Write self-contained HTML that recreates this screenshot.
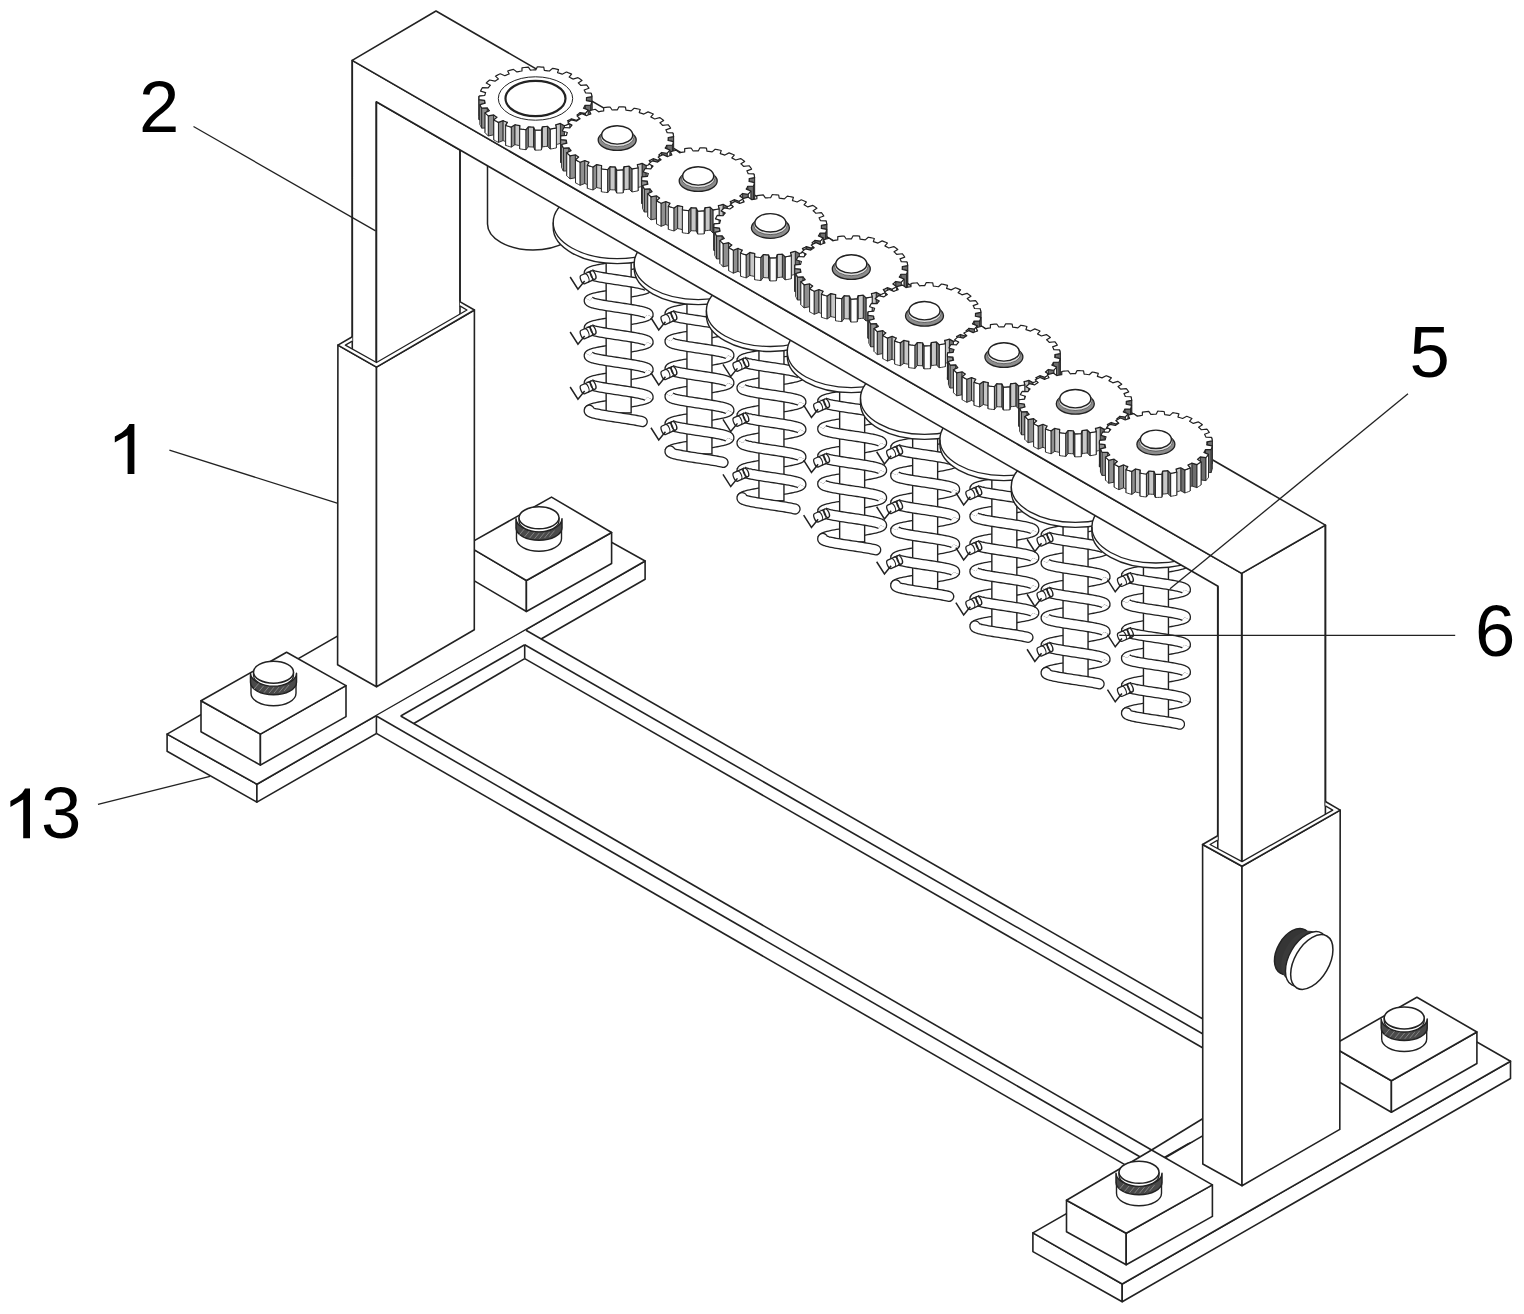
<!DOCTYPE html><html><head><meta charset="utf-8"><style>html,body{margin:0;padding:0;background:#fff;overflow:hidden}svg{display:block}</style></head><body><svg width="1524" height="1314" viewBox="0 0 1524 1314"><rect width="1524" height="1314" fill="#fff"/>
<polygon points="167.1,734.1 256.9,784.2 256.9,802.1 167.1,751.3" fill="#fff" stroke="#222" stroke-width="1.6" stroke-linejoin="round"/>
<polygon points="256.9,784.2 645.1,561 645.1,579.3 256.9,802.1" fill="#fff" stroke="#222" stroke-width="1.6" stroke-linejoin="round"/>
<polygon points="167.1,734.1 256.9,784.2 645.1,561 555.3,510.9" fill="#fff" stroke="#222" stroke-width="1.6" stroke-linejoin="round"/>
<polygon points="1032.9,1232.9 1122.2,1284 1122.2,1301.7 1032.9,1251.6" fill="#fff" stroke="#222" stroke-width="1.6" stroke-linejoin="round"/>
<polygon points="1122.2,1284 1510.5,1061.2 1510.5,1078.5 1122.2,1301.7" fill="#fff" stroke="#222" stroke-width="1.6" stroke-linejoin="round"/>
<polygon points="1032.9,1232.9 1122.2,1284 1510.5,1061.2 1421.2,1010.1" fill="#fff" stroke="#222" stroke-width="1.6" stroke-linejoin="round"/>
<polygon points="376.4,716 526,630.3 1203,1019 1203,1140 1150,1149 1124,1166 376.4,733.4" fill="#fff" stroke="none" stroke-linejoin="round"/>
<line x1="400.7" y1="716" x2="1151.6" y2="1150" stroke="#222" stroke-width="1.6"/>
<line x1="376.4" y1="716" x2="1140.3" y2="1157" stroke="#222" stroke-width="1.6"/>
<line x1="376.4" y1="733.4" x2="1130" y2="1167.6" stroke="#222" stroke-width="1.6"/>
<line x1="376.4" y1="716" x2="376.4" y2="733.4" stroke="#222" stroke-width="1.6"/>
<line x1="526" y1="630.3" x2="1203" y2="1019" stroke="#222" stroke-width="1.6"/>
<line x1="524.7" y1="644.8" x2="1203" y2="1034" stroke="#222" stroke-width="1.6"/>
<line x1="524.7" y1="658.6" x2="1203" y2="1048" stroke="#222" stroke-width="1.6"/>
<line x1="400.7" y1="716" x2="524.7" y2="644.8" stroke="#222" stroke-width="1.6"/>
<line x1="413.8" y1="723.5" x2="524.7" y2="658.6" stroke="#222" stroke-width="1.6"/>
<line x1="524.7" y1="644.8" x2="524.7" y2="658.6" stroke="#222" stroke-width="1.6"/>
<line x1="1151.6" y1="1150" x2="1203" y2="1118.5" stroke="#222" stroke-width="1.6"/>
<line x1="1165.2" y1="1157.7" x2="1203" y2="1135.6" stroke="#222" stroke-width="1.6"/>
<polygon points="201,700.8 260.4,734.1 260.4,765.1 201,731.8" fill="#fff" stroke="#222" stroke-width="1.6" stroke-linejoin="round"/>
<polygon points="260.4,734.1 346,685.6 346,716.6 260.4,765.1" fill="#fff" stroke="#222" stroke-width="1.6" stroke-linejoin="round"/>
<polygon points="201,700.8 260.4,734.1 346,685.6 286.6,652.3" fill="#fff" stroke="#222" stroke-width="1.6" stroke-linejoin="round"/>
<path d="M251,682.2 L251,693.2 A22.5,12.5 0 0 0 296,693.2 L296,682.2 Z" fill="#fff" stroke="#222" stroke-width="1.4" stroke-linejoin="round"/>
<path d="M250.5,673.2 L250.5,682.2 A23,12.5 0 0 0 296.5,682.2 L296.5,673.2 A23,12.5 0 0 1 250.5,673.2 Z" fill="#4a4a4a" stroke="#222" stroke-width="1.5" stroke-linejoin="round"/>
<line x1="254" y1="689.12" x2="259" y2="683.12" stroke="#8a8a8a" stroke-width="0.9"/>
<line x1="259" y1="691.36" x2="264" y2="685.36" stroke="#8a8a8a" stroke-width="0.9"/>
<line x1="264" y1="692.61" x2="269" y2="686.61" stroke="#8a8a8a" stroke-width="0.9"/>
<line x1="269" y1="693.15" x2="274" y2="687.15" stroke="#8a8a8a" stroke-width="0.9"/>
<line x1="274" y1="693.09" x2="279" y2="687.09" stroke="#8a8a8a" stroke-width="0.9"/>
<line x1="279" y1="692.42" x2="284" y2="686.42" stroke="#8a8a8a" stroke-width="0.9"/>
<line x1="284" y1="691.01" x2="289" y2="685.01" stroke="#8a8a8a" stroke-width="0.9"/>
<path d="M253.5,672.2 L253.5,675.2 A20,11 0 0 0 293.5,675.2 L293.5,672.2 Z" fill="#fff" stroke="#222" stroke-width="1.3" stroke-linejoin="round"/>
<ellipse cx="273.5" cy="672.2" rx="20" ry="11" fill="#fff" stroke="#222" stroke-width="1.5"/>
<polygon points="466.3,545.1 526.4,580.5 526.4,611.5 466.3,576.1" fill="#fff" stroke="#222" stroke-width="1.6" stroke-linejoin="round"/>
<polygon points="526.4,580.5 611.6,532.5 611.6,563.5 526.4,611.5" fill="#fff" stroke="#222" stroke-width="1.6" stroke-linejoin="round"/>
<polygon points="466.3,545.1 526.4,580.5 611.6,532.5 551.5,497.1" fill="#fff" stroke="#222" stroke-width="1.6" stroke-linejoin="round"/>
<path d="M516.5,527.8 L516.5,538.8 A22.5,12.5 0 0 0 561.5,538.8 L561.5,527.8 Z" fill="#fff" stroke="#222" stroke-width="1.4" stroke-linejoin="round"/>
<path d="M516,518.8 L516,527.8 A23,12.5 0 0 0 562,527.8 L562,518.8 A23,12.5 0 0 1 516,518.8 Z" fill="#4a4a4a" stroke="#222" stroke-width="1.5" stroke-linejoin="round"/>
<line x1="519.5" y1="534.72" x2="524.5" y2="528.72" stroke="#8a8a8a" stroke-width="0.9"/>
<line x1="524.5" y1="536.96" x2="529.5" y2="530.96" stroke="#8a8a8a" stroke-width="0.9"/>
<line x1="529.5" y1="538.21" x2="534.5" y2="532.21" stroke="#8a8a8a" stroke-width="0.9"/>
<line x1="534.5" y1="538.75" x2="539.5" y2="532.75" stroke="#8a8a8a" stroke-width="0.9"/>
<line x1="539.5" y1="538.69" x2="544.5" y2="532.69" stroke="#8a8a8a" stroke-width="0.9"/>
<line x1="544.5" y1="538.02" x2="549.5" y2="532.02" stroke="#8a8a8a" stroke-width="0.9"/>
<line x1="549.5" y1="536.61" x2="554.5" y2="530.61" stroke="#8a8a8a" stroke-width="0.9"/>
<path d="M519,517.8 L519,520.8 A20,11 0 0 0 559,520.8 L559,517.8 Z" fill="#fff" stroke="#222" stroke-width="1.3" stroke-linejoin="round"/>
<ellipse cx="539" cy="517.8" rx="20" ry="11" fill="#fff" stroke="#222" stroke-width="1.5"/>
<polygon points="1066.5,1200.2 1126.2,1233.3 1126.2,1264.8 1066.5,1231.7" fill="#fff" stroke="#222" stroke-width="1.6" stroke-linejoin="round"/>
<polygon points="1126.2,1233.3 1212.4,1184.9 1212.4,1216.4 1126.2,1264.8" fill="#fff" stroke="#222" stroke-width="1.6" stroke-linejoin="round"/>
<polygon points="1066.5,1200.2 1126.2,1233.3 1212.4,1184.9 1151.6,1150" fill="#fff" stroke="#222" stroke-width="1.6" stroke-linejoin="round"/>
<path d="M1116.5,1182.3 L1116.5,1193.3 A22.5,12.5 0 0 0 1161.5,1193.3 L1161.5,1182.3 Z" fill="#fff" stroke="#222" stroke-width="1.4" stroke-linejoin="round"/>
<path d="M1116,1173.3 L1116,1182.3 A23,12.5 0 0 0 1162,1182.3 L1162,1173.3 A23,12.5 0 0 1 1116,1173.3 Z" fill="#4a4a4a" stroke="#222" stroke-width="1.5" stroke-linejoin="round"/>
<line x1="1119.5" y1="1189.22" x2="1124.5" y2="1183.22" stroke="#8a8a8a" stroke-width="0.9"/>
<line x1="1124.5" y1="1191.46" x2="1129.5" y2="1185.46" stroke="#8a8a8a" stroke-width="0.9"/>
<line x1="1129.5" y1="1192.71" x2="1134.5" y2="1186.71" stroke="#8a8a8a" stroke-width="0.9"/>
<line x1="1134.5" y1="1193.25" x2="1139.5" y2="1187.25" stroke="#8a8a8a" stroke-width="0.9"/>
<line x1="1139.5" y1="1193.19" x2="1144.5" y2="1187.19" stroke="#8a8a8a" stroke-width="0.9"/>
<line x1="1144.5" y1="1192.52" x2="1149.5" y2="1186.52" stroke="#8a8a8a" stroke-width="0.9"/>
<line x1="1149.5" y1="1191.11" x2="1154.5" y2="1185.11" stroke="#8a8a8a" stroke-width="0.9"/>
<path d="M1119,1172.3 L1119,1175.3 A20,11 0 0 0 1159,1175.3 L1159,1172.3 Z" fill="#fff" stroke="#222" stroke-width="1.3" stroke-linejoin="round"/>
<ellipse cx="1139" cy="1172.3" rx="20" ry="11" fill="#fff" stroke="#222" stroke-width="1.5"/>
<polygon points="1331.4,1046 1391.4,1080.7 1391.4,1112.2 1331.4,1077.5" fill="#fff" stroke="#222" stroke-width="1.6" stroke-linejoin="round"/>
<polygon points="1391.4,1080.7 1476.9,1032 1476.9,1063.5 1391.4,1112.2" fill="#fff" stroke="#222" stroke-width="1.6" stroke-linejoin="round"/>
<polygon points="1331.4,1046 1391.4,1080.7 1476.9,1032 1416.9,997.3" fill="#fff" stroke="#222" stroke-width="1.6" stroke-linejoin="round"/>
<path d="M1381.7,1028 L1381.7,1039 A22.5,12.5 0 0 0 1426.7,1039 L1426.7,1028 Z" fill="#fff" stroke="#222" stroke-width="1.4" stroke-linejoin="round"/>
<path d="M1381.2,1019 L1381.2,1028 A23,12.5 0 0 0 1427.2,1028 L1427.2,1019 A23,12.5 0 0 1 1381.2,1019 Z" fill="#4a4a4a" stroke="#222" stroke-width="1.5" stroke-linejoin="round"/>
<line x1="1384.7" y1="1034.92" x2="1389.7" y2="1028.92" stroke="#8a8a8a" stroke-width="0.9"/>
<line x1="1389.7" y1="1037.16" x2="1394.7" y2="1031.16" stroke="#8a8a8a" stroke-width="0.9"/>
<line x1="1394.7" y1="1038.41" x2="1399.7" y2="1032.41" stroke="#8a8a8a" stroke-width="0.9"/>
<line x1="1399.7" y1="1038.95" x2="1404.7" y2="1032.95" stroke="#8a8a8a" stroke-width="0.9"/>
<line x1="1404.7" y1="1038.89" x2="1409.7" y2="1032.89" stroke="#8a8a8a" stroke-width="0.9"/>
<line x1="1409.7" y1="1038.22" x2="1414.7" y2="1032.22" stroke="#8a8a8a" stroke-width="0.9"/>
<line x1="1414.7" y1="1036.81" x2="1419.7" y2="1030.81" stroke="#8a8a8a" stroke-width="0.9"/>
<path d="M1384.2,1018 L1384.2,1021 A20,11 0 0 0 1424.2,1021 L1424.2,1018 Z" fill="#fff" stroke="#222" stroke-width="1.3" stroke-linejoin="round"/>
<ellipse cx="1404.2" cy="1018" rx="20" ry="11" fill="#fff" stroke="#222" stroke-width="1.5"/>
<path d="M487.5,150 L487.5,224 A45.5,26 0 0 0 578.5,224 L578.5,150 Z" fill="#fff" stroke="#222" stroke-width="1.5" stroke-linejoin="round"/>
<path d="M648.15,259.45 L648.04,259.83 L647.7,260.21 L647.14,260.6 L646.37,260.98 L645.39,261.36 L644.2,261.74 L642.81,262.12 L641.25,262.51 L639.51,262.89 L637.61,263.27 L635.57,263.65 L633.4,264.03 L631.12,264.42 L628.74,264.8 L626.29,265.18 L623.77,265.56 L621.22,265.94 L618.65,266.33 L616.08,266.71 L613.53,267.09 L611.01,267.47 L608.56,267.85 L606.18,268.23 L603.9,268.62 L601.73,269 L599.69,269.38 L597.79,269.76 L596.05,270.14 L594.49,270.53 L593.1,270.91 L591.91,271.29 L590.93,271.67 L590.16,272.05 L589.6,272.44 L589.26,272.82 L589.15,273.2" fill="none" stroke="#222" stroke-width="11.2" stroke-linecap="butt" stroke-linejoin="round"/>
<path d="M648.15,259.45 L648.04,259.83 L647.7,260.21 L647.14,260.6 L646.37,260.98 L645.39,261.36 L644.2,261.74 L642.81,262.12 L641.25,262.51 L639.51,262.89 L637.61,263.27 L635.57,263.65 L633.4,264.03 L631.12,264.42 L628.74,264.8 L626.29,265.18 L623.77,265.56 L621.22,265.94 L618.65,266.33 L616.08,266.71 L613.53,267.09 L611.01,267.47 L608.56,267.85 L606.18,268.23 L603.9,268.62 L601.73,269 L599.69,269.38 L597.79,269.76 L596.05,270.14 L594.49,270.53 L593.1,270.91 L591.91,271.29 L590.93,271.67 L590.16,272.05 L589.6,272.44 L589.26,272.82 L589.15,273.2" fill="none" stroke="#fff" stroke-width="8.6" stroke-linecap="butt" stroke-linejoin="round"/>
<path d="M648.15,286.95 L648.04,287.33 L647.7,287.71 L647.14,288.1 L646.37,288.48 L645.39,288.86 L644.2,289.24 L642.81,289.62 L641.25,290.01 L639.51,290.39 L637.61,290.77 L635.57,291.15 L633.4,291.53 L631.12,291.92 L628.74,292.3 L626.29,292.68 L623.77,293.06 L621.22,293.44 L618.65,293.83 L616.08,294.21 L613.53,294.59 L611.01,294.97 L608.56,295.35 L606.18,295.73 L603.9,296.12 L601.73,296.5 L599.69,296.88 L597.79,297.26 L596.05,297.64 L594.49,298.03 L593.1,298.41 L591.91,298.79 L590.93,299.17 L590.16,299.55 L589.6,299.94 L589.26,300.32 L589.15,300.7" fill="none" stroke="#222" stroke-width="11.2" stroke-linecap="butt" stroke-linejoin="round"/>
<path d="M648.15,286.95 L648.04,287.33 L647.7,287.71 L647.14,288.1 L646.37,288.48 L645.39,288.86 L644.2,289.24 L642.81,289.62 L641.25,290.01 L639.51,290.39 L637.61,290.77 L635.57,291.15 L633.4,291.53 L631.12,291.92 L628.74,292.3 L626.29,292.68 L623.77,293.06 L621.22,293.44 L618.65,293.83 L616.08,294.21 L613.53,294.59 L611.01,294.97 L608.56,295.35 L606.18,295.73 L603.9,296.12 L601.73,296.5 L599.69,296.88 L597.79,297.26 L596.05,297.64 L594.49,298.03 L593.1,298.41 L591.91,298.79 L590.93,299.17 L590.16,299.55 L589.6,299.94 L589.26,300.32 L589.15,300.7" fill="none" stroke="#fff" stroke-width="8.6" stroke-linecap="butt" stroke-linejoin="round"/>
<path d="M648.15,314.45 L648.04,314.83 L647.7,315.21 L647.14,315.6 L646.37,315.98 L645.39,316.36 L644.2,316.74 L642.81,317.12 L641.25,317.51 L639.51,317.89 L637.61,318.27 L635.57,318.65 L633.4,319.03 L631.12,319.42 L628.74,319.8 L626.29,320.18 L623.77,320.56 L621.22,320.94 L618.65,321.33 L616.08,321.71 L613.53,322.09 L611.01,322.47 L608.56,322.85 L606.18,323.23 L603.9,323.62 L601.73,324 L599.69,324.38 L597.79,324.76 L596.05,325.14 L594.49,325.53 L593.1,325.91 L591.91,326.29 L590.93,326.67 L590.16,327.05 L589.6,327.44 L589.26,327.82 L589.15,328.2" fill="none" stroke="#222" stroke-width="11.2" stroke-linecap="butt" stroke-linejoin="round"/>
<path d="M648.15,314.45 L648.04,314.83 L647.7,315.21 L647.14,315.6 L646.37,315.98 L645.39,316.36 L644.2,316.74 L642.81,317.12 L641.25,317.51 L639.51,317.89 L637.61,318.27 L635.57,318.65 L633.4,319.03 L631.12,319.42 L628.74,319.8 L626.29,320.18 L623.77,320.56 L621.22,320.94 L618.65,321.33 L616.08,321.71 L613.53,322.09 L611.01,322.47 L608.56,322.85 L606.18,323.23 L603.9,323.62 L601.73,324 L599.69,324.38 L597.79,324.76 L596.05,325.14 L594.49,325.53 L593.1,325.91 L591.91,326.29 L590.93,326.67 L590.16,327.05 L589.6,327.44 L589.26,327.82 L589.15,328.2" fill="none" stroke="#fff" stroke-width="8.6" stroke-linecap="butt" stroke-linejoin="round"/>
<path d="M648.15,341.95 L648.04,342.33 L647.7,342.71 L647.14,343.1 L646.37,343.48 L645.39,343.86 L644.2,344.24 L642.81,344.62 L641.25,345.01 L639.51,345.39 L637.61,345.77 L635.57,346.15 L633.4,346.53 L631.12,346.92 L628.74,347.3 L626.29,347.68 L623.77,348.06 L621.22,348.44 L618.65,348.83 L616.08,349.21 L613.53,349.59 L611.01,349.97 L608.56,350.35 L606.18,350.73 L603.9,351.12 L601.73,351.5 L599.69,351.88 L597.79,352.26 L596.05,352.64 L594.49,353.03 L593.1,353.41 L591.91,353.79 L590.93,354.17 L590.16,354.55 L589.6,354.94 L589.26,355.32 L589.15,355.7" fill="none" stroke="#222" stroke-width="11.2" stroke-linecap="butt" stroke-linejoin="round"/>
<path d="M648.15,341.95 L648.04,342.33 L647.7,342.71 L647.14,343.1 L646.37,343.48 L645.39,343.86 L644.2,344.24 L642.81,344.62 L641.25,345.01 L639.51,345.39 L637.61,345.77 L635.57,346.15 L633.4,346.53 L631.12,346.92 L628.74,347.3 L626.29,347.68 L623.77,348.06 L621.22,348.44 L618.65,348.83 L616.08,349.21 L613.53,349.59 L611.01,349.97 L608.56,350.35 L606.18,350.73 L603.9,351.12 L601.73,351.5 L599.69,351.88 L597.79,352.26 L596.05,352.64 L594.49,353.03 L593.1,353.41 L591.91,353.79 L590.93,354.17 L590.16,354.55 L589.6,354.94 L589.26,355.32 L589.15,355.7" fill="none" stroke="#fff" stroke-width="8.6" stroke-linecap="butt" stroke-linejoin="round"/>
<path d="M648.15,369.45 L648.04,369.83 L647.7,370.21 L647.14,370.6 L646.37,370.98 L645.39,371.36 L644.2,371.74 L642.81,372.12 L641.25,372.51 L639.51,372.89 L637.61,373.27 L635.57,373.65 L633.4,374.03 L631.12,374.42 L628.74,374.8 L626.29,375.18 L623.77,375.56 L621.22,375.94 L618.65,376.33 L616.08,376.71 L613.53,377.09 L611.01,377.47 L608.56,377.85 L606.18,378.23 L603.9,378.62 L601.73,379 L599.69,379.38 L597.79,379.76 L596.05,380.14 L594.49,380.53 L593.1,380.91 L591.91,381.29 L590.93,381.67 L590.16,382.05 L589.6,382.44 L589.26,382.82 L589.15,383.2" fill="none" stroke="#222" stroke-width="11.2" stroke-linecap="butt" stroke-linejoin="round"/>
<path d="M648.15,369.45 L648.04,369.83 L647.7,370.21 L647.14,370.6 L646.37,370.98 L645.39,371.36 L644.2,371.74 L642.81,372.12 L641.25,372.51 L639.51,372.89 L637.61,373.27 L635.57,373.65 L633.4,374.03 L631.12,374.42 L628.74,374.8 L626.29,375.18 L623.77,375.56 L621.22,375.94 L618.65,376.33 L616.08,376.71 L613.53,377.09 L611.01,377.47 L608.56,377.85 L606.18,378.23 L603.9,378.62 L601.73,379 L599.69,379.38 L597.79,379.76 L596.05,380.14 L594.49,380.53 L593.1,380.91 L591.91,381.29 L590.93,381.67 L590.16,382.05 L589.6,382.44 L589.26,382.82 L589.15,383.2" fill="none" stroke="#fff" stroke-width="8.6" stroke-linecap="butt" stroke-linejoin="round"/>
<path d="M648.15,396.95 L648.04,397.33 L647.7,397.71 L647.14,398.1 L646.37,398.48 L645.39,398.86 L644.2,399.24 L642.81,399.62 L641.25,400.01 L639.51,400.39 L637.61,400.77 L635.57,401.15 L633.4,401.53 L631.12,401.92 L628.74,402.3 L626.29,402.68 L623.77,403.06 L621.22,403.44 L618.65,403.83 L616.08,404.21 L613.53,404.59 L611.01,404.97 L608.56,405.35 L606.18,405.73 L603.9,406.12 L601.73,406.5 L599.69,406.88 L597.79,407.26 L596.05,407.64 L594.49,408.03 L593.1,408.41 L591.91,408.79 L590.93,409.17 L590.16,409.55 L589.6,409.94 L589.26,410.32 L589.15,410.7" fill="none" stroke="#222" stroke-width="11.2" stroke-linecap="butt" stroke-linejoin="round"/>
<path d="M648.15,396.95 L648.04,397.33 L647.7,397.71 L647.14,398.1 L646.37,398.48 L645.39,398.86 L644.2,399.24 L642.81,399.62 L641.25,400.01 L639.51,400.39 L637.61,400.77 L635.57,401.15 L633.4,401.53 L631.12,401.92 L628.74,402.3 L626.29,402.68 L623.77,403.06 L621.22,403.44 L618.65,403.83 L616.08,404.21 L613.53,404.59 L611.01,404.97 L608.56,405.35 L606.18,405.73 L603.9,406.12 L601.73,406.5 L599.69,406.88 L597.79,407.26 L596.05,407.64 L594.49,408.03 L593.1,408.41 L591.91,408.79 L590.93,409.17 L590.16,409.55 L589.6,409.94 L589.26,410.32 L589.15,410.7" fill="none" stroke="#fff" stroke-width="8.6" stroke-linecap="butt" stroke-linejoin="round"/>
<rect x="606.15" y="257.6" width="25" height="155.3" fill="#fff" stroke="#222" stroke-width="1.4"/>
<path d="M589.36,272.67 L589.16,273.09 L589.22,273.5 L589.54,273.91 L590.11,274.32 L590.94,274.73 L592.01,275.14 L593.31,275.55 L594.84,275.96 L596.58,276.37 L598.51,276.79 L600.62,277.2 L602.89,277.61 L605.3,278.02 L607.82,278.43 L610.45,278.84 L613.14,279.25 L615.88,279.66 L618.65,280.08 L621.42,280.49 L624.16,280.9 L626.85,281.31 L629.48,281.72 L632,282.13 L634.41,282.54 L636.68,282.95 L638.79,283.36 L640.72,283.78 L642.46,284.19 L643.99,284.6 L645.29,285.01 L646.36,285.42 L647.19,285.83 L647.76,286.24 L648.08,286.65 L648.14,287.06 L647.94,287.48" fill="none" stroke="#222" stroke-width="11.2" stroke-linecap="butt" stroke-linejoin="round"/>
<path d="M589.36,272.67 L589.16,273.09 L589.22,273.5 L589.54,273.91 L590.11,274.32 L590.94,274.73 L592.01,275.14 L593.31,275.55 L594.84,275.96 L596.58,276.37 L598.51,276.79 L600.62,277.2 L602.89,277.61 L605.3,278.02 L607.82,278.43 L610.45,278.84 L613.14,279.25 L615.88,279.66 L618.65,280.08 L621.42,280.49 L624.16,280.9 L626.85,281.31 L629.48,281.72 L632,282.13 L634.41,282.54 L636.68,282.95 L638.79,283.36 L640.72,283.78 L642.46,284.19 L643.99,284.6 L645.29,285.01 L646.36,285.42 L647.19,285.83 L647.76,286.24 L648.08,286.65 L648.14,287.06 L647.94,287.48" fill="none" stroke="#fff" stroke-width="8.6" stroke-linecap="butt" stroke-linejoin="round"/>
<path d="M589.36,300.17 L589.16,300.59 L589.22,301 L589.54,301.41 L590.11,301.82 L590.94,302.23 L592.01,302.64 L593.31,303.05 L594.84,303.46 L596.58,303.87 L598.51,304.29 L600.62,304.7 L602.89,305.11 L605.3,305.52 L607.82,305.93 L610.45,306.34 L613.14,306.75 L615.88,307.16 L618.65,307.58 L621.42,307.99 L624.16,308.4 L626.85,308.81 L629.48,309.22 L632,309.63 L634.41,310.04 L636.68,310.45 L638.79,310.86 L640.72,311.28 L642.46,311.69 L643.99,312.1 L645.29,312.51 L646.36,312.92 L647.19,313.33 L647.76,313.74 L648.08,314.15 L648.14,314.56 L647.94,314.98" fill="none" stroke="#222" stroke-width="11.2" stroke-linecap="butt" stroke-linejoin="round"/>
<path d="M589.36,300.17 L589.16,300.59 L589.22,301 L589.54,301.41 L590.11,301.82 L590.94,302.23 L592.01,302.64 L593.31,303.05 L594.84,303.46 L596.58,303.87 L598.51,304.29 L600.62,304.7 L602.89,305.11 L605.3,305.52 L607.82,305.93 L610.45,306.34 L613.14,306.75 L615.88,307.16 L618.65,307.58 L621.42,307.99 L624.16,308.4 L626.85,308.81 L629.48,309.22 L632,309.63 L634.41,310.04 L636.68,310.45 L638.79,310.86 L640.72,311.28 L642.46,311.69 L643.99,312.1 L645.29,312.51 L646.36,312.92 L647.19,313.33 L647.76,313.74 L648.08,314.15 L648.14,314.56 L647.94,314.98" fill="none" stroke="#fff" stroke-width="8.6" stroke-linecap="butt" stroke-linejoin="round"/>
<path d="M589.36,327.67 L589.16,328.09 L589.22,328.5 L589.54,328.91 L590.11,329.32 L590.94,329.73 L592.01,330.14 L593.31,330.55 L594.84,330.96 L596.58,331.37 L598.51,331.79 L600.62,332.2 L602.89,332.61 L605.3,333.02 L607.82,333.43 L610.45,333.84 L613.14,334.25 L615.88,334.66 L618.65,335.08 L621.42,335.49 L624.16,335.9 L626.85,336.31 L629.48,336.72 L632,337.13 L634.41,337.54 L636.68,337.95 L638.79,338.36 L640.72,338.78 L642.46,339.19 L643.99,339.6 L645.29,340.01 L646.36,340.42 L647.19,340.83 L647.76,341.24 L648.08,341.65 L648.14,342.06 L647.94,342.48" fill="none" stroke="#222" stroke-width="11.2" stroke-linecap="butt" stroke-linejoin="round"/>
<path d="M589.36,327.67 L589.16,328.09 L589.22,328.5 L589.54,328.91 L590.11,329.32 L590.94,329.73 L592.01,330.14 L593.31,330.55 L594.84,330.96 L596.58,331.37 L598.51,331.79 L600.62,332.2 L602.89,332.61 L605.3,333.02 L607.82,333.43 L610.45,333.84 L613.14,334.25 L615.88,334.66 L618.65,335.08 L621.42,335.49 L624.16,335.9 L626.85,336.31 L629.48,336.72 L632,337.13 L634.41,337.54 L636.68,337.95 L638.79,338.36 L640.72,338.78 L642.46,339.19 L643.99,339.6 L645.29,340.01 L646.36,340.42 L647.19,340.83 L647.76,341.24 L648.08,341.65 L648.14,342.06 L647.94,342.48" fill="none" stroke="#fff" stroke-width="8.6" stroke-linecap="butt" stroke-linejoin="round"/>
<path d="M589.36,355.17 L589.16,355.59 L589.22,356 L589.54,356.41 L590.11,356.82 L590.94,357.23 L592.01,357.64 L593.31,358.05 L594.84,358.46 L596.58,358.87 L598.51,359.29 L600.62,359.7 L602.89,360.11 L605.3,360.52 L607.82,360.93 L610.45,361.34 L613.14,361.75 L615.88,362.16 L618.65,362.58 L621.42,362.99 L624.16,363.4 L626.85,363.81 L629.48,364.22 L632,364.63 L634.41,365.04 L636.68,365.45 L638.79,365.86 L640.72,366.28 L642.46,366.69 L643.99,367.1 L645.29,367.51 L646.36,367.92 L647.19,368.33 L647.76,368.74 L648.08,369.15 L648.14,369.56 L647.94,369.98" fill="none" stroke="#222" stroke-width="11.2" stroke-linecap="butt" stroke-linejoin="round"/>
<path d="M589.36,355.17 L589.16,355.59 L589.22,356 L589.54,356.41 L590.11,356.82 L590.94,357.23 L592.01,357.64 L593.31,358.05 L594.84,358.46 L596.58,358.87 L598.51,359.29 L600.62,359.7 L602.89,360.11 L605.3,360.52 L607.82,360.93 L610.45,361.34 L613.14,361.75 L615.88,362.16 L618.65,362.58 L621.42,362.99 L624.16,363.4 L626.85,363.81 L629.48,364.22 L632,364.63 L634.41,365.04 L636.68,365.45 L638.79,365.86 L640.72,366.28 L642.46,366.69 L643.99,367.1 L645.29,367.51 L646.36,367.92 L647.19,368.33 L647.76,368.74 L648.08,369.15 L648.14,369.56 L647.94,369.98" fill="none" stroke="#fff" stroke-width="8.6" stroke-linecap="butt" stroke-linejoin="round"/>
<path d="M589.36,382.67 L589.16,383.09 L589.22,383.5 L589.54,383.91 L590.11,384.32 L590.94,384.73 L592.01,385.14 L593.31,385.55 L594.84,385.96 L596.58,386.37 L598.51,386.79 L600.62,387.2 L602.89,387.61 L605.3,388.02 L607.82,388.43 L610.45,388.84 L613.14,389.25 L615.88,389.66 L618.65,390.08 L621.42,390.49 L624.16,390.9 L626.85,391.31 L629.48,391.72 L632,392.13 L634.41,392.54 L636.68,392.95 L638.79,393.36 L640.72,393.78 L642.46,394.19 L643.99,394.6 L645.29,395.01 L646.36,395.42 L647.19,395.83 L647.76,396.24 L648.08,396.65 L648.14,397.06 L647.94,397.48" fill="none" stroke="#222" stroke-width="11.2" stroke-linecap="butt" stroke-linejoin="round"/>
<path d="M589.36,382.67 L589.16,383.09 L589.22,383.5 L589.54,383.91 L590.11,384.32 L590.94,384.73 L592.01,385.14 L593.31,385.55 L594.84,385.96 L596.58,386.37 L598.51,386.79 L600.62,387.2 L602.89,387.61 L605.3,388.02 L607.82,388.43 L610.45,388.84 L613.14,389.25 L615.88,389.66 L618.65,390.08 L621.42,390.49 L624.16,390.9 L626.85,391.31 L629.48,391.72 L632,392.13 L634.41,392.54 L636.68,392.95 L638.79,393.36 L640.72,393.78 L642.46,394.19 L643.99,394.6 L645.29,395.01 L646.36,395.42 L647.19,395.83 L647.76,396.24 L648.08,396.65 L648.14,397.06 L647.94,397.48" fill="none" stroke="#fff" stroke-width="8.6" stroke-linecap="butt" stroke-linejoin="round"/>
<path d="M589.36,410.17 L589.18,410.49 L589.16,410.81 L589.29,411.13 L589.58,411.45 L590.02,411.77 L590.62,412.09 L591.36,412.4 L592.25,412.72 L593.27,413.04 L594.43,413.36 L595.72,413.68 L597.13,414 L598.66,414.32 L600.29,414.63 L602.01,414.95 L603.83,415.27 L605.72,415.59 L607.69,415.91 L609.71,416.23 L611.77,416.55 L613.88,416.86 L616.01,417.18 L618.15,417.5 L620.3,417.82 L622.43,418.14 L624.55,418.46 L626.64,418.78 L628.68,419.09 L630.67,419.41 L632.6,419.73 L634.45,420.05 L636.22,420.37 L637.9,420.69 L639.47,421 L640.94,421.32 L642.28,421.64" fill="none" stroke="#222" stroke-width="11.2" stroke-linecap="round" stroke-linejoin="round"/>
<path d="M589.36,410.17 L589.18,410.49 L589.16,410.81 L589.29,411.13 L589.58,411.45 L590.02,411.77 L590.62,412.09 L591.36,412.4 L592.25,412.72 L593.27,413.04 L594.43,413.36 L595.72,413.68 L597.13,414 L598.66,414.32 L600.29,414.63 L602.01,414.95 L603.83,415.27 L605.72,415.59 L607.69,415.91 L609.71,416.23 L611.77,416.55 L613.88,416.86 L616.01,417.18 L618.15,417.5 L620.3,417.82 L622.43,418.14 L624.55,418.46 L626.64,418.78 L628.68,419.09 L630.67,419.41 L632.6,419.73 L634.45,420.05 L636.22,420.37 L637.9,420.69 L639.47,421 L640.94,421.32 L642.28,421.64" fill="none" stroke="#fff" stroke-width="8.6" stroke-linecap="round" stroke-linejoin="round"/>
<g transform="translate(589.15,273.2)"><g transform="translate(4,1.8) rotate(-24)"><path d="M0,-4.6 L-11,-4.6 A2.3,4.6 0 0 0 -11,4.6 L0,4.6" fill="#fff" stroke="#222" stroke-width="1.3"/><ellipse cx="0" cy="0" rx="2.3" ry="4.6" fill="#fff" stroke="#222" stroke-width="1.3"/><path d="M-3.8,-4.6 A2.3,4.6 0 0 1 -3.8,4.6 M-7.5,-4.6 A2.3,4.6 0 0 1 -7.5,4.6" fill="none" stroke="#222" stroke-width="1.1"/></g><path d="M-19,3.8 L-11.2,16 L-4.5,7.8" fill="none" stroke="#222" stroke-width="1.5" stroke-linejoin="miter"/></g>
<g transform="translate(589.15,328.2)"><g transform="translate(4,1.8) rotate(-24)"><path d="M0,-4.6 L-11,-4.6 A2.3,4.6 0 0 0 -11,4.6 L0,4.6" fill="#fff" stroke="#222" stroke-width="1.3"/><ellipse cx="0" cy="0" rx="2.3" ry="4.6" fill="#fff" stroke="#222" stroke-width="1.3"/><path d="M-3.8,-4.6 A2.3,4.6 0 0 1 -3.8,4.6 M-7.5,-4.6 A2.3,4.6 0 0 1 -7.5,4.6" fill="none" stroke="#222" stroke-width="1.1"/></g><path d="M-19,3.8 L-11.2,16 L-4.5,7.8" fill="none" stroke="#222" stroke-width="1.5" stroke-linejoin="miter"/></g>
<g transform="translate(589.15,383.2)"><g transform="translate(4,1.8) rotate(-24)"><path d="M0,-4.6 L-11,-4.6 A2.3,4.6 0 0 0 -11,4.6 L0,4.6" fill="#fff" stroke="#222" stroke-width="1.3"/><ellipse cx="0" cy="0" rx="2.3" ry="4.6" fill="#fff" stroke="#222" stroke-width="1.3"/><path d="M-3.8,-4.6 A2.3,4.6 0 0 1 -3.8,4.6 M-7.5,-4.6 A2.3,4.6 0 0 1 -7.5,4.6" fill="none" stroke="#222" stroke-width="1.1"/></g><path d="M-19,3.8 L-11.2,16 L-4.5,7.8" fill="none" stroke="#222" stroke-width="1.5" stroke-linejoin="miter"/></g>
<path d="M553.2,222.6 L553.2,227.6 A64,36 0 0 0 681.2,227.6 L681.2,222.6 A64,36 0 0 0 553.2,222.6 Z" fill="#fff" stroke="#222" stroke-width="1.4" stroke-linejoin="round"/>
<path d="M553.2,222.6 A64,36 0 0 0 681.2,222.6" fill="none" stroke="#222" stroke-width="1.3" stroke-linejoin="round"/>
<path d="M728.95,300.19 L728.84,300.57 L728.5,300.95 L727.94,301.34 L727.17,301.72 L726.19,302.1 L725,302.48 L723.61,302.86 L722.05,303.25 L720.31,303.63 L718.41,304.01 L716.37,304.39 L714.2,304.77 L711.92,305.16 L709.54,305.54 L707.09,305.92 L704.57,306.3 L702.02,306.68 L699.45,307.07 L696.88,307.45 L694.33,307.83 L691.81,308.21 L689.36,308.59 L686.98,308.97 L684.7,309.36 L682.53,309.74 L680.49,310.12 L678.59,310.5 L676.85,310.88 L675.29,311.27 L673.9,311.65 L672.71,312.03 L671.73,312.41 L670.96,312.79 L670.4,313.18 L670.06,313.56 L669.95,313.94" fill="none" stroke="#222" stroke-width="11.2" stroke-linecap="butt" stroke-linejoin="round"/>
<path d="M728.95,300.19 L728.84,300.57 L728.5,300.95 L727.94,301.34 L727.17,301.72 L726.19,302.1 L725,302.48 L723.61,302.86 L722.05,303.25 L720.31,303.63 L718.41,304.01 L716.37,304.39 L714.2,304.77 L711.92,305.16 L709.54,305.54 L707.09,305.92 L704.57,306.3 L702.02,306.68 L699.45,307.07 L696.88,307.45 L694.33,307.83 L691.81,308.21 L689.36,308.59 L686.98,308.97 L684.7,309.36 L682.53,309.74 L680.49,310.12 L678.59,310.5 L676.85,310.88 L675.29,311.27 L673.9,311.65 L672.71,312.03 L671.73,312.41 L670.96,312.79 L670.4,313.18 L670.06,313.56 L669.95,313.94" fill="none" stroke="#fff" stroke-width="8.6" stroke-linecap="butt" stroke-linejoin="round"/>
<path d="M728.95,327.69 L728.84,328.07 L728.5,328.45 L727.94,328.84 L727.17,329.22 L726.19,329.6 L725,329.98 L723.61,330.36 L722.05,330.75 L720.31,331.13 L718.41,331.51 L716.37,331.89 L714.2,332.27 L711.92,332.66 L709.54,333.04 L707.09,333.42 L704.57,333.8 L702.02,334.18 L699.45,334.57 L696.88,334.95 L694.33,335.33 L691.81,335.71 L689.36,336.09 L686.98,336.47 L684.7,336.86 L682.53,337.24 L680.49,337.62 L678.59,338 L676.85,338.38 L675.29,338.77 L673.9,339.15 L672.71,339.53 L671.73,339.91 L670.96,340.29 L670.4,340.68 L670.06,341.06 L669.95,341.44" fill="none" stroke="#222" stroke-width="11.2" stroke-linecap="butt" stroke-linejoin="round"/>
<path d="M728.95,327.69 L728.84,328.07 L728.5,328.45 L727.94,328.84 L727.17,329.22 L726.19,329.6 L725,329.98 L723.61,330.36 L722.05,330.75 L720.31,331.13 L718.41,331.51 L716.37,331.89 L714.2,332.27 L711.92,332.66 L709.54,333.04 L707.09,333.42 L704.57,333.8 L702.02,334.18 L699.45,334.57 L696.88,334.95 L694.33,335.33 L691.81,335.71 L689.36,336.09 L686.98,336.47 L684.7,336.86 L682.53,337.24 L680.49,337.62 L678.59,338 L676.85,338.38 L675.29,338.77 L673.9,339.15 L672.71,339.53 L671.73,339.91 L670.96,340.29 L670.4,340.68 L670.06,341.06 L669.95,341.44" fill="none" stroke="#fff" stroke-width="8.6" stroke-linecap="butt" stroke-linejoin="round"/>
<path d="M728.95,355.19 L728.84,355.57 L728.5,355.95 L727.94,356.34 L727.17,356.72 L726.19,357.1 L725,357.48 L723.61,357.86 L722.05,358.25 L720.31,358.63 L718.41,359.01 L716.37,359.39 L714.2,359.77 L711.92,360.16 L709.54,360.54 L707.09,360.92 L704.57,361.3 L702.02,361.68 L699.45,362.07 L696.88,362.45 L694.33,362.83 L691.81,363.21 L689.36,363.59 L686.98,363.97 L684.7,364.36 L682.53,364.74 L680.49,365.12 L678.59,365.5 L676.85,365.88 L675.29,366.27 L673.9,366.65 L672.71,367.03 L671.73,367.41 L670.96,367.79 L670.4,368.18 L670.06,368.56 L669.95,368.94" fill="none" stroke="#222" stroke-width="11.2" stroke-linecap="butt" stroke-linejoin="round"/>
<path d="M728.95,355.19 L728.84,355.57 L728.5,355.95 L727.94,356.34 L727.17,356.72 L726.19,357.1 L725,357.48 L723.61,357.86 L722.05,358.25 L720.31,358.63 L718.41,359.01 L716.37,359.39 L714.2,359.77 L711.92,360.16 L709.54,360.54 L707.09,360.92 L704.57,361.3 L702.02,361.68 L699.45,362.07 L696.88,362.45 L694.33,362.83 L691.81,363.21 L689.36,363.59 L686.98,363.97 L684.7,364.36 L682.53,364.74 L680.49,365.12 L678.59,365.5 L676.85,365.88 L675.29,366.27 L673.9,366.65 L672.71,367.03 L671.73,367.41 L670.96,367.79 L670.4,368.18 L670.06,368.56 L669.95,368.94" fill="none" stroke="#fff" stroke-width="8.6" stroke-linecap="butt" stroke-linejoin="round"/>
<path d="M728.95,382.69 L728.84,383.07 L728.5,383.45 L727.94,383.84 L727.17,384.22 L726.19,384.6 L725,384.98 L723.61,385.36 L722.05,385.75 L720.31,386.13 L718.41,386.51 L716.37,386.89 L714.2,387.27 L711.92,387.66 L709.54,388.04 L707.09,388.42 L704.57,388.8 L702.02,389.18 L699.45,389.57 L696.88,389.95 L694.33,390.33 L691.81,390.71 L689.36,391.09 L686.98,391.47 L684.7,391.86 L682.53,392.24 L680.49,392.62 L678.59,393 L676.85,393.38 L675.29,393.77 L673.9,394.15 L672.71,394.53 L671.73,394.91 L670.96,395.29 L670.4,395.68 L670.06,396.06 L669.95,396.44" fill="none" stroke="#222" stroke-width="11.2" stroke-linecap="butt" stroke-linejoin="round"/>
<path d="M728.95,382.69 L728.84,383.07 L728.5,383.45 L727.94,383.84 L727.17,384.22 L726.19,384.6 L725,384.98 L723.61,385.36 L722.05,385.75 L720.31,386.13 L718.41,386.51 L716.37,386.89 L714.2,387.27 L711.92,387.66 L709.54,388.04 L707.09,388.42 L704.57,388.8 L702.02,389.18 L699.45,389.57 L696.88,389.95 L694.33,390.33 L691.81,390.71 L689.36,391.09 L686.98,391.47 L684.7,391.86 L682.53,392.24 L680.49,392.62 L678.59,393 L676.85,393.38 L675.29,393.77 L673.9,394.15 L672.71,394.53 L671.73,394.91 L670.96,395.29 L670.4,395.68 L670.06,396.06 L669.95,396.44" fill="none" stroke="#fff" stroke-width="8.6" stroke-linecap="butt" stroke-linejoin="round"/>
<path d="M728.95,410.19 L728.84,410.57 L728.5,410.95 L727.94,411.34 L727.17,411.72 L726.19,412.1 L725,412.48 L723.61,412.86 L722.05,413.25 L720.31,413.63 L718.41,414.01 L716.37,414.39 L714.2,414.77 L711.92,415.16 L709.54,415.54 L707.09,415.92 L704.57,416.3 L702.02,416.68 L699.45,417.07 L696.88,417.45 L694.33,417.83 L691.81,418.21 L689.36,418.59 L686.98,418.97 L684.7,419.36 L682.53,419.74 L680.49,420.12 L678.59,420.5 L676.85,420.88 L675.29,421.27 L673.9,421.65 L672.71,422.03 L671.73,422.41 L670.96,422.79 L670.4,423.18 L670.06,423.56 L669.95,423.94" fill="none" stroke="#222" stroke-width="11.2" stroke-linecap="butt" stroke-linejoin="round"/>
<path d="M728.95,410.19 L728.84,410.57 L728.5,410.95 L727.94,411.34 L727.17,411.72 L726.19,412.1 L725,412.48 L723.61,412.86 L722.05,413.25 L720.31,413.63 L718.41,414.01 L716.37,414.39 L714.2,414.77 L711.92,415.16 L709.54,415.54 L707.09,415.92 L704.57,416.3 L702.02,416.68 L699.45,417.07 L696.88,417.45 L694.33,417.83 L691.81,418.21 L689.36,418.59 L686.98,418.97 L684.7,419.36 L682.53,419.74 L680.49,420.12 L678.59,420.5 L676.85,420.88 L675.29,421.27 L673.9,421.65 L672.71,422.03 L671.73,422.41 L670.96,422.79 L670.4,423.18 L670.06,423.56 L669.95,423.94" fill="none" stroke="#fff" stroke-width="8.6" stroke-linecap="butt" stroke-linejoin="round"/>
<path d="M728.95,437.69 L728.84,438.07 L728.5,438.45 L727.94,438.84 L727.17,439.22 L726.19,439.6 L725,439.98 L723.61,440.36 L722.05,440.75 L720.31,441.13 L718.41,441.51 L716.37,441.89 L714.2,442.27 L711.92,442.66 L709.54,443.04 L707.09,443.42 L704.57,443.8 L702.02,444.18 L699.45,444.57 L696.88,444.95 L694.33,445.33 L691.81,445.71 L689.36,446.09 L686.98,446.47 L684.7,446.86 L682.53,447.24 L680.49,447.62 L678.59,448 L676.85,448.38 L675.29,448.77 L673.9,449.15 L672.71,449.53 L671.73,449.91 L670.96,450.29 L670.4,450.68 L670.06,451.06 L669.95,451.44" fill="none" stroke="#222" stroke-width="11.2" stroke-linecap="butt" stroke-linejoin="round"/>
<path d="M728.95,437.69 L728.84,438.07 L728.5,438.45 L727.94,438.84 L727.17,439.22 L726.19,439.6 L725,439.98 L723.61,440.36 L722.05,440.75 L720.31,441.13 L718.41,441.51 L716.37,441.89 L714.2,442.27 L711.92,442.66 L709.54,443.04 L707.09,443.42 L704.57,443.8 L702.02,444.18 L699.45,444.57 L696.88,444.95 L694.33,445.33 L691.81,445.71 L689.36,446.09 L686.98,446.47 L684.7,446.86 L682.53,447.24 L680.49,447.62 L678.59,448 L676.85,448.38 L675.29,448.77 L673.9,449.15 L672.71,449.53 L671.73,449.91 L670.96,450.29 L670.4,450.68 L670.06,451.06 L669.95,451.44" fill="none" stroke="#fff" stroke-width="8.6" stroke-linecap="butt" stroke-linejoin="round"/>
<rect x="686.95" y="298.6" width="25" height="155.3" fill="#fff" stroke="#222" stroke-width="1.4"/>
<path d="M670.16,313.41 L669.96,313.83 L670.02,314.24 L670.34,314.65 L670.91,315.06 L671.74,315.47 L672.81,315.88 L674.11,316.29 L675.64,316.7 L677.38,317.11 L679.31,317.53 L681.42,317.94 L683.69,318.35 L686.1,318.76 L688.62,319.17 L691.25,319.58 L693.94,319.99 L696.68,320.4 L699.45,320.82 L702.22,321.23 L704.96,321.64 L707.65,322.05 L710.28,322.46 L712.8,322.87 L715.21,323.28 L717.48,323.69 L719.59,324.1 L721.52,324.52 L723.26,324.93 L724.79,325.34 L726.09,325.75 L727.16,326.16 L727.99,326.57 L728.56,326.98 L728.88,327.39 L728.94,327.8 L728.74,328.22" fill="none" stroke="#222" stroke-width="11.2" stroke-linecap="butt" stroke-linejoin="round"/>
<path d="M670.16,313.41 L669.96,313.83 L670.02,314.24 L670.34,314.65 L670.91,315.06 L671.74,315.47 L672.81,315.88 L674.11,316.29 L675.64,316.7 L677.38,317.11 L679.31,317.53 L681.42,317.94 L683.69,318.35 L686.1,318.76 L688.62,319.17 L691.25,319.58 L693.94,319.99 L696.68,320.4 L699.45,320.82 L702.22,321.23 L704.96,321.64 L707.65,322.05 L710.28,322.46 L712.8,322.87 L715.21,323.28 L717.48,323.69 L719.59,324.1 L721.52,324.52 L723.26,324.93 L724.79,325.34 L726.09,325.75 L727.16,326.16 L727.99,326.57 L728.56,326.98 L728.88,327.39 L728.94,327.8 L728.74,328.22" fill="none" stroke="#fff" stroke-width="8.6" stroke-linecap="butt" stroke-linejoin="round"/>
<path d="M670.16,340.91 L669.96,341.33 L670.02,341.74 L670.34,342.15 L670.91,342.56 L671.74,342.97 L672.81,343.38 L674.11,343.79 L675.64,344.2 L677.38,344.61 L679.31,345.03 L681.42,345.44 L683.69,345.85 L686.1,346.26 L688.62,346.67 L691.25,347.08 L693.94,347.49 L696.68,347.9 L699.45,348.32 L702.22,348.73 L704.96,349.14 L707.65,349.55 L710.28,349.96 L712.8,350.37 L715.21,350.78 L717.48,351.19 L719.59,351.6 L721.52,352.02 L723.26,352.43 L724.79,352.84 L726.09,353.25 L727.16,353.66 L727.99,354.07 L728.56,354.48 L728.88,354.89 L728.94,355.3 L728.74,355.72" fill="none" stroke="#222" stroke-width="11.2" stroke-linecap="butt" stroke-linejoin="round"/>
<path d="M670.16,340.91 L669.96,341.33 L670.02,341.74 L670.34,342.15 L670.91,342.56 L671.74,342.97 L672.81,343.38 L674.11,343.79 L675.64,344.2 L677.38,344.61 L679.31,345.03 L681.42,345.44 L683.69,345.85 L686.1,346.26 L688.62,346.67 L691.25,347.08 L693.94,347.49 L696.68,347.9 L699.45,348.32 L702.22,348.73 L704.96,349.14 L707.65,349.55 L710.28,349.96 L712.8,350.37 L715.21,350.78 L717.48,351.19 L719.59,351.6 L721.52,352.02 L723.26,352.43 L724.79,352.84 L726.09,353.25 L727.16,353.66 L727.99,354.07 L728.56,354.48 L728.88,354.89 L728.94,355.3 L728.74,355.72" fill="none" stroke="#fff" stroke-width="8.6" stroke-linecap="butt" stroke-linejoin="round"/>
<path d="M670.16,368.41 L669.96,368.83 L670.02,369.24 L670.34,369.65 L670.91,370.06 L671.74,370.47 L672.81,370.88 L674.11,371.29 L675.64,371.7 L677.38,372.11 L679.31,372.53 L681.42,372.94 L683.69,373.35 L686.1,373.76 L688.62,374.17 L691.25,374.58 L693.94,374.99 L696.68,375.4 L699.45,375.82 L702.22,376.23 L704.96,376.64 L707.65,377.05 L710.28,377.46 L712.8,377.87 L715.21,378.28 L717.48,378.69 L719.59,379.1 L721.52,379.52 L723.26,379.93 L724.79,380.34 L726.09,380.75 L727.16,381.16 L727.99,381.57 L728.56,381.98 L728.88,382.39 L728.94,382.8 L728.74,383.22" fill="none" stroke="#222" stroke-width="11.2" stroke-linecap="butt" stroke-linejoin="round"/>
<path d="M670.16,368.41 L669.96,368.83 L670.02,369.24 L670.34,369.65 L670.91,370.06 L671.74,370.47 L672.81,370.88 L674.11,371.29 L675.64,371.7 L677.38,372.11 L679.31,372.53 L681.42,372.94 L683.69,373.35 L686.1,373.76 L688.62,374.17 L691.25,374.58 L693.94,374.99 L696.68,375.4 L699.45,375.82 L702.22,376.23 L704.96,376.64 L707.65,377.05 L710.28,377.46 L712.8,377.87 L715.21,378.28 L717.48,378.69 L719.59,379.1 L721.52,379.52 L723.26,379.93 L724.79,380.34 L726.09,380.75 L727.16,381.16 L727.99,381.57 L728.56,381.98 L728.88,382.39 L728.94,382.8 L728.74,383.22" fill="none" stroke="#fff" stroke-width="8.6" stroke-linecap="butt" stroke-linejoin="round"/>
<path d="M670.16,395.91 L669.96,396.33 L670.02,396.74 L670.34,397.15 L670.91,397.56 L671.74,397.97 L672.81,398.38 L674.11,398.79 L675.64,399.2 L677.38,399.61 L679.31,400.03 L681.42,400.44 L683.69,400.85 L686.1,401.26 L688.62,401.67 L691.25,402.08 L693.94,402.49 L696.68,402.9 L699.45,403.32 L702.22,403.73 L704.96,404.14 L707.65,404.55 L710.28,404.96 L712.8,405.37 L715.21,405.78 L717.48,406.19 L719.59,406.6 L721.52,407.02 L723.26,407.43 L724.79,407.84 L726.09,408.25 L727.16,408.66 L727.99,409.07 L728.56,409.48 L728.88,409.89 L728.94,410.3 L728.74,410.72" fill="none" stroke="#222" stroke-width="11.2" stroke-linecap="butt" stroke-linejoin="round"/>
<path d="M670.16,395.91 L669.96,396.33 L670.02,396.74 L670.34,397.15 L670.91,397.56 L671.74,397.97 L672.81,398.38 L674.11,398.79 L675.64,399.2 L677.38,399.61 L679.31,400.03 L681.42,400.44 L683.69,400.85 L686.1,401.26 L688.62,401.67 L691.25,402.08 L693.94,402.49 L696.68,402.9 L699.45,403.32 L702.22,403.73 L704.96,404.14 L707.65,404.55 L710.28,404.96 L712.8,405.37 L715.21,405.78 L717.48,406.19 L719.59,406.6 L721.52,407.02 L723.26,407.43 L724.79,407.84 L726.09,408.25 L727.16,408.66 L727.99,409.07 L728.56,409.48 L728.88,409.89 L728.94,410.3 L728.74,410.72" fill="none" stroke="#fff" stroke-width="8.6" stroke-linecap="butt" stroke-linejoin="round"/>
<path d="M670.16,423.41 L669.96,423.83 L670.02,424.24 L670.34,424.65 L670.91,425.06 L671.74,425.47 L672.81,425.88 L674.11,426.29 L675.64,426.7 L677.38,427.11 L679.31,427.53 L681.42,427.94 L683.69,428.35 L686.1,428.76 L688.62,429.17 L691.25,429.58 L693.94,429.99 L696.68,430.4 L699.45,430.82 L702.22,431.23 L704.96,431.64 L707.65,432.05 L710.28,432.46 L712.8,432.87 L715.21,433.28 L717.48,433.69 L719.59,434.1 L721.52,434.52 L723.26,434.93 L724.79,435.34 L726.09,435.75 L727.16,436.16 L727.99,436.57 L728.56,436.98 L728.88,437.39 L728.94,437.8 L728.74,438.22" fill="none" stroke="#222" stroke-width="11.2" stroke-linecap="butt" stroke-linejoin="round"/>
<path d="M670.16,423.41 L669.96,423.83 L670.02,424.24 L670.34,424.65 L670.91,425.06 L671.74,425.47 L672.81,425.88 L674.11,426.29 L675.64,426.7 L677.38,427.11 L679.31,427.53 L681.42,427.94 L683.69,428.35 L686.1,428.76 L688.62,429.17 L691.25,429.58 L693.94,429.99 L696.68,430.4 L699.45,430.82 L702.22,431.23 L704.96,431.64 L707.65,432.05 L710.28,432.46 L712.8,432.87 L715.21,433.28 L717.48,433.69 L719.59,434.1 L721.52,434.52 L723.26,434.93 L724.79,435.34 L726.09,435.75 L727.16,436.16 L727.99,436.57 L728.56,436.98 L728.88,437.39 L728.94,437.8 L728.74,438.22" fill="none" stroke="#fff" stroke-width="8.6" stroke-linecap="butt" stroke-linejoin="round"/>
<path d="M670.16,450.91 L669.98,451.23 L669.96,451.55 L670.09,451.87 L670.38,452.19 L670.82,452.51 L671.42,452.83 L672.16,453.14 L673.05,453.46 L674.07,453.78 L675.23,454.1 L676.52,454.42 L677.93,454.74 L679.46,455.06 L681.09,455.37 L682.81,455.69 L684.63,456.01 L686.52,456.33 L688.49,456.65 L690.51,456.97 L692.57,457.29 L694.68,457.6 L696.81,457.92 L698.95,458.24 L701.1,458.56 L703.23,458.88 L705.35,459.2 L707.44,459.52 L709.48,459.83 L711.47,460.15 L713.4,460.47 L715.25,460.79 L717.02,461.11 L718.7,461.43 L720.27,461.74 L721.74,462.06 L723.08,462.38" fill="none" stroke="#222" stroke-width="11.2" stroke-linecap="round" stroke-linejoin="round"/>
<path d="M670.16,450.91 L669.98,451.23 L669.96,451.55 L670.09,451.87 L670.38,452.19 L670.82,452.51 L671.42,452.83 L672.16,453.14 L673.05,453.46 L674.07,453.78 L675.23,454.1 L676.52,454.42 L677.93,454.74 L679.46,455.06 L681.09,455.37 L682.81,455.69 L684.63,456.01 L686.52,456.33 L688.49,456.65 L690.51,456.97 L692.57,457.29 L694.68,457.6 L696.81,457.92 L698.95,458.24 L701.1,458.56 L703.23,458.88 L705.35,459.2 L707.44,459.52 L709.48,459.83 L711.47,460.15 L713.4,460.47 L715.25,460.79 L717.02,461.11 L718.7,461.43 L720.27,461.74 L721.74,462.06 L723.08,462.38" fill="none" stroke="#fff" stroke-width="8.6" stroke-linecap="round" stroke-linejoin="round"/>
<g transform="translate(669.95,313.94)"><g transform="translate(4,1.8) rotate(-24)"><path d="M0,-4.6 L-11,-4.6 A2.3,4.6 0 0 0 -11,4.6 L0,4.6" fill="#fff" stroke="#222" stroke-width="1.3"/><ellipse cx="0" cy="0" rx="2.3" ry="4.6" fill="#fff" stroke="#222" stroke-width="1.3"/><path d="M-3.8,-4.6 A2.3,4.6 0 0 1 -3.8,4.6 M-7.5,-4.6 A2.3,4.6 0 0 1 -7.5,4.6" fill="none" stroke="#222" stroke-width="1.1"/></g><path d="M-19,3.8 L-11.2,16 L-4.5,7.8" fill="none" stroke="#222" stroke-width="1.5" stroke-linejoin="miter"/></g>
<g transform="translate(669.95,368.94)"><g transform="translate(4,1.8) rotate(-24)"><path d="M0,-4.6 L-11,-4.6 A2.3,4.6 0 0 0 -11,4.6 L0,4.6" fill="#fff" stroke="#222" stroke-width="1.3"/><ellipse cx="0" cy="0" rx="2.3" ry="4.6" fill="#fff" stroke="#222" stroke-width="1.3"/><path d="M-3.8,-4.6 A2.3,4.6 0 0 1 -3.8,4.6 M-7.5,-4.6 A2.3,4.6 0 0 1 -7.5,4.6" fill="none" stroke="#222" stroke-width="1.1"/></g><path d="M-19,3.8 L-11.2,16 L-4.5,7.8" fill="none" stroke="#222" stroke-width="1.5" stroke-linejoin="miter"/></g>
<g transform="translate(669.95,423.94)"><g transform="translate(4,1.8) rotate(-24)"><path d="M0,-4.6 L-11,-4.6 A2.3,4.6 0 0 0 -11,4.6 L0,4.6" fill="#fff" stroke="#222" stroke-width="1.3"/><ellipse cx="0" cy="0" rx="2.3" ry="4.6" fill="#fff" stroke="#222" stroke-width="1.3"/><path d="M-3.8,-4.6 A2.3,4.6 0 0 1 -3.8,4.6 M-7.5,-4.6 A2.3,4.6 0 0 1 -7.5,4.6" fill="none" stroke="#222" stroke-width="1.1"/></g><path d="M-19,3.8 L-11.2,16 L-4.5,7.8" fill="none" stroke="#222" stroke-width="1.5" stroke-linejoin="miter"/></g>
<path d="M634.2,263.6 L634.2,268.6 A64,36 0 0 0 762.2,268.6 L762.2,263.6 A64,36 0 0 0 634.2,263.6 Z" fill="#fff" stroke="#222" stroke-width="1.4" stroke-linejoin="round"/>
<path d="M634.2,263.6 A64,36 0 0 0 762.2,263.6" fill="none" stroke="#222" stroke-width="1.3" stroke-linejoin="round"/>
<path d="M800.95,346.83 L800.84,347.21 L800.5,347.59 L799.94,347.98 L799.17,348.36 L798.19,348.74 L797,349.12 L795.61,349.5 L794.05,349.89 L792.31,350.27 L790.41,350.65 L788.37,351.03 L786.2,351.41 L783.92,351.8 L781.54,352.18 L779.09,352.56 L776.57,352.94 L774.02,353.32 L771.45,353.71 L768.88,354.09 L766.33,354.47 L763.81,354.85 L761.36,355.23 L758.98,355.61 L756.7,356 L754.53,356.38 L752.49,356.76 L750.59,357.14 L748.85,357.52 L747.29,357.91 L745.9,358.29 L744.71,358.67 L743.73,359.05 L742.96,359.43 L742.4,359.82 L742.06,360.2 L741.95,360.58" fill="none" stroke="#222" stroke-width="11.2" stroke-linecap="butt" stroke-linejoin="round"/>
<path d="M800.95,346.83 L800.84,347.21 L800.5,347.59 L799.94,347.98 L799.17,348.36 L798.19,348.74 L797,349.12 L795.61,349.5 L794.05,349.89 L792.31,350.27 L790.41,350.65 L788.37,351.03 L786.2,351.41 L783.92,351.8 L781.54,352.18 L779.09,352.56 L776.57,352.94 L774.02,353.32 L771.45,353.71 L768.88,354.09 L766.33,354.47 L763.81,354.85 L761.36,355.23 L758.98,355.61 L756.7,356 L754.53,356.38 L752.49,356.76 L750.59,357.14 L748.85,357.52 L747.29,357.91 L745.9,358.29 L744.71,358.67 L743.73,359.05 L742.96,359.43 L742.4,359.82 L742.06,360.2 L741.95,360.58" fill="none" stroke="#fff" stroke-width="8.6" stroke-linecap="butt" stroke-linejoin="round"/>
<path d="M800.95,374.33 L800.84,374.71 L800.5,375.09 L799.94,375.48 L799.17,375.86 L798.19,376.24 L797,376.62 L795.61,377 L794.05,377.39 L792.31,377.77 L790.41,378.15 L788.37,378.53 L786.2,378.91 L783.92,379.3 L781.54,379.68 L779.09,380.06 L776.57,380.44 L774.02,380.82 L771.45,381.21 L768.88,381.59 L766.33,381.97 L763.81,382.35 L761.36,382.73 L758.98,383.11 L756.7,383.5 L754.53,383.88 L752.49,384.26 L750.59,384.64 L748.85,385.02 L747.29,385.41 L745.9,385.79 L744.71,386.17 L743.73,386.55 L742.96,386.93 L742.4,387.32 L742.06,387.7 L741.95,388.08" fill="none" stroke="#222" stroke-width="11.2" stroke-linecap="butt" stroke-linejoin="round"/>
<path d="M800.95,374.33 L800.84,374.71 L800.5,375.09 L799.94,375.48 L799.17,375.86 L798.19,376.24 L797,376.62 L795.61,377 L794.05,377.39 L792.31,377.77 L790.41,378.15 L788.37,378.53 L786.2,378.91 L783.92,379.3 L781.54,379.68 L779.09,380.06 L776.57,380.44 L774.02,380.82 L771.45,381.21 L768.88,381.59 L766.33,381.97 L763.81,382.35 L761.36,382.73 L758.98,383.11 L756.7,383.5 L754.53,383.88 L752.49,384.26 L750.59,384.64 L748.85,385.02 L747.29,385.41 L745.9,385.79 L744.71,386.17 L743.73,386.55 L742.96,386.93 L742.4,387.32 L742.06,387.7 L741.95,388.08" fill="none" stroke="#fff" stroke-width="8.6" stroke-linecap="butt" stroke-linejoin="round"/>
<path d="M800.95,401.83 L800.84,402.21 L800.5,402.59 L799.94,402.98 L799.17,403.36 L798.19,403.74 L797,404.12 L795.61,404.5 L794.05,404.89 L792.31,405.27 L790.41,405.65 L788.37,406.03 L786.2,406.41 L783.92,406.8 L781.54,407.18 L779.09,407.56 L776.57,407.94 L774.02,408.32 L771.45,408.71 L768.88,409.09 L766.33,409.47 L763.81,409.85 L761.36,410.23 L758.98,410.61 L756.7,411 L754.53,411.38 L752.49,411.76 L750.59,412.14 L748.85,412.52 L747.29,412.91 L745.9,413.29 L744.71,413.67 L743.73,414.05 L742.96,414.43 L742.4,414.82 L742.06,415.2 L741.95,415.58" fill="none" stroke="#222" stroke-width="11.2" stroke-linecap="butt" stroke-linejoin="round"/>
<path d="M800.95,401.83 L800.84,402.21 L800.5,402.59 L799.94,402.98 L799.17,403.36 L798.19,403.74 L797,404.12 L795.61,404.5 L794.05,404.89 L792.31,405.27 L790.41,405.65 L788.37,406.03 L786.2,406.41 L783.92,406.8 L781.54,407.18 L779.09,407.56 L776.57,407.94 L774.02,408.32 L771.45,408.71 L768.88,409.09 L766.33,409.47 L763.81,409.85 L761.36,410.23 L758.98,410.61 L756.7,411 L754.53,411.38 L752.49,411.76 L750.59,412.14 L748.85,412.52 L747.29,412.91 L745.9,413.29 L744.71,413.67 L743.73,414.05 L742.96,414.43 L742.4,414.82 L742.06,415.2 L741.95,415.58" fill="none" stroke="#fff" stroke-width="8.6" stroke-linecap="butt" stroke-linejoin="round"/>
<path d="M800.95,429.33 L800.84,429.71 L800.5,430.09 L799.94,430.48 L799.17,430.86 L798.19,431.24 L797,431.62 L795.61,432 L794.05,432.39 L792.31,432.77 L790.41,433.15 L788.37,433.53 L786.2,433.91 L783.92,434.3 L781.54,434.68 L779.09,435.06 L776.57,435.44 L774.02,435.82 L771.45,436.21 L768.88,436.59 L766.33,436.97 L763.81,437.35 L761.36,437.73 L758.98,438.11 L756.7,438.5 L754.53,438.88 L752.49,439.26 L750.59,439.64 L748.85,440.02 L747.29,440.41 L745.9,440.79 L744.71,441.17 L743.73,441.55 L742.96,441.93 L742.4,442.32 L742.06,442.7 L741.95,443.08" fill="none" stroke="#222" stroke-width="11.2" stroke-linecap="butt" stroke-linejoin="round"/>
<path d="M800.95,429.33 L800.84,429.71 L800.5,430.09 L799.94,430.48 L799.17,430.86 L798.19,431.24 L797,431.62 L795.61,432 L794.05,432.39 L792.31,432.77 L790.41,433.15 L788.37,433.53 L786.2,433.91 L783.92,434.3 L781.54,434.68 L779.09,435.06 L776.57,435.44 L774.02,435.82 L771.45,436.21 L768.88,436.59 L766.33,436.97 L763.81,437.35 L761.36,437.73 L758.98,438.11 L756.7,438.5 L754.53,438.88 L752.49,439.26 L750.59,439.64 L748.85,440.02 L747.29,440.41 L745.9,440.79 L744.71,441.17 L743.73,441.55 L742.96,441.93 L742.4,442.32 L742.06,442.7 L741.95,443.08" fill="none" stroke="#fff" stroke-width="8.6" stroke-linecap="butt" stroke-linejoin="round"/>
<path d="M800.95,456.83 L800.84,457.21 L800.5,457.59 L799.94,457.98 L799.17,458.36 L798.19,458.74 L797,459.12 L795.61,459.5 L794.05,459.89 L792.31,460.27 L790.41,460.65 L788.37,461.03 L786.2,461.41 L783.92,461.8 L781.54,462.18 L779.09,462.56 L776.57,462.94 L774.02,463.32 L771.45,463.71 L768.88,464.09 L766.33,464.47 L763.81,464.85 L761.36,465.23 L758.98,465.61 L756.7,466 L754.53,466.38 L752.49,466.76 L750.59,467.14 L748.85,467.52 L747.29,467.91 L745.9,468.29 L744.71,468.67 L743.73,469.05 L742.96,469.43 L742.4,469.82 L742.06,470.2 L741.95,470.58" fill="none" stroke="#222" stroke-width="11.2" stroke-linecap="butt" stroke-linejoin="round"/>
<path d="M800.95,456.83 L800.84,457.21 L800.5,457.59 L799.94,457.98 L799.17,458.36 L798.19,458.74 L797,459.12 L795.61,459.5 L794.05,459.89 L792.31,460.27 L790.41,460.65 L788.37,461.03 L786.2,461.41 L783.92,461.8 L781.54,462.18 L779.09,462.56 L776.57,462.94 L774.02,463.32 L771.45,463.71 L768.88,464.09 L766.33,464.47 L763.81,464.85 L761.36,465.23 L758.98,465.61 L756.7,466 L754.53,466.38 L752.49,466.76 L750.59,467.14 L748.85,467.52 L747.29,467.91 L745.9,468.29 L744.71,468.67 L743.73,469.05 L742.96,469.43 L742.4,469.82 L742.06,470.2 L741.95,470.58" fill="none" stroke="#fff" stroke-width="8.6" stroke-linecap="butt" stroke-linejoin="round"/>
<path d="M800.95,484.33 L800.84,484.71 L800.5,485.09 L799.94,485.48 L799.17,485.86 L798.19,486.24 L797,486.62 L795.61,487 L794.05,487.39 L792.31,487.77 L790.41,488.15 L788.37,488.53 L786.2,488.91 L783.92,489.3 L781.54,489.68 L779.09,490.06 L776.57,490.44 L774.02,490.82 L771.45,491.21 L768.88,491.59 L766.33,491.97 L763.81,492.35 L761.36,492.73 L758.98,493.11 L756.7,493.5 L754.53,493.88 L752.49,494.26 L750.59,494.64 L748.85,495.02 L747.29,495.41 L745.9,495.79 L744.71,496.17 L743.73,496.55 L742.96,496.93 L742.4,497.32 L742.06,497.7 L741.95,498.08" fill="none" stroke="#222" stroke-width="11.2" stroke-linecap="butt" stroke-linejoin="round"/>
<path d="M800.95,484.33 L800.84,484.71 L800.5,485.09 L799.94,485.48 L799.17,485.86 L798.19,486.24 L797,486.62 L795.61,487 L794.05,487.39 L792.31,487.77 L790.41,488.15 L788.37,488.53 L786.2,488.91 L783.92,489.3 L781.54,489.68 L779.09,490.06 L776.57,490.44 L774.02,490.82 L771.45,491.21 L768.88,491.59 L766.33,491.97 L763.81,492.35 L761.36,492.73 L758.98,493.11 L756.7,493.5 L754.53,493.88 L752.49,494.26 L750.59,494.64 L748.85,495.02 L747.29,495.41 L745.9,495.79 L744.71,496.17 L743.73,496.55 L742.96,496.93 L742.4,497.32 L742.06,497.7 L741.95,498.08" fill="none" stroke="#fff" stroke-width="8.6" stroke-linecap="butt" stroke-linejoin="round"/>
<rect x="758.95" y="345.5" width="25" height="155.3" fill="#fff" stroke="#222" stroke-width="1.4"/>
<path d="M742.16,360.05 L741.96,360.47 L742.02,360.88 L742.34,361.29 L742.91,361.7 L743.74,362.11 L744.81,362.52 L746.11,362.93 L747.64,363.34 L749.38,363.75 L751.31,364.17 L753.42,364.58 L755.69,364.99 L758.1,365.4 L760.62,365.81 L763.25,366.22 L765.94,366.63 L768.68,367.04 L771.45,367.46 L774.22,367.87 L776.96,368.28 L779.65,368.69 L782.28,369.1 L784.8,369.51 L787.21,369.92 L789.48,370.33 L791.59,370.74 L793.52,371.16 L795.26,371.57 L796.79,371.98 L798.09,372.39 L799.16,372.8 L799.99,373.21 L800.56,373.62 L800.88,374.03 L800.94,374.44 L800.74,374.86" fill="none" stroke="#222" stroke-width="11.2" stroke-linecap="butt" stroke-linejoin="round"/>
<path d="M742.16,360.05 L741.96,360.47 L742.02,360.88 L742.34,361.29 L742.91,361.7 L743.74,362.11 L744.81,362.52 L746.11,362.93 L747.64,363.34 L749.38,363.75 L751.31,364.17 L753.42,364.58 L755.69,364.99 L758.1,365.4 L760.62,365.81 L763.25,366.22 L765.94,366.63 L768.68,367.04 L771.45,367.46 L774.22,367.87 L776.96,368.28 L779.65,368.69 L782.28,369.1 L784.8,369.51 L787.21,369.92 L789.48,370.33 L791.59,370.74 L793.52,371.16 L795.26,371.57 L796.79,371.98 L798.09,372.39 L799.16,372.8 L799.99,373.21 L800.56,373.62 L800.88,374.03 L800.94,374.44 L800.74,374.86" fill="none" stroke="#fff" stroke-width="8.6" stroke-linecap="butt" stroke-linejoin="round"/>
<path d="M742.16,387.55 L741.96,387.97 L742.02,388.38 L742.34,388.79 L742.91,389.2 L743.74,389.61 L744.81,390.02 L746.11,390.43 L747.64,390.84 L749.38,391.25 L751.31,391.67 L753.42,392.08 L755.69,392.49 L758.1,392.9 L760.62,393.31 L763.25,393.72 L765.94,394.13 L768.68,394.54 L771.45,394.96 L774.22,395.37 L776.96,395.78 L779.65,396.19 L782.28,396.6 L784.8,397.01 L787.21,397.42 L789.48,397.83 L791.59,398.24 L793.52,398.66 L795.26,399.07 L796.79,399.48 L798.09,399.89 L799.16,400.3 L799.99,400.71 L800.56,401.12 L800.88,401.53 L800.94,401.94 L800.74,402.36" fill="none" stroke="#222" stroke-width="11.2" stroke-linecap="butt" stroke-linejoin="round"/>
<path d="M742.16,387.55 L741.96,387.97 L742.02,388.38 L742.34,388.79 L742.91,389.2 L743.74,389.61 L744.81,390.02 L746.11,390.43 L747.64,390.84 L749.38,391.25 L751.31,391.67 L753.42,392.08 L755.69,392.49 L758.1,392.9 L760.62,393.31 L763.25,393.72 L765.94,394.13 L768.68,394.54 L771.45,394.96 L774.22,395.37 L776.96,395.78 L779.65,396.19 L782.28,396.6 L784.8,397.01 L787.21,397.42 L789.48,397.83 L791.59,398.24 L793.52,398.66 L795.26,399.07 L796.79,399.48 L798.09,399.89 L799.16,400.3 L799.99,400.71 L800.56,401.12 L800.88,401.53 L800.94,401.94 L800.74,402.36" fill="none" stroke="#fff" stroke-width="8.6" stroke-linecap="butt" stroke-linejoin="round"/>
<path d="M742.16,415.05 L741.96,415.47 L742.02,415.88 L742.34,416.29 L742.91,416.7 L743.74,417.11 L744.81,417.52 L746.11,417.93 L747.64,418.34 L749.38,418.75 L751.31,419.17 L753.42,419.58 L755.69,419.99 L758.1,420.4 L760.62,420.81 L763.25,421.22 L765.94,421.63 L768.68,422.04 L771.45,422.46 L774.22,422.87 L776.96,423.28 L779.65,423.69 L782.28,424.1 L784.8,424.51 L787.21,424.92 L789.48,425.33 L791.59,425.74 L793.52,426.16 L795.26,426.57 L796.79,426.98 L798.09,427.39 L799.16,427.8 L799.99,428.21 L800.56,428.62 L800.88,429.03 L800.94,429.44 L800.74,429.86" fill="none" stroke="#222" stroke-width="11.2" stroke-linecap="butt" stroke-linejoin="round"/>
<path d="M742.16,415.05 L741.96,415.47 L742.02,415.88 L742.34,416.29 L742.91,416.7 L743.74,417.11 L744.81,417.52 L746.11,417.93 L747.64,418.34 L749.38,418.75 L751.31,419.17 L753.42,419.58 L755.69,419.99 L758.1,420.4 L760.62,420.81 L763.25,421.22 L765.94,421.63 L768.68,422.04 L771.45,422.46 L774.22,422.87 L776.96,423.28 L779.65,423.69 L782.28,424.1 L784.8,424.51 L787.21,424.92 L789.48,425.33 L791.59,425.74 L793.52,426.16 L795.26,426.57 L796.79,426.98 L798.09,427.39 L799.16,427.8 L799.99,428.21 L800.56,428.62 L800.88,429.03 L800.94,429.44 L800.74,429.86" fill="none" stroke="#fff" stroke-width="8.6" stroke-linecap="butt" stroke-linejoin="round"/>
<path d="M742.16,442.55 L741.96,442.97 L742.02,443.38 L742.34,443.79 L742.91,444.2 L743.74,444.61 L744.81,445.02 L746.11,445.43 L747.64,445.84 L749.38,446.25 L751.31,446.67 L753.42,447.08 L755.69,447.49 L758.1,447.9 L760.62,448.31 L763.25,448.72 L765.94,449.13 L768.68,449.54 L771.45,449.96 L774.22,450.37 L776.96,450.78 L779.65,451.19 L782.28,451.6 L784.8,452.01 L787.21,452.42 L789.48,452.83 L791.59,453.24 L793.52,453.66 L795.26,454.07 L796.79,454.48 L798.09,454.89 L799.16,455.3 L799.99,455.71 L800.56,456.12 L800.88,456.53 L800.94,456.94 L800.74,457.36" fill="none" stroke="#222" stroke-width="11.2" stroke-linecap="butt" stroke-linejoin="round"/>
<path d="M742.16,442.55 L741.96,442.97 L742.02,443.38 L742.34,443.79 L742.91,444.2 L743.74,444.61 L744.81,445.02 L746.11,445.43 L747.64,445.84 L749.38,446.25 L751.31,446.67 L753.42,447.08 L755.69,447.49 L758.1,447.9 L760.62,448.31 L763.25,448.72 L765.94,449.13 L768.68,449.54 L771.45,449.96 L774.22,450.37 L776.96,450.78 L779.65,451.19 L782.28,451.6 L784.8,452.01 L787.21,452.42 L789.48,452.83 L791.59,453.24 L793.52,453.66 L795.26,454.07 L796.79,454.48 L798.09,454.89 L799.16,455.3 L799.99,455.71 L800.56,456.12 L800.88,456.53 L800.94,456.94 L800.74,457.36" fill="none" stroke="#fff" stroke-width="8.6" stroke-linecap="butt" stroke-linejoin="round"/>
<path d="M742.16,470.05 L741.96,470.47 L742.02,470.88 L742.34,471.29 L742.91,471.7 L743.74,472.11 L744.81,472.52 L746.11,472.93 L747.64,473.34 L749.38,473.75 L751.31,474.17 L753.42,474.58 L755.69,474.99 L758.1,475.4 L760.62,475.81 L763.25,476.22 L765.94,476.63 L768.68,477.04 L771.45,477.46 L774.22,477.87 L776.96,478.28 L779.65,478.69 L782.28,479.1 L784.8,479.51 L787.21,479.92 L789.48,480.33 L791.59,480.74 L793.52,481.16 L795.26,481.57 L796.79,481.98 L798.09,482.39 L799.16,482.8 L799.99,483.21 L800.56,483.62 L800.88,484.03 L800.94,484.44 L800.74,484.86" fill="none" stroke="#222" stroke-width="11.2" stroke-linecap="butt" stroke-linejoin="round"/>
<path d="M742.16,470.05 L741.96,470.47 L742.02,470.88 L742.34,471.29 L742.91,471.7 L743.74,472.11 L744.81,472.52 L746.11,472.93 L747.64,473.34 L749.38,473.75 L751.31,474.17 L753.42,474.58 L755.69,474.99 L758.1,475.4 L760.62,475.81 L763.25,476.22 L765.94,476.63 L768.68,477.04 L771.45,477.46 L774.22,477.87 L776.96,478.28 L779.65,478.69 L782.28,479.1 L784.8,479.51 L787.21,479.92 L789.48,480.33 L791.59,480.74 L793.52,481.16 L795.26,481.57 L796.79,481.98 L798.09,482.39 L799.16,482.8 L799.99,483.21 L800.56,483.62 L800.88,484.03 L800.94,484.44 L800.74,484.86" fill="none" stroke="#fff" stroke-width="8.6" stroke-linecap="butt" stroke-linejoin="round"/>
<path d="M742.16,497.55 L741.98,497.87 L741.96,498.19 L742.09,498.51 L742.38,498.83 L742.82,499.15 L743.42,499.47 L744.16,499.78 L745.05,500.1 L746.07,500.42 L747.23,500.74 L748.52,501.06 L749.93,501.38 L751.46,501.7 L753.09,502.01 L754.81,502.33 L756.63,502.65 L758.52,502.97 L760.49,503.29 L762.51,503.61 L764.57,503.93 L766.68,504.24 L768.81,504.56 L770.95,504.88 L773.1,505.2 L775.23,505.52 L777.35,505.84 L779.44,506.16 L781.48,506.47 L783.47,506.79 L785.4,507.11 L787.25,507.43 L789.02,507.75 L790.7,508.07 L792.27,508.38 L793.74,508.7 L795.08,509.02" fill="none" stroke="#222" stroke-width="11.2" stroke-linecap="round" stroke-linejoin="round"/>
<path d="M742.16,497.55 L741.98,497.87 L741.96,498.19 L742.09,498.51 L742.38,498.83 L742.82,499.15 L743.42,499.47 L744.16,499.78 L745.05,500.1 L746.07,500.42 L747.23,500.74 L748.52,501.06 L749.93,501.38 L751.46,501.7 L753.09,502.01 L754.81,502.33 L756.63,502.65 L758.52,502.97 L760.49,503.29 L762.51,503.61 L764.57,503.93 L766.68,504.24 L768.81,504.56 L770.95,504.88 L773.1,505.2 L775.23,505.52 L777.35,505.84 L779.44,506.16 L781.48,506.47 L783.47,506.79 L785.4,507.11 L787.25,507.43 L789.02,507.75 L790.7,508.07 L792.27,508.38 L793.74,508.7 L795.08,509.02" fill="none" stroke="#fff" stroke-width="8.6" stroke-linecap="round" stroke-linejoin="round"/>
<g transform="translate(741.95,360.58)"><g transform="translate(4,1.8) rotate(-24)"><path d="M0,-4.6 L-11,-4.6 A2.3,4.6 0 0 0 -11,4.6 L0,4.6" fill="#fff" stroke="#222" stroke-width="1.3"/><ellipse cx="0" cy="0" rx="2.3" ry="4.6" fill="#fff" stroke="#222" stroke-width="1.3"/><path d="M-3.8,-4.6 A2.3,4.6 0 0 1 -3.8,4.6 M-7.5,-4.6 A2.3,4.6 0 0 1 -7.5,4.6" fill="none" stroke="#222" stroke-width="1.1"/></g><path d="M-19,3.8 L-11.2,16 L-4.5,7.8" fill="none" stroke="#222" stroke-width="1.5" stroke-linejoin="miter"/></g>
<g transform="translate(741.95,415.58)"><g transform="translate(4,1.8) rotate(-24)"><path d="M0,-4.6 L-11,-4.6 A2.3,4.6 0 0 0 -11,4.6 L0,4.6" fill="#fff" stroke="#222" stroke-width="1.3"/><ellipse cx="0" cy="0" rx="2.3" ry="4.6" fill="#fff" stroke="#222" stroke-width="1.3"/><path d="M-3.8,-4.6 A2.3,4.6 0 0 1 -3.8,4.6 M-7.5,-4.6 A2.3,4.6 0 0 1 -7.5,4.6" fill="none" stroke="#222" stroke-width="1.1"/></g><path d="M-19,3.8 L-11.2,16 L-4.5,7.8" fill="none" stroke="#222" stroke-width="1.5" stroke-linejoin="miter"/></g>
<g transform="translate(741.95,470.58)"><g transform="translate(4,1.8) rotate(-24)"><path d="M0,-4.6 L-11,-4.6 A2.3,4.6 0 0 0 -11,4.6 L0,4.6" fill="#fff" stroke="#222" stroke-width="1.3"/><ellipse cx="0" cy="0" rx="2.3" ry="4.6" fill="#fff" stroke="#222" stroke-width="1.3"/><path d="M-3.8,-4.6 A2.3,4.6 0 0 1 -3.8,4.6 M-7.5,-4.6 A2.3,4.6 0 0 1 -7.5,4.6" fill="none" stroke="#222" stroke-width="1.1"/></g><path d="M-19,3.8 L-11.2,16 L-4.5,7.8" fill="none" stroke="#222" stroke-width="1.5" stroke-linejoin="miter"/></g>
<path d="M706.4,310.5 L706.4,315.5 A64,36 0 0 0 834.4,315.5 L834.4,310.5 A64,36 0 0 0 706.4,310.5 Z" fill="#fff" stroke="#222" stroke-width="1.4" stroke-linejoin="round"/>
<path d="M706.4,310.5 A64,36 0 0 0 834.4,310.5" fill="none" stroke="#222" stroke-width="1.3" stroke-linejoin="round"/>
<path d="M881.65,387.67 L881.54,388.05 L881.2,388.43 L880.64,388.82 L879.87,389.2 L878.89,389.58 L877.7,389.96 L876.31,390.34 L874.75,390.73 L873.01,391.11 L871.11,391.49 L869.07,391.87 L866.9,392.25 L864.62,392.64 L862.24,393.02 L859.79,393.4 L857.27,393.78 L854.72,394.16 L852.15,394.55 L849.58,394.93 L847.03,395.31 L844.51,395.69 L842.06,396.07 L839.68,396.45 L837.4,396.84 L835.23,397.22 L833.19,397.6 L831.29,397.98 L829.55,398.36 L827.99,398.75 L826.6,399.13 L825.41,399.51 L824.43,399.89 L823.66,400.27 L823.1,400.66 L822.76,401.04 L822.65,401.42" fill="none" stroke="#222" stroke-width="11.2" stroke-linecap="butt" stroke-linejoin="round"/>
<path d="M881.65,387.67 L881.54,388.05 L881.2,388.43 L880.64,388.82 L879.87,389.2 L878.89,389.58 L877.7,389.96 L876.31,390.34 L874.75,390.73 L873.01,391.11 L871.11,391.49 L869.07,391.87 L866.9,392.25 L864.62,392.64 L862.24,393.02 L859.79,393.4 L857.27,393.78 L854.72,394.16 L852.15,394.55 L849.58,394.93 L847.03,395.31 L844.51,395.69 L842.06,396.07 L839.68,396.45 L837.4,396.84 L835.23,397.22 L833.19,397.6 L831.29,397.98 L829.55,398.36 L827.99,398.75 L826.6,399.13 L825.41,399.51 L824.43,399.89 L823.66,400.27 L823.1,400.66 L822.76,401.04 L822.65,401.42" fill="none" stroke="#fff" stroke-width="8.6" stroke-linecap="butt" stroke-linejoin="round"/>
<path d="M881.65,415.17 L881.54,415.55 L881.2,415.93 L880.64,416.32 L879.87,416.7 L878.89,417.08 L877.7,417.46 L876.31,417.84 L874.75,418.23 L873.01,418.61 L871.11,418.99 L869.07,419.37 L866.9,419.75 L864.62,420.14 L862.24,420.52 L859.79,420.9 L857.27,421.28 L854.72,421.66 L852.15,422.05 L849.58,422.43 L847.03,422.81 L844.51,423.19 L842.06,423.57 L839.68,423.95 L837.4,424.34 L835.23,424.72 L833.19,425.1 L831.29,425.48 L829.55,425.86 L827.99,426.25 L826.6,426.63 L825.41,427.01 L824.43,427.39 L823.66,427.77 L823.1,428.16 L822.76,428.54 L822.65,428.92" fill="none" stroke="#222" stroke-width="11.2" stroke-linecap="butt" stroke-linejoin="round"/>
<path d="M881.65,415.17 L881.54,415.55 L881.2,415.93 L880.64,416.32 L879.87,416.7 L878.89,417.08 L877.7,417.46 L876.31,417.84 L874.75,418.23 L873.01,418.61 L871.11,418.99 L869.07,419.37 L866.9,419.75 L864.62,420.14 L862.24,420.52 L859.79,420.9 L857.27,421.28 L854.72,421.66 L852.15,422.05 L849.58,422.43 L847.03,422.81 L844.51,423.19 L842.06,423.57 L839.68,423.95 L837.4,424.34 L835.23,424.72 L833.19,425.1 L831.29,425.48 L829.55,425.86 L827.99,426.25 L826.6,426.63 L825.41,427.01 L824.43,427.39 L823.66,427.77 L823.1,428.16 L822.76,428.54 L822.65,428.92" fill="none" stroke="#fff" stroke-width="8.6" stroke-linecap="butt" stroke-linejoin="round"/>
<path d="M881.65,442.67 L881.54,443.05 L881.2,443.43 L880.64,443.82 L879.87,444.2 L878.89,444.58 L877.7,444.96 L876.31,445.34 L874.75,445.73 L873.01,446.11 L871.11,446.49 L869.07,446.87 L866.9,447.25 L864.62,447.64 L862.24,448.02 L859.79,448.4 L857.27,448.78 L854.72,449.16 L852.15,449.55 L849.58,449.93 L847.03,450.31 L844.51,450.69 L842.06,451.07 L839.68,451.45 L837.4,451.84 L835.23,452.22 L833.19,452.6 L831.29,452.98 L829.55,453.36 L827.99,453.75 L826.6,454.13 L825.41,454.51 L824.43,454.89 L823.66,455.27 L823.1,455.66 L822.76,456.04 L822.65,456.42" fill="none" stroke="#222" stroke-width="11.2" stroke-linecap="butt" stroke-linejoin="round"/>
<path d="M881.65,442.67 L881.54,443.05 L881.2,443.43 L880.64,443.82 L879.87,444.2 L878.89,444.58 L877.7,444.96 L876.31,445.34 L874.75,445.73 L873.01,446.11 L871.11,446.49 L869.07,446.87 L866.9,447.25 L864.62,447.64 L862.24,448.02 L859.79,448.4 L857.27,448.78 L854.72,449.16 L852.15,449.55 L849.58,449.93 L847.03,450.31 L844.51,450.69 L842.06,451.07 L839.68,451.45 L837.4,451.84 L835.23,452.22 L833.19,452.6 L831.29,452.98 L829.55,453.36 L827.99,453.75 L826.6,454.13 L825.41,454.51 L824.43,454.89 L823.66,455.27 L823.1,455.66 L822.76,456.04 L822.65,456.42" fill="none" stroke="#fff" stroke-width="8.6" stroke-linecap="butt" stroke-linejoin="round"/>
<path d="M881.65,470.17 L881.54,470.55 L881.2,470.93 L880.64,471.32 L879.87,471.7 L878.89,472.08 L877.7,472.46 L876.31,472.84 L874.75,473.23 L873.01,473.61 L871.11,473.99 L869.07,474.37 L866.9,474.75 L864.62,475.14 L862.24,475.52 L859.79,475.9 L857.27,476.28 L854.72,476.66 L852.15,477.05 L849.58,477.43 L847.03,477.81 L844.51,478.19 L842.06,478.57 L839.68,478.95 L837.4,479.34 L835.23,479.72 L833.19,480.1 L831.29,480.48 L829.55,480.86 L827.99,481.25 L826.6,481.63 L825.41,482.01 L824.43,482.39 L823.66,482.77 L823.1,483.16 L822.76,483.54 L822.65,483.92" fill="none" stroke="#222" stroke-width="11.2" stroke-linecap="butt" stroke-linejoin="round"/>
<path d="M881.65,470.17 L881.54,470.55 L881.2,470.93 L880.64,471.32 L879.87,471.7 L878.89,472.08 L877.7,472.46 L876.31,472.84 L874.75,473.23 L873.01,473.61 L871.11,473.99 L869.07,474.37 L866.9,474.75 L864.62,475.14 L862.24,475.52 L859.79,475.9 L857.27,476.28 L854.72,476.66 L852.15,477.05 L849.58,477.43 L847.03,477.81 L844.51,478.19 L842.06,478.57 L839.68,478.95 L837.4,479.34 L835.23,479.72 L833.19,480.1 L831.29,480.48 L829.55,480.86 L827.99,481.25 L826.6,481.63 L825.41,482.01 L824.43,482.39 L823.66,482.77 L823.1,483.16 L822.76,483.54 L822.65,483.92" fill="none" stroke="#fff" stroke-width="8.6" stroke-linecap="butt" stroke-linejoin="round"/>
<path d="M881.65,497.67 L881.54,498.05 L881.2,498.43 L880.64,498.82 L879.87,499.2 L878.89,499.58 L877.7,499.96 L876.31,500.34 L874.75,500.73 L873.01,501.11 L871.11,501.49 L869.07,501.87 L866.9,502.25 L864.62,502.64 L862.24,503.02 L859.79,503.4 L857.27,503.78 L854.72,504.16 L852.15,504.55 L849.58,504.93 L847.03,505.31 L844.51,505.69 L842.06,506.07 L839.68,506.45 L837.4,506.84 L835.23,507.22 L833.19,507.6 L831.29,507.98 L829.55,508.36 L827.99,508.75 L826.6,509.13 L825.41,509.51 L824.43,509.89 L823.66,510.27 L823.1,510.66 L822.76,511.04 L822.65,511.42" fill="none" stroke="#222" stroke-width="11.2" stroke-linecap="butt" stroke-linejoin="round"/>
<path d="M881.65,497.67 L881.54,498.05 L881.2,498.43 L880.64,498.82 L879.87,499.2 L878.89,499.58 L877.7,499.96 L876.31,500.34 L874.75,500.73 L873.01,501.11 L871.11,501.49 L869.07,501.87 L866.9,502.25 L864.62,502.64 L862.24,503.02 L859.79,503.4 L857.27,503.78 L854.72,504.16 L852.15,504.55 L849.58,504.93 L847.03,505.31 L844.51,505.69 L842.06,506.07 L839.68,506.45 L837.4,506.84 L835.23,507.22 L833.19,507.6 L831.29,507.98 L829.55,508.36 L827.99,508.75 L826.6,509.13 L825.41,509.51 L824.43,509.89 L823.66,510.27 L823.1,510.66 L822.76,511.04 L822.65,511.42" fill="none" stroke="#fff" stroke-width="8.6" stroke-linecap="butt" stroke-linejoin="round"/>
<path d="M881.65,525.17 L881.54,525.55 L881.2,525.93 L880.64,526.32 L879.87,526.7 L878.89,527.08 L877.7,527.46 L876.31,527.84 L874.75,528.23 L873.01,528.61 L871.11,528.99 L869.07,529.37 L866.9,529.75 L864.62,530.14 L862.24,530.52 L859.79,530.9 L857.27,531.28 L854.72,531.66 L852.15,532.05 L849.58,532.43 L847.03,532.81 L844.51,533.19 L842.06,533.57 L839.68,533.95 L837.4,534.34 L835.23,534.72 L833.19,535.1 L831.29,535.48 L829.55,535.86 L827.99,536.25 L826.6,536.63 L825.41,537.01 L824.43,537.39 L823.66,537.77 L823.1,538.16 L822.76,538.54 L822.65,538.92" fill="none" stroke="#222" stroke-width="11.2" stroke-linecap="butt" stroke-linejoin="round"/>
<path d="M881.65,525.17 L881.54,525.55 L881.2,525.93 L880.64,526.32 L879.87,526.7 L878.89,527.08 L877.7,527.46 L876.31,527.84 L874.75,528.23 L873.01,528.61 L871.11,528.99 L869.07,529.37 L866.9,529.75 L864.62,530.14 L862.24,530.52 L859.79,530.9 L857.27,531.28 L854.72,531.66 L852.15,532.05 L849.58,532.43 L847.03,532.81 L844.51,533.19 L842.06,533.57 L839.68,533.95 L837.4,534.34 L835.23,534.72 L833.19,535.1 L831.29,535.48 L829.55,535.86 L827.99,536.25 L826.6,536.63 L825.41,537.01 L824.43,537.39 L823.66,537.77 L823.1,538.16 L822.76,538.54 L822.65,538.92" fill="none" stroke="#fff" stroke-width="8.6" stroke-linecap="butt" stroke-linejoin="round"/>
<rect x="839.65" y="386.6" width="25" height="155.3" fill="#fff" stroke="#222" stroke-width="1.4"/>
<path d="M822.86,400.89 L822.66,401.31 L822.72,401.72 L823.04,402.13 L823.61,402.54 L824.44,402.95 L825.51,403.36 L826.81,403.77 L828.34,404.18 L830.08,404.59 L832.01,405.01 L834.12,405.42 L836.39,405.83 L838.8,406.24 L841.32,406.65 L843.95,407.06 L846.64,407.47 L849.38,407.88 L852.15,408.3 L854.92,408.71 L857.66,409.12 L860.35,409.53 L862.98,409.94 L865.5,410.35 L867.91,410.76 L870.18,411.17 L872.29,411.58 L874.22,412 L875.96,412.41 L877.49,412.82 L878.79,413.23 L879.86,413.64 L880.69,414.05 L881.26,414.46 L881.58,414.87 L881.64,415.28 L881.44,415.7" fill="none" stroke="#222" stroke-width="11.2" stroke-linecap="butt" stroke-linejoin="round"/>
<path d="M822.86,400.89 L822.66,401.31 L822.72,401.72 L823.04,402.13 L823.61,402.54 L824.44,402.95 L825.51,403.36 L826.81,403.77 L828.34,404.18 L830.08,404.59 L832.01,405.01 L834.12,405.42 L836.39,405.83 L838.8,406.24 L841.32,406.65 L843.95,407.06 L846.64,407.47 L849.38,407.88 L852.15,408.3 L854.92,408.71 L857.66,409.12 L860.35,409.53 L862.98,409.94 L865.5,410.35 L867.91,410.76 L870.18,411.17 L872.29,411.58 L874.22,412 L875.96,412.41 L877.49,412.82 L878.79,413.23 L879.86,413.64 L880.69,414.05 L881.26,414.46 L881.58,414.87 L881.64,415.28 L881.44,415.7" fill="none" stroke="#fff" stroke-width="8.6" stroke-linecap="butt" stroke-linejoin="round"/>
<path d="M822.86,428.39 L822.66,428.81 L822.72,429.22 L823.04,429.63 L823.61,430.04 L824.44,430.45 L825.51,430.86 L826.81,431.27 L828.34,431.68 L830.08,432.09 L832.01,432.51 L834.12,432.92 L836.39,433.33 L838.8,433.74 L841.32,434.15 L843.95,434.56 L846.64,434.97 L849.38,435.38 L852.15,435.8 L854.92,436.21 L857.66,436.62 L860.35,437.03 L862.98,437.44 L865.5,437.85 L867.91,438.26 L870.18,438.67 L872.29,439.08 L874.22,439.5 L875.96,439.91 L877.49,440.32 L878.79,440.73 L879.86,441.14 L880.69,441.55 L881.26,441.96 L881.58,442.37 L881.64,442.78 L881.44,443.2" fill="none" stroke="#222" stroke-width="11.2" stroke-linecap="butt" stroke-linejoin="round"/>
<path d="M822.86,428.39 L822.66,428.81 L822.72,429.22 L823.04,429.63 L823.61,430.04 L824.44,430.45 L825.51,430.86 L826.81,431.27 L828.34,431.68 L830.08,432.09 L832.01,432.51 L834.12,432.92 L836.39,433.33 L838.8,433.74 L841.32,434.15 L843.95,434.56 L846.64,434.97 L849.38,435.38 L852.15,435.8 L854.92,436.21 L857.66,436.62 L860.35,437.03 L862.98,437.44 L865.5,437.85 L867.91,438.26 L870.18,438.67 L872.29,439.08 L874.22,439.5 L875.96,439.91 L877.49,440.32 L878.79,440.73 L879.86,441.14 L880.69,441.55 L881.26,441.96 L881.58,442.37 L881.64,442.78 L881.44,443.2" fill="none" stroke="#fff" stroke-width="8.6" stroke-linecap="butt" stroke-linejoin="round"/>
<path d="M822.86,455.89 L822.66,456.31 L822.72,456.72 L823.04,457.13 L823.61,457.54 L824.44,457.95 L825.51,458.36 L826.81,458.77 L828.34,459.18 L830.08,459.59 L832.01,460.01 L834.12,460.42 L836.39,460.83 L838.8,461.24 L841.32,461.65 L843.95,462.06 L846.64,462.47 L849.38,462.88 L852.15,463.3 L854.92,463.71 L857.66,464.12 L860.35,464.53 L862.98,464.94 L865.5,465.35 L867.91,465.76 L870.18,466.17 L872.29,466.58 L874.22,467 L875.96,467.41 L877.49,467.82 L878.79,468.23 L879.86,468.64 L880.69,469.05 L881.26,469.46 L881.58,469.87 L881.64,470.28 L881.44,470.7" fill="none" stroke="#222" stroke-width="11.2" stroke-linecap="butt" stroke-linejoin="round"/>
<path d="M822.86,455.89 L822.66,456.31 L822.72,456.72 L823.04,457.13 L823.61,457.54 L824.44,457.95 L825.51,458.36 L826.81,458.77 L828.34,459.18 L830.08,459.59 L832.01,460.01 L834.12,460.42 L836.39,460.83 L838.8,461.24 L841.32,461.65 L843.95,462.06 L846.64,462.47 L849.38,462.88 L852.15,463.3 L854.92,463.71 L857.66,464.12 L860.35,464.53 L862.98,464.94 L865.5,465.35 L867.91,465.76 L870.18,466.17 L872.29,466.58 L874.22,467 L875.96,467.41 L877.49,467.82 L878.79,468.23 L879.86,468.64 L880.69,469.05 L881.26,469.46 L881.58,469.87 L881.64,470.28 L881.44,470.7" fill="none" stroke="#fff" stroke-width="8.6" stroke-linecap="butt" stroke-linejoin="round"/>
<path d="M822.86,483.39 L822.66,483.81 L822.72,484.22 L823.04,484.63 L823.61,485.04 L824.44,485.45 L825.51,485.86 L826.81,486.27 L828.34,486.68 L830.08,487.09 L832.01,487.51 L834.12,487.92 L836.39,488.33 L838.8,488.74 L841.32,489.15 L843.95,489.56 L846.64,489.97 L849.38,490.38 L852.15,490.8 L854.92,491.21 L857.66,491.62 L860.35,492.03 L862.98,492.44 L865.5,492.85 L867.91,493.26 L870.18,493.67 L872.29,494.08 L874.22,494.5 L875.96,494.91 L877.49,495.32 L878.79,495.73 L879.86,496.14 L880.69,496.55 L881.26,496.96 L881.58,497.37 L881.64,497.78 L881.44,498.2" fill="none" stroke="#222" stroke-width="11.2" stroke-linecap="butt" stroke-linejoin="round"/>
<path d="M822.86,483.39 L822.66,483.81 L822.72,484.22 L823.04,484.63 L823.61,485.04 L824.44,485.45 L825.51,485.86 L826.81,486.27 L828.34,486.68 L830.08,487.09 L832.01,487.51 L834.12,487.92 L836.39,488.33 L838.8,488.74 L841.32,489.15 L843.95,489.56 L846.64,489.97 L849.38,490.38 L852.15,490.8 L854.92,491.21 L857.66,491.62 L860.35,492.03 L862.98,492.44 L865.5,492.85 L867.91,493.26 L870.18,493.67 L872.29,494.08 L874.22,494.5 L875.96,494.91 L877.49,495.32 L878.79,495.73 L879.86,496.14 L880.69,496.55 L881.26,496.96 L881.58,497.37 L881.64,497.78 L881.44,498.2" fill="none" stroke="#fff" stroke-width="8.6" stroke-linecap="butt" stroke-linejoin="round"/>
<path d="M822.86,510.89 L822.66,511.31 L822.72,511.72 L823.04,512.13 L823.61,512.54 L824.44,512.95 L825.51,513.36 L826.81,513.77 L828.34,514.18 L830.08,514.59 L832.01,515.01 L834.12,515.42 L836.39,515.83 L838.8,516.24 L841.32,516.65 L843.95,517.06 L846.64,517.47 L849.38,517.88 L852.15,518.3 L854.92,518.71 L857.66,519.12 L860.35,519.53 L862.98,519.94 L865.5,520.35 L867.91,520.76 L870.18,521.17 L872.29,521.58 L874.22,522 L875.96,522.41 L877.49,522.82 L878.79,523.23 L879.86,523.64 L880.69,524.05 L881.26,524.46 L881.58,524.87 L881.64,525.28 L881.44,525.7" fill="none" stroke="#222" stroke-width="11.2" stroke-linecap="butt" stroke-linejoin="round"/>
<path d="M822.86,510.89 L822.66,511.31 L822.72,511.72 L823.04,512.13 L823.61,512.54 L824.44,512.95 L825.51,513.36 L826.81,513.77 L828.34,514.18 L830.08,514.59 L832.01,515.01 L834.12,515.42 L836.39,515.83 L838.8,516.24 L841.32,516.65 L843.95,517.06 L846.64,517.47 L849.38,517.88 L852.15,518.3 L854.92,518.71 L857.66,519.12 L860.35,519.53 L862.98,519.94 L865.5,520.35 L867.91,520.76 L870.18,521.17 L872.29,521.58 L874.22,522 L875.96,522.41 L877.49,522.82 L878.79,523.23 L879.86,523.64 L880.69,524.05 L881.26,524.46 L881.58,524.87 L881.64,525.28 L881.44,525.7" fill="none" stroke="#fff" stroke-width="8.6" stroke-linecap="butt" stroke-linejoin="round"/>
<path d="M822.86,538.39 L822.68,538.71 L822.66,539.03 L822.79,539.35 L823.08,539.67 L823.52,539.99 L824.12,540.31 L824.86,540.62 L825.75,540.94 L826.77,541.26 L827.93,541.58 L829.22,541.9 L830.63,542.22 L832.16,542.54 L833.79,542.85 L835.51,543.17 L837.33,543.49 L839.22,543.81 L841.19,544.13 L843.21,544.45 L845.27,544.77 L847.38,545.08 L849.51,545.4 L851.65,545.72 L853.8,546.04 L855.93,546.36 L858.05,546.68 L860.14,547 L862.18,547.31 L864.17,547.63 L866.1,547.95 L867.95,548.27 L869.72,548.59 L871.4,548.91 L872.97,549.22 L874.44,549.54 L875.78,549.86" fill="none" stroke="#222" stroke-width="11.2" stroke-linecap="round" stroke-linejoin="round"/>
<path d="M822.86,538.39 L822.68,538.71 L822.66,539.03 L822.79,539.35 L823.08,539.67 L823.52,539.99 L824.12,540.31 L824.86,540.62 L825.75,540.94 L826.77,541.26 L827.93,541.58 L829.22,541.9 L830.63,542.22 L832.16,542.54 L833.79,542.85 L835.51,543.17 L837.33,543.49 L839.22,543.81 L841.19,544.13 L843.21,544.45 L845.27,544.77 L847.38,545.08 L849.51,545.4 L851.65,545.72 L853.8,546.04 L855.93,546.36 L858.05,546.68 L860.14,547 L862.18,547.31 L864.17,547.63 L866.1,547.95 L867.95,548.27 L869.72,548.59 L871.4,548.91 L872.97,549.22 L874.44,549.54 L875.78,549.86" fill="none" stroke="#fff" stroke-width="8.6" stroke-linecap="round" stroke-linejoin="round"/>
<g transform="translate(822.65,401.42)"><g transform="translate(4,1.8) rotate(-24)"><path d="M0,-4.6 L-11,-4.6 A2.3,4.6 0 0 0 -11,4.6 L0,4.6" fill="#fff" stroke="#222" stroke-width="1.3"/><ellipse cx="0" cy="0" rx="2.3" ry="4.6" fill="#fff" stroke="#222" stroke-width="1.3"/><path d="M-3.8,-4.6 A2.3,4.6 0 0 1 -3.8,4.6 M-7.5,-4.6 A2.3,4.6 0 0 1 -7.5,4.6" fill="none" stroke="#222" stroke-width="1.1"/></g><path d="M-19,3.8 L-11.2,16 L-4.5,7.8" fill="none" stroke="#222" stroke-width="1.5" stroke-linejoin="miter"/></g>
<g transform="translate(822.65,456.42)"><g transform="translate(4,1.8) rotate(-24)"><path d="M0,-4.6 L-11,-4.6 A2.3,4.6 0 0 0 -11,4.6 L0,4.6" fill="#fff" stroke="#222" stroke-width="1.3"/><ellipse cx="0" cy="0" rx="2.3" ry="4.6" fill="#fff" stroke="#222" stroke-width="1.3"/><path d="M-3.8,-4.6 A2.3,4.6 0 0 1 -3.8,4.6 M-7.5,-4.6 A2.3,4.6 0 0 1 -7.5,4.6" fill="none" stroke="#222" stroke-width="1.1"/></g><path d="M-19,3.8 L-11.2,16 L-4.5,7.8" fill="none" stroke="#222" stroke-width="1.5" stroke-linejoin="miter"/></g>
<g transform="translate(822.65,511.42)"><g transform="translate(4,1.8) rotate(-24)"><path d="M0,-4.6 L-11,-4.6 A2.3,4.6 0 0 0 -11,4.6 L0,4.6" fill="#fff" stroke="#222" stroke-width="1.3"/><ellipse cx="0" cy="0" rx="2.3" ry="4.6" fill="#fff" stroke="#222" stroke-width="1.3"/><path d="M-3.8,-4.6 A2.3,4.6 0 0 1 -3.8,4.6 M-7.5,-4.6 A2.3,4.6 0 0 1 -7.5,4.6" fill="none" stroke="#222" stroke-width="1.1"/></g><path d="M-19,3.8 L-11.2,16 L-4.5,7.8" fill="none" stroke="#222" stroke-width="1.5" stroke-linejoin="miter"/></g>
<path d="M787.3,351.6 L787.3,356.6 A64,36 0 0 0 915.3,356.6 L915.3,351.6 A64,36 0 0 0 787.3,351.6 Z" fill="#fff" stroke="#222" stroke-width="1.4" stroke-linejoin="round"/>
<path d="M787.3,351.6 A64,36 0 0 0 915.3,351.6" fill="none" stroke="#222" stroke-width="1.3" stroke-linejoin="round"/>
<path d="M954.65,434.21 L954.54,434.59 L954.2,434.97 L953.64,435.36 L952.87,435.74 L951.89,436.12 L950.7,436.5 L949.31,436.88 L947.75,437.27 L946.01,437.65 L944.11,438.03 L942.07,438.41 L939.9,438.79 L937.62,439.18 L935.24,439.56 L932.79,439.94 L930.27,440.32 L927.72,440.7 L925.15,441.08 L922.58,441.47 L920.03,441.85 L917.51,442.23 L915.06,442.61 L912.68,442.99 L910.4,443.38 L908.23,443.76 L906.19,444.14 L904.29,444.52 L902.55,444.9 L900.99,445.29 L899.6,445.67 L898.41,446.05 L897.43,446.43 L896.66,446.81 L896.1,447.2 L895.76,447.58 L895.65,447.96" fill="none" stroke="#222" stroke-width="11.2" stroke-linecap="butt" stroke-linejoin="round"/>
<path d="M954.65,434.21 L954.54,434.59 L954.2,434.97 L953.64,435.36 L952.87,435.74 L951.89,436.12 L950.7,436.5 L949.31,436.88 L947.75,437.27 L946.01,437.65 L944.11,438.03 L942.07,438.41 L939.9,438.79 L937.62,439.18 L935.24,439.56 L932.79,439.94 L930.27,440.32 L927.72,440.7 L925.15,441.08 L922.58,441.47 L920.03,441.85 L917.51,442.23 L915.06,442.61 L912.68,442.99 L910.4,443.38 L908.23,443.76 L906.19,444.14 L904.29,444.52 L902.55,444.9 L900.99,445.29 L899.6,445.67 L898.41,446.05 L897.43,446.43 L896.66,446.81 L896.1,447.2 L895.76,447.58 L895.65,447.96" fill="none" stroke="#fff" stroke-width="8.6" stroke-linecap="butt" stroke-linejoin="round"/>
<path d="M954.65,461.71 L954.54,462.09 L954.2,462.47 L953.64,462.86 L952.87,463.24 L951.89,463.62 L950.7,464 L949.31,464.38 L947.75,464.77 L946.01,465.15 L944.11,465.53 L942.07,465.91 L939.9,466.29 L937.62,466.68 L935.24,467.06 L932.79,467.44 L930.27,467.82 L927.72,468.2 L925.15,468.58 L922.58,468.97 L920.03,469.35 L917.51,469.73 L915.06,470.11 L912.68,470.49 L910.4,470.88 L908.23,471.26 L906.19,471.64 L904.29,472.02 L902.55,472.4 L900.99,472.79 L899.6,473.17 L898.41,473.55 L897.43,473.93 L896.66,474.31 L896.1,474.7 L895.76,475.08 L895.65,475.46" fill="none" stroke="#222" stroke-width="11.2" stroke-linecap="butt" stroke-linejoin="round"/>
<path d="M954.65,461.71 L954.54,462.09 L954.2,462.47 L953.64,462.86 L952.87,463.24 L951.89,463.62 L950.7,464 L949.31,464.38 L947.75,464.77 L946.01,465.15 L944.11,465.53 L942.07,465.91 L939.9,466.29 L937.62,466.68 L935.24,467.06 L932.79,467.44 L930.27,467.82 L927.72,468.2 L925.15,468.58 L922.58,468.97 L920.03,469.35 L917.51,469.73 L915.06,470.11 L912.68,470.49 L910.4,470.88 L908.23,471.26 L906.19,471.64 L904.29,472.02 L902.55,472.4 L900.99,472.79 L899.6,473.17 L898.41,473.55 L897.43,473.93 L896.66,474.31 L896.1,474.7 L895.76,475.08 L895.65,475.46" fill="none" stroke="#fff" stroke-width="8.6" stroke-linecap="butt" stroke-linejoin="round"/>
<path d="M954.65,489.21 L954.54,489.59 L954.2,489.97 L953.64,490.36 L952.87,490.74 L951.89,491.12 L950.7,491.5 L949.31,491.88 L947.75,492.27 L946.01,492.65 L944.11,493.03 L942.07,493.41 L939.9,493.79 L937.62,494.18 L935.24,494.56 L932.79,494.94 L930.27,495.32 L927.72,495.7 L925.15,496.08 L922.58,496.47 L920.03,496.85 L917.51,497.23 L915.06,497.61 L912.68,497.99 L910.4,498.38 L908.23,498.76 L906.19,499.14 L904.29,499.52 L902.55,499.9 L900.99,500.29 L899.6,500.67 L898.41,501.05 L897.43,501.43 L896.66,501.81 L896.1,502.2 L895.76,502.58 L895.65,502.96" fill="none" stroke="#222" stroke-width="11.2" stroke-linecap="butt" stroke-linejoin="round"/>
<path d="M954.65,489.21 L954.54,489.59 L954.2,489.97 L953.64,490.36 L952.87,490.74 L951.89,491.12 L950.7,491.5 L949.31,491.88 L947.75,492.27 L946.01,492.65 L944.11,493.03 L942.07,493.41 L939.9,493.79 L937.62,494.18 L935.24,494.56 L932.79,494.94 L930.27,495.32 L927.72,495.7 L925.15,496.08 L922.58,496.47 L920.03,496.85 L917.51,497.23 L915.06,497.61 L912.68,497.99 L910.4,498.38 L908.23,498.76 L906.19,499.14 L904.29,499.52 L902.55,499.9 L900.99,500.29 L899.6,500.67 L898.41,501.05 L897.43,501.43 L896.66,501.81 L896.1,502.2 L895.76,502.58 L895.65,502.96" fill="none" stroke="#fff" stroke-width="8.6" stroke-linecap="butt" stroke-linejoin="round"/>
<path d="M954.65,516.71 L954.54,517.09 L954.2,517.47 L953.64,517.86 L952.87,518.24 L951.89,518.62 L950.7,519 L949.31,519.38 L947.75,519.77 L946.01,520.15 L944.11,520.53 L942.07,520.91 L939.9,521.29 L937.62,521.68 L935.24,522.06 L932.79,522.44 L930.27,522.82 L927.72,523.2 L925.15,523.58 L922.58,523.97 L920.03,524.35 L917.51,524.73 L915.06,525.11 L912.68,525.49 L910.4,525.88 L908.23,526.26 L906.19,526.64 L904.29,527.02 L902.55,527.4 L900.99,527.79 L899.6,528.17 L898.41,528.55 L897.43,528.93 L896.66,529.31 L896.1,529.7 L895.76,530.08 L895.65,530.46" fill="none" stroke="#222" stroke-width="11.2" stroke-linecap="butt" stroke-linejoin="round"/>
<path d="M954.65,516.71 L954.54,517.09 L954.2,517.47 L953.64,517.86 L952.87,518.24 L951.89,518.62 L950.7,519 L949.31,519.38 L947.75,519.77 L946.01,520.15 L944.11,520.53 L942.07,520.91 L939.9,521.29 L937.62,521.68 L935.24,522.06 L932.79,522.44 L930.27,522.82 L927.72,523.2 L925.15,523.58 L922.58,523.97 L920.03,524.35 L917.51,524.73 L915.06,525.11 L912.68,525.49 L910.4,525.88 L908.23,526.26 L906.19,526.64 L904.29,527.02 L902.55,527.4 L900.99,527.79 L899.6,528.17 L898.41,528.55 L897.43,528.93 L896.66,529.31 L896.1,529.7 L895.76,530.08 L895.65,530.46" fill="none" stroke="#fff" stroke-width="8.6" stroke-linecap="butt" stroke-linejoin="round"/>
<path d="M954.65,544.21 L954.54,544.59 L954.2,544.97 L953.64,545.36 L952.87,545.74 L951.89,546.12 L950.7,546.5 L949.31,546.88 L947.75,547.27 L946.01,547.65 L944.11,548.03 L942.07,548.41 L939.9,548.79 L937.62,549.18 L935.24,549.56 L932.79,549.94 L930.27,550.32 L927.72,550.7 L925.15,551.08 L922.58,551.47 L920.03,551.85 L917.51,552.23 L915.06,552.61 L912.68,552.99 L910.4,553.38 L908.23,553.76 L906.19,554.14 L904.29,554.52 L902.55,554.9 L900.99,555.29 L899.6,555.67 L898.41,556.05 L897.43,556.43 L896.66,556.81 L896.1,557.2 L895.76,557.58 L895.65,557.96" fill="none" stroke="#222" stroke-width="11.2" stroke-linecap="butt" stroke-linejoin="round"/>
<path d="M954.65,544.21 L954.54,544.59 L954.2,544.97 L953.64,545.36 L952.87,545.74 L951.89,546.12 L950.7,546.5 L949.31,546.88 L947.75,547.27 L946.01,547.65 L944.11,548.03 L942.07,548.41 L939.9,548.79 L937.62,549.18 L935.24,549.56 L932.79,549.94 L930.27,550.32 L927.72,550.7 L925.15,551.08 L922.58,551.47 L920.03,551.85 L917.51,552.23 L915.06,552.61 L912.68,552.99 L910.4,553.38 L908.23,553.76 L906.19,554.14 L904.29,554.52 L902.55,554.9 L900.99,555.29 L899.6,555.67 L898.41,556.05 L897.43,556.43 L896.66,556.81 L896.1,557.2 L895.76,557.58 L895.65,557.96" fill="none" stroke="#fff" stroke-width="8.6" stroke-linecap="butt" stroke-linejoin="round"/>
<path d="M954.65,571.71 L954.54,572.09 L954.2,572.47 L953.64,572.86 L952.87,573.24 L951.89,573.62 L950.7,574 L949.31,574.38 L947.75,574.77 L946.01,575.15 L944.11,575.53 L942.07,575.91 L939.9,576.29 L937.62,576.68 L935.24,577.06 L932.79,577.44 L930.27,577.82 L927.72,578.2 L925.15,578.59 L922.58,578.97 L920.03,579.35 L917.51,579.73 L915.06,580.11 L912.68,580.49 L910.4,580.88 L908.23,581.26 L906.19,581.64 L904.29,582.02 L902.55,582.4 L900.99,582.79 L899.6,583.17 L898.41,583.55 L897.43,583.93 L896.66,584.31 L896.1,584.7 L895.76,585.08 L895.65,585.46" fill="none" stroke="#222" stroke-width="11.2" stroke-linecap="butt" stroke-linejoin="round"/>
<path d="M954.65,571.71 L954.54,572.09 L954.2,572.47 L953.64,572.86 L952.87,573.24 L951.89,573.62 L950.7,574 L949.31,574.38 L947.75,574.77 L946.01,575.15 L944.11,575.53 L942.07,575.91 L939.9,576.29 L937.62,576.68 L935.24,577.06 L932.79,577.44 L930.27,577.82 L927.72,578.2 L925.15,578.59 L922.58,578.97 L920.03,579.35 L917.51,579.73 L915.06,580.11 L912.68,580.49 L910.4,580.88 L908.23,581.26 L906.19,581.64 L904.29,582.02 L902.55,582.4 L900.99,582.79 L899.6,583.17 L898.41,583.55 L897.43,583.93 L896.66,584.31 L896.1,584.7 L895.76,585.08 L895.65,585.46" fill="none" stroke="#fff" stroke-width="8.6" stroke-linecap="butt" stroke-linejoin="round"/>
<rect x="912.65" y="433.4" width="25" height="155.3" fill="#fff" stroke="#222" stroke-width="1.4"/>
<path d="M895.86,447.43 L895.66,447.85 L895.72,448.26 L896.04,448.67 L896.61,449.08 L897.44,449.49 L898.51,449.9 L899.81,450.31 L901.34,450.72 L903.08,451.13 L905.01,451.55 L907.12,451.96 L909.39,452.37 L911.8,452.78 L914.32,453.19 L916.95,453.6 L919.64,454.01 L922.38,454.42 L925.15,454.83 L927.92,455.25 L930.66,455.66 L933.35,456.07 L935.98,456.48 L938.5,456.89 L940.91,457.3 L943.18,457.71 L945.29,458.12 L947.22,458.54 L948.96,458.95 L950.49,459.36 L951.79,459.77 L952.86,460.18 L953.69,460.59 L954.26,461 L954.58,461.41 L954.64,461.82 L954.44,462.24" fill="none" stroke="#222" stroke-width="11.2" stroke-linecap="butt" stroke-linejoin="round"/>
<path d="M895.86,447.43 L895.66,447.85 L895.72,448.26 L896.04,448.67 L896.61,449.08 L897.44,449.49 L898.51,449.9 L899.81,450.31 L901.34,450.72 L903.08,451.13 L905.01,451.55 L907.12,451.96 L909.39,452.37 L911.8,452.78 L914.32,453.19 L916.95,453.6 L919.64,454.01 L922.38,454.42 L925.15,454.83 L927.92,455.25 L930.66,455.66 L933.35,456.07 L935.98,456.48 L938.5,456.89 L940.91,457.3 L943.18,457.71 L945.29,458.12 L947.22,458.54 L948.96,458.95 L950.49,459.36 L951.79,459.77 L952.86,460.18 L953.69,460.59 L954.26,461 L954.58,461.41 L954.64,461.82 L954.44,462.24" fill="none" stroke="#fff" stroke-width="8.6" stroke-linecap="butt" stroke-linejoin="round"/>
<path d="M895.86,474.93 L895.66,475.35 L895.72,475.76 L896.04,476.17 L896.61,476.58 L897.44,476.99 L898.51,477.4 L899.81,477.81 L901.34,478.22 L903.08,478.63 L905.01,479.05 L907.12,479.46 L909.39,479.87 L911.8,480.28 L914.32,480.69 L916.95,481.1 L919.64,481.51 L922.38,481.92 L925.15,482.33 L927.92,482.75 L930.66,483.16 L933.35,483.57 L935.98,483.98 L938.5,484.39 L940.91,484.8 L943.18,485.21 L945.29,485.62 L947.22,486.04 L948.96,486.45 L950.49,486.86 L951.79,487.27 L952.86,487.68 L953.69,488.09 L954.26,488.5 L954.58,488.91 L954.64,489.32 L954.44,489.74" fill="none" stroke="#222" stroke-width="11.2" stroke-linecap="butt" stroke-linejoin="round"/>
<path d="M895.86,474.93 L895.66,475.35 L895.72,475.76 L896.04,476.17 L896.61,476.58 L897.44,476.99 L898.51,477.4 L899.81,477.81 L901.34,478.22 L903.08,478.63 L905.01,479.05 L907.12,479.46 L909.39,479.87 L911.8,480.28 L914.32,480.69 L916.95,481.1 L919.64,481.51 L922.38,481.92 L925.15,482.33 L927.92,482.75 L930.66,483.16 L933.35,483.57 L935.98,483.98 L938.5,484.39 L940.91,484.8 L943.18,485.21 L945.29,485.62 L947.22,486.04 L948.96,486.45 L950.49,486.86 L951.79,487.27 L952.86,487.68 L953.69,488.09 L954.26,488.5 L954.58,488.91 L954.64,489.32 L954.44,489.74" fill="none" stroke="#fff" stroke-width="8.6" stroke-linecap="butt" stroke-linejoin="round"/>
<path d="M895.86,502.43 L895.66,502.85 L895.72,503.26 L896.04,503.67 L896.61,504.08 L897.44,504.49 L898.51,504.9 L899.81,505.31 L901.34,505.72 L903.08,506.13 L905.01,506.55 L907.12,506.96 L909.39,507.37 L911.8,507.78 L914.32,508.19 L916.95,508.6 L919.64,509.01 L922.38,509.42 L925.15,509.83 L927.92,510.25 L930.66,510.66 L933.35,511.07 L935.98,511.48 L938.5,511.89 L940.91,512.3 L943.18,512.71 L945.29,513.12 L947.22,513.54 L948.96,513.95 L950.49,514.36 L951.79,514.77 L952.86,515.18 L953.69,515.59 L954.26,516 L954.58,516.41 L954.64,516.82 L954.44,517.24" fill="none" stroke="#222" stroke-width="11.2" stroke-linecap="butt" stroke-linejoin="round"/>
<path d="M895.86,502.43 L895.66,502.85 L895.72,503.26 L896.04,503.67 L896.61,504.08 L897.44,504.49 L898.51,504.9 L899.81,505.31 L901.34,505.72 L903.08,506.13 L905.01,506.55 L907.12,506.96 L909.39,507.37 L911.8,507.78 L914.32,508.19 L916.95,508.6 L919.64,509.01 L922.38,509.42 L925.15,509.83 L927.92,510.25 L930.66,510.66 L933.35,511.07 L935.98,511.48 L938.5,511.89 L940.91,512.3 L943.18,512.71 L945.29,513.12 L947.22,513.54 L948.96,513.95 L950.49,514.36 L951.79,514.77 L952.86,515.18 L953.69,515.59 L954.26,516 L954.58,516.41 L954.64,516.82 L954.44,517.24" fill="none" stroke="#fff" stroke-width="8.6" stroke-linecap="butt" stroke-linejoin="round"/>
<path d="M895.86,529.93 L895.66,530.35 L895.72,530.76 L896.04,531.17 L896.61,531.58 L897.44,531.99 L898.51,532.4 L899.81,532.81 L901.34,533.22 L903.08,533.63 L905.01,534.05 L907.12,534.46 L909.39,534.87 L911.8,535.28 L914.32,535.69 L916.95,536.1 L919.64,536.51 L922.38,536.92 L925.15,537.34 L927.92,537.75 L930.66,538.16 L933.35,538.57 L935.98,538.98 L938.5,539.39 L940.91,539.8 L943.18,540.21 L945.29,540.62 L947.22,541.04 L948.96,541.45 L950.49,541.86 L951.79,542.27 L952.86,542.68 L953.69,543.09 L954.26,543.5 L954.58,543.91 L954.64,544.32 L954.44,544.74" fill="none" stroke="#222" stroke-width="11.2" stroke-linecap="butt" stroke-linejoin="round"/>
<path d="M895.86,529.93 L895.66,530.35 L895.72,530.76 L896.04,531.17 L896.61,531.58 L897.44,531.99 L898.51,532.4 L899.81,532.81 L901.34,533.22 L903.08,533.63 L905.01,534.05 L907.12,534.46 L909.39,534.87 L911.8,535.28 L914.32,535.69 L916.95,536.1 L919.64,536.51 L922.38,536.92 L925.15,537.34 L927.92,537.75 L930.66,538.16 L933.35,538.57 L935.98,538.98 L938.5,539.39 L940.91,539.8 L943.18,540.21 L945.29,540.62 L947.22,541.04 L948.96,541.45 L950.49,541.86 L951.79,542.27 L952.86,542.68 L953.69,543.09 L954.26,543.5 L954.58,543.91 L954.64,544.32 L954.44,544.74" fill="none" stroke="#fff" stroke-width="8.6" stroke-linecap="butt" stroke-linejoin="round"/>
<path d="M895.86,557.43 L895.66,557.85 L895.72,558.26 L896.04,558.67 L896.61,559.08 L897.44,559.49 L898.51,559.9 L899.81,560.31 L901.34,560.72 L903.08,561.13 L905.01,561.55 L907.12,561.96 L909.39,562.37 L911.8,562.78 L914.32,563.19 L916.95,563.6 L919.64,564.01 L922.38,564.42 L925.15,564.84 L927.92,565.25 L930.66,565.66 L933.35,566.07 L935.98,566.48 L938.5,566.89 L940.91,567.3 L943.18,567.71 L945.29,568.12 L947.22,568.54 L948.96,568.95 L950.49,569.36 L951.79,569.77 L952.86,570.18 L953.69,570.59 L954.26,571 L954.58,571.41 L954.64,571.82 L954.44,572.24" fill="none" stroke="#222" stroke-width="11.2" stroke-linecap="butt" stroke-linejoin="round"/>
<path d="M895.86,557.43 L895.66,557.85 L895.72,558.26 L896.04,558.67 L896.61,559.08 L897.44,559.49 L898.51,559.9 L899.81,560.31 L901.34,560.72 L903.08,561.13 L905.01,561.55 L907.12,561.96 L909.39,562.37 L911.8,562.78 L914.32,563.19 L916.95,563.6 L919.64,564.01 L922.38,564.42 L925.15,564.84 L927.92,565.25 L930.66,565.66 L933.35,566.07 L935.98,566.48 L938.5,566.89 L940.91,567.3 L943.18,567.71 L945.29,568.12 L947.22,568.54 L948.96,568.95 L950.49,569.36 L951.79,569.77 L952.86,570.18 L953.69,570.59 L954.26,571 L954.58,571.41 L954.64,571.82 L954.44,572.24" fill="none" stroke="#fff" stroke-width="8.6" stroke-linecap="butt" stroke-linejoin="round"/>
<path d="M895.86,584.93 L895.68,585.25 L895.66,585.57 L895.79,585.89 L896.08,586.21 L896.52,586.53 L897.12,586.85 L897.86,587.16 L898.75,587.48 L899.77,587.8 L900.93,588.12 L902.22,588.44 L903.63,588.76 L905.16,589.08 L906.79,589.39 L908.51,589.71 L910.33,590.03 L912.22,590.35 L914.19,590.67 L916.21,590.99 L918.27,591.31 L920.38,591.62 L922.51,591.94 L924.65,592.26 L926.8,592.58 L928.93,592.9 L931.05,593.22 L933.14,593.54 L935.18,593.85 L937.17,594.17 L939.1,594.49 L940.95,594.81 L942.72,595.13 L944.4,595.45 L945.97,595.76 L947.44,596.08 L948.78,596.4" fill="none" stroke="#222" stroke-width="11.2" stroke-linecap="round" stroke-linejoin="round"/>
<path d="M895.86,584.93 L895.68,585.25 L895.66,585.57 L895.79,585.89 L896.08,586.21 L896.52,586.53 L897.12,586.85 L897.86,587.16 L898.75,587.48 L899.77,587.8 L900.93,588.12 L902.22,588.44 L903.63,588.76 L905.16,589.08 L906.79,589.39 L908.51,589.71 L910.33,590.03 L912.22,590.35 L914.19,590.67 L916.21,590.99 L918.27,591.31 L920.38,591.62 L922.51,591.94 L924.65,592.26 L926.8,592.58 L928.93,592.9 L931.05,593.22 L933.14,593.54 L935.18,593.85 L937.17,594.17 L939.1,594.49 L940.95,594.81 L942.72,595.13 L944.4,595.45 L945.97,595.76 L947.44,596.08 L948.78,596.4" fill="none" stroke="#fff" stroke-width="8.6" stroke-linecap="round" stroke-linejoin="round"/>
<g transform="translate(895.65,447.96)"><g transform="translate(4,1.8) rotate(-24)"><path d="M0,-4.6 L-11,-4.6 A2.3,4.6 0 0 0 -11,4.6 L0,4.6" fill="#fff" stroke="#222" stroke-width="1.3"/><ellipse cx="0" cy="0" rx="2.3" ry="4.6" fill="#fff" stroke="#222" stroke-width="1.3"/><path d="M-3.8,-4.6 A2.3,4.6 0 0 1 -3.8,4.6 M-7.5,-4.6 A2.3,4.6 0 0 1 -7.5,4.6" fill="none" stroke="#222" stroke-width="1.1"/></g><path d="M-19,3.8 L-11.2,16 L-4.5,7.8" fill="none" stroke="#222" stroke-width="1.5" stroke-linejoin="miter"/></g>
<g transform="translate(895.65,502.96)"><g transform="translate(4,1.8) rotate(-24)"><path d="M0,-4.6 L-11,-4.6 A2.3,4.6 0 0 0 -11,4.6 L0,4.6" fill="#fff" stroke="#222" stroke-width="1.3"/><ellipse cx="0" cy="0" rx="2.3" ry="4.6" fill="#fff" stroke="#222" stroke-width="1.3"/><path d="M-3.8,-4.6 A2.3,4.6 0 0 1 -3.8,4.6 M-7.5,-4.6 A2.3,4.6 0 0 1 -7.5,4.6" fill="none" stroke="#222" stroke-width="1.1"/></g><path d="M-19,3.8 L-11.2,16 L-4.5,7.8" fill="none" stroke="#222" stroke-width="1.5" stroke-linejoin="miter"/></g>
<g transform="translate(895.65,557.96)"><g transform="translate(4,1.8) rotate(-24)"><path d="M0,-4.6 L-11,-4.6 A2.3,4.6 0 0 0 -11,4.6 L0,4.6" fill="#fff" stroke="#222" stroke-width="1.3"/><ellipse cx="0" cy="0" rx="2.3" ry="4.6" fill="#fff" stroke="#222" stroke-width="1.3"/><path d="M-3.8,-4.6 A2.3,4.6 0 0 1 -3.8,4.6 M-7.5,-4.6 A2.3,4.6 0 0 1 -7.5,4.6" fill="none" stroke="#222" stroke-width="1.1"/></g><path d="M-19,3.8 L-11.2,16 L-4.5,7.8" fill="none" stroke="#222" stroke-width="1.5" stroke-linejoin="miter"/></g>
<path d="M860.5,398.4 L860.5,403.4 A64,36 0 0 0 988.5,403.4 L988.5,398.4 A64,36 0 0 0 860.5,398.4 Z" fill="#fff" stroke="#222" stroke-width="1.4" stroke-linejoin="round"/>
<path d="M860.5,398.4 A64,36 0 0 0 988.5,398.4" fill="none" stroke="#222" stroke-width="1.3" stroke-linejoin="round"/>
<path d="M1033.85,475.15 L1033.74,475.53 L1033.4,475.91 L1032.84,476.3 L1032.07,476.68 L1031.09,477.06 L1029.9,477.44 L1028.51,477.82 L1026.95,478.21 L1025.21,478.59 L1023.31,478.97 L1021.27,479.35 L1019.1,479.73 L1016.82,480.12 L1014.44,480.5 L1011.99,480.88 L1009.47,481.26 L1006.92,481.64 L1004.35,482.02 L1001.78,482.41 L999.23,482.79 L996.71,483.17 L994.26,483.55 L991.88,483.93 L989.6,484.32 L987.43,484.7 L985.39,485.08 L983.49,485.46 L981.75,485.84 L980.19,486.23 L978.8,486.61 L977.61,486.99 L976.63,487.37 L975.86,487.75 L975.3,488.14 L974.96,488.52 L974.85,488.9" fill="none" stroke="#222" stroke-width="11.2" stroke-linecap="butt" stroke-linejoin="round"/>
<path d="M1033.85,475.15 L1033.74,475.53 L1033.4,475.91 L1032.84,476.3 L1032.07,476.68 L1031.09,477.06 L1029.9,477.44 L1028.51,477.82 L1026.95,478.21 L1025.21,478.59 L1023.31,478.97 L1021.27,479.35 L1019.1,479.73 L1016.82,480.12 L1014.44,480.5 L1011.99,480.88 L1009.47,481.26 L1006.92,481.64 L1004.35,482.02 L1001.78,482.41 L999.23,482.79 L996.71,483.17 L994.26,483.55 L991.88,483.93 L989.6,484.32 L987.43,484.7 L985.39,485.08 L983.49,485.46 L981.75,485.84 L980.19,486.23 L978.8,486.61 L977.61,486.99 L976.63,487.37 L975.86,487.75 L975.3,488.14 L974.96,488.52 L974.85,488.9" fill="none" stroke="#fff" stroke-width="8.6" stroke-linecap="butt" stroke-linejoin="round"/>
<path d="M1033.85,502.65 L1033.74,503.03 L1033.4,503.41 L1032.84,503.8 L1032.07,504.18 L1031.09,504.56 L1029.9,504.94 L1028.51,505.32 L1026.95,505.71 L1025.21,506.09 L1023.31,506.47 L1021.27,506.85 L1019.1,507.23 L1016.82,507.62 L1014.44,508 L1011.99,508.38 L1009.47,508.76 L1006.92,509.14 L1004.35,509.52 L1001.78,509.91 L999.23,510.29 L996.71,510.67 L994.26,511.05 L991.88,511.43 L989.6,511.82 L987.43,512.2 L985.39,512.58 L983.49,512.96 L981.75,513.34 L980.19,513.73 L978.8,514.11 L977.61,514.49 L976.63,514.87 L975.86,515.25 L975.3,515.64 L974.96,516.02 L974.85,516.4" fill="none" stroke="#222" stroke-width="11.2" stroke-linecap="butt" stroke-linejoin="round"/>
<path d="M1033.85,502.65 L1033.74,503.03 L1033.4,503.41 L1032.84,503.8 L1032.07,504.18 L1031.09,504.56 L1029.9,504.94 L1028.51,505.32 L1026.95,505.71 L1025.21,506.09 L1023.31,506.47 L1021.27,506.85 L1019.1,507.23 L1016.82,507.62 L1014.44,508 L1011.99,508.38 L1009.47,508.76 L1006.92,509.14 L1004.35,509.52 L1001.78,509.91 L999.23,510.29 L996.71,510.67 L994.26,511.05 L991.88,511.43 L989.6,511.82 L987.43,512.2 L985.39,512.58 L983.49,512.96 L981.75,513.34 L980.19,513.73 L978.8,514.11 L977.61,514.49 L976.63,514.87 L975.86,515.25 L975.3,515.64 L974.96,516.02 L974.85,516.4" fill="none" stroke="#fff" stroke-width="8.6" stroke-linecap="butt" stroke-linejoin="round"/>
<path d="M1033.85,530.15 L1033.74,530.53 L1033.4,530.91 L1032.84,531.3 L1032.07,531.68 L1031.09,532.06 L1029.9,532.44 L1028.51,532.82 L1026.95,533.21 L1025.21,533.59 L1023.31,533.97 L1021.27,534.35 L1019.1,534.73 L1016.82,535.12 L1014.44,535.5 L1011.99,535.88 L1009.47,536.26 L1006.92,536.64 L1004.35,537.02 L1001.78,537.41 L999.23,537.79 L996.71,538.17 L994.26,538.55 L991.88,538.93 L989.6,539.32 L987.43,539.7 L985.39,540.08 L983.49,540.46 L981.75,540.84 L980.19,541.23 L978.8,541.61 L977.61,541.99 L976.63,542.37 L975.86,542.75 L975.3,543.14 L974.96,543.52 L974.85,543.9" fill="none" stroke="#222" stroke-width="11.2" stroke-linecap="butt" stroke-linejoin="round"/>
<path d="M1033.85,530.15 L1033.74,530.53 L1033.4,530.91 L1032.84,531.3 L1032.07,531.68 L1031.09,532.06 L1029.9,532.44 L1028.51,532.82 L1026.95,533.21 L1025.21,533.59 L1023.31,533.97 L1021.27,534.35 L1019.1,534.73 L1016.82,535.12 L1014.44,535.5 L1011.99,535.88 L1009.47,536.26 L1006.92,536.64 L1004.35,537.02 L1001.78,537.41 L999.23,537.79 L996.71,538.17 L994.26,538.55 L991.88,538.93 L989.6,539.32 L987.43,539.7 L985.39,540.08 L983.49,540.46 L981.75,540.84 L980.19,541.23 L978.8,541.61 L977.61,541.99 L976.63,542.37 L975.86,542.75 L975.3,543.14 L974.96,543.52 L974.85,543.9" fill="none" stroke="#fff" stroke-width="8.6" stroke-linecap="butt" stroke-linejoin="round"/>
<path d="M1033.85,557.65 L1033.74,558.03 L1033.4,558.41 L1032.84,558.8 L1032.07,559.18 L1031.09,559.56 L1029.9,559.94 L1028.51,560.32 L1026.95,560.71 L1025.21,561.09 L1023.31,561.47 L1021.27,561.85 L1019.1,562.23 L1016.82,562.62 L1014.44,563 L1011.99,563.38 L1009.47,563.76 L1006.92,564.14 L1004.35,564.52 L1001.78,564.91 L999.23,565.29 L996.71,565.67 L994.26,566.05 L991.88,566.43 L989.6,566.82 L987.43,567.2 L985.39,567.58 L983.49,567.96 L981.75,568.34 L980.19,568.73 L978.8,569.11 L977.61,569.49 L976.63,569.87 L975.86,570.25 L975.3,570.64 L974.96,571.02 L974.85,571.4" fill="none" stroke="#222" stroke-width="11.2" stroke-linecap="butt" stroke-linejoin="round"/>
<path d="M1033.85,557.65 L1033.74,558.03 L1033.4,558.41 L1032.84,558.8 L1032.07,559.18 L1031.09,559.56 L1029.9,559.94 L1028.51,560.32 L1026.95,560.71 L1025.21,561.09 L1023.31,561.47 L1021.27,561.85 L1019.1,562.23 L1016.82,562.62 L1014.44,563 L1011.99,563.38 L1009.47,563.76 L1006.92,564.14 L1004.35,564.52 L1001.78,564.91 L999.23,565.29 L996.71,565.67 L994.26,566.05 L991.88,566.43 L989.6,566.82 L987.43,567.2 L985.39,567.58 L983.49,567.96 L981.75,568.34 L980.19,568.73 L978.8,569.11 L977.61,569.49 L976.63,569.87 L975.86,570.25 L975.3,570.64 L974.96,571.02 L974.85,571.4" fill="none" stroke="#fff" stroke-width="8.6" stroke-linecap="butt" stroke-linejoin="round"/>
<path d="M1033.85,585.15 L1033.74,585.53 L1033.4,585.91 L1032.84,586.3 L1032.07,586.68 L1031.09,587.06 L1029.9,587.44 L1028.51,587.82 L1026.95,588.21 L1025.21,588.59 L1023.31,588.97 L1021.27,589.35 L1019.1,589.73 L1016.82,590.12 L1014.44,590.5 L1011.99,590.88 L1009.47,591.26 L1006.92,591.64 L1004.35,592.02 L1001.78,592.41 L999.23,592.79 L996.71,593.17 L994.26,593.55 L991.88,593.93 L989.6,594.32 L987.43,594.7 L985.39,595.08 L983.49,595.46 L981.75,595.84 L980.19,596.23 L978.8,596.61 L977.61,596.99 L976.63,597.37 L975.86,597.75 L975.3,598.14 L974.96,598.52 L974.85,598.9" fill="none" stroke="#222" stroke-width="11.2" stroke-linecap="butt" stroke-linejoin="round"/>
<path d="M1033.85,585.15 L1033.74,585.53 L1033.4,585.91 L1032.84,586.3 L1032.07,586.68 L1031.09,587.06 L1029.9,587.44 L1028.51,587.82 L1026.95,588.21 L1025.21,588.59 L1023.31,588.97 L1021.27,589.35 L1019.1,589.73 L1016.82,590.12 L1014.44,590.5 L1011.99,590.88 L1009.47,591.26 L1006.92,591.64 L1004.35,592.02 L1001.78,592.41 L999.23,592.79 L996.71,593.17 L994.26,593.55 L991.88,593.93 L989.6,594.32 L987.43,594.7 L985.39,595.08 L983.49,595.46 L981.75,595.84 L980.19,596.23 L978.8,596.61 L977.61,596.99 L976.63,597.37 L975.86,597.75 L975.3,598.14 L974.96,598.52 L974.85,598.9" fill="none" stroke="#fff" stroke-width="8.6" stroke-linecap="butt" stroke-linejoin="round"/>
<path d="M1033.85,612.65 L1033.74,613.03 L1033.4,613.41 L1032.84,613.8 L1032.07,614.18 L1031.09,614.56 L1029.9,614.94 L1028.51,615.32 L1026.95,615.71 L1025.21,616.09 L1023.31,616.47 L1021.27,616.85 L1019.1,617.23 L1016.82,617.62 L1014.44,618 L1011.99,618.38 L1009.47,618.76 L1006.92,619.14 L1004.35,619.52 L1001.78,619.91 L999.23,620.29 L996.71,620.67 L994.26,621.05 L991.88,621.43 L989.6,621.82 L987.43,622.2 L985.39,622.58 L983.49,622.96 L981.75,623.34 L980.19,623.73 L978.8,624.11 L977.61,624.49 L976.63,624.87 L975.86,625.25 L975.3,625.64 L974.96,626.02 L974.85,626.4" fill="none" stroke="#222" stroke-width="11.2" stroke-linecap="butt" stroke-linejoin="round"/>
<path d="M1033.85,612.65 L1033.74,613.03 L1033.4,613.41 L1032.84,613.8 L1032.07,614.18 L1031.09,614.56 L1029.9,614.94 L1028.51,615.32 L1026.95,615.71 L1025.21,616.09 L1023.31,616.47 L1021.27,616.85 L1019.1,617.23 L1016.82,617.62 L1014.44,618 L1011.99,618.38 L1009.47,618.76 L1006.92,619.14 L1004.35,619.52 L1001.78,619.91 L999.23,620.29 L996.71,620.67 L994.26,621.05 L991.88,621.43 L989.6,621.82 L987.43,622.2 L985.39,622.58 L983.49,622.96 L981.75,623.34 L980.19,623.73 L978.8,624.11 L977.61,624.49 L976.63,624.87 L975.86,625.25 L975.3,625.64 L974.96,626.02 L974.85,626.4" fill="none" stroke="#fff" stroke-width="8.6" stroke-linecap="butt" stroke-linejoin="round"/>
<rect x="991.85" y="474.6" width="25" height="155.3" fill="#fff" stroke="#222" stroke-width="1.4"/>
<path d="M975.06,488.37 L974.86,488.79 L974.92,489.2 L975.24,489.61 L975.81,490.02 L976.64,490.43 L977.71,490.84 L979.01,491.25 L980.54,491.66 L982.28,492.07 L984.21,492.49 L986.32,492.9 L988.59,493.31 L991,493.72 L993.52,494.13 L996.15,494.54 L998.84,494.95 L1001.58,495.36 L1004.35,495.77 L1007.12,496.19 L1009.86,496.6 L1012.55,497.01 L1015.18,497.42 L1017.7,497.83 L1020.11,498.24 L1022.38,498.65 L1024.49,499.06 L1026.42,499.48 L1028.16,499.89 L1029.69,500.3 L1030.99,500.71 L1032.06,501.12 L1032.89,501.53 L1033.46,501.94 L1033.78,502.35 L1033.84,502.76 L1033.64,503.18" fill="none" stroke="#222" stroke-width="11.2" stroke-linecap="butt" stroke-linejoin="round"/>
<path d="M975.06,488.37 L974.86,488.79 L974.92,489.2 L975.24,489.61 L975.81,490.02 L976.64,490.43 L977.71,490.84 L979.01,491.25 L980.54,491.66 L982.28,492.07 L984.21,492.49 L986.32,492.9 L988.59,493.31 L991,493.72 L993.52,494.13 L996.15,494.54 L998.84,494.95 L1001.58,495.36 L1004.35,495.77 L1007.12,496.19 L1009.86,496.6 L1012.55,497.01 L1015.18,497.42 L1017.7,497.83 L1020.11,498.24 L1022.38,498.65 L1024.49,499.06 L1026.42,499.48 L1028.16,499.89 L1029.69,500.3 L1030.99,500.71 L1032.06,501.12 L1032.89,501.53 L1033.46,501.94 L1033.78,502.35 L1033.84,502.76 L1033.64,503.18" fill="none" stroke="#fff" stroke-width="8.6" stroke-linecap="butt" stroke-linejoin="round"/>
<path d="M975.06,515.87 L974.86,516.29 L974.92,516.7 L975.24,517.11 L975.81,517.52 L976.64,517.93 L977.71,518.34 L979.01,518.75 L980.54,519.16 L982.28,519.57 L984.21,519.99 L986.32,520.4 L988.59,520.81 L991,521.22 L993.52,521.63 L996.15,522.04 L998.84,522.45 L1001.58,522.86 L1004.35,523.27 L1007.12,523.69 L1009.86,524.1 L1012.55,524.51 L1015.18,524.92 L1017.7,525.33 L1020.11,525.74 L1022.38,526.15 L1024.49,526.56 L1026.42,526.98 L1028.16,527.39 L1029.69,527.8 L1030.99,528.21 L1032.06,528.62 L1032.89,529.03 L1033.46,529.44 L1033.78,529.85 L1033.84,530.26 L1033.64,530.68" fill="none" stroke="#222" stroke-width="11.2" stroke-linecap="butt" stroke-linejoin="round"/>
<path d="M975.06,515.87 L974.86,516.29 L974.92,516.7 L975.24,517.11 L975.81,517.52 L976.64,517.93 L977.71,518.34 L979.01,518.75 L980.54,519.16 L982.28,519.57 L984.21,519.99 L986.32,520.4 L988.59,520.81 L991,521.22 L993.52,521.63 L996.15,522.04 L998.84,522.45 L1001.58,522.86 L1004.35,523.27 L1007.12,523.69 L1009.86,524.1 L1012.55,524.51 L1015.18,524.92 L1017.7,525.33 L1020.11,525.74 L1022.38,526.15 L1024.49,526.56 L1026.42,526.98 L1028.16,527.39 L1029.69,527.8 L1030.99,528.21 L1032.06,528.62 L1032.89,529.03 L1033.46,529.44 L1033.78,529.85 L1033.84,530.26 L1033.64,530.68" fill="none" stroke="#fff" stroke-width="8.6" stroke-linecap="butt" stroke-linejoin="round"/>
<path d="M975.06,543.37 L974.86,543.79 L974.92,544.2 L975.24,544.61 L975.81,545.02 L976.64,545.43 L977.71,545.84 L979.01,546.25 L980.54,546.66 L982.28,547.07 L984.21,547.49 L986.32,547.9 L988.59,548.31 L991,548.72 L993.52,549.13 L996.15,549.54 L998.84,549.95 L1001.58,550.36 L1004.35,550.77 L1007.12,551.19 L1009.86,551.6 L1012.55,552.01 L1015.18,552.42 L1017.7,552.83 L1020.11,553.24 L1022.38,553.65 L1024.49,554.06 L1026.42,554.48 L1028.16,554.89 L1029.69,555.3 L1030.99,555.71 L1032.06,556.12 L1032.89,556.53 L1033.46,556.94 L1033.78,557.35 L1033.84,557.76 L1033.64,558.18" fill="none" stroke="#222" stroke-width="11.2" stroke-linecap="butt" stroke-linejoin="round"/>
<path d="M975.06,543.37 L974.86,543.79 L974.92,544.2 L975.24,544.61 L975.81,545.02 L976.64,545.43 L977.71,545.84 L979.01,546.25 L980.54,546.66 L982.28,547.07 L984.21,547.49 L986.32,547.9 L988.59,548.31 L991,548.72 L993.52,549.13 L996.15,549.54 L998.84,549.95 L1001.58,550.36 L1004.35,550.77 L1007.12,551.19 L1009.86,551.6 L1012.55,552.01 L1015.18,552.42 L1017.7,552.83 L1020.11,553.24 L1022.38,553.65 L1024.49,554.06 L1026.42,554.48 L1028.16,554.89 L1029.69,555.3 L1030.99,555.71 L1032.06,556.12 L1032.89,556.53 L1033.46,556.94 L1033.78,557.35 L1033.84,557.76 L1033.64,558.18" fill="none" stroke="#fff" stroke-width="8.6" stroke-linecap="butt" stroke-linejoin="round"/>
<path d="M975.06,570.87 L974.86,571.29 L974.92,571.7 L975.24,572.11 L975.81,572.52 L976.64,572.93 L977.71,573.34 L979.01,573.75 L980.54,574.16 L982.28,574.57 L984.21,574.99 L986.32,575.4 L988.59,575.81 L991,576.22 L993.52,576.63 L996.15,577.04 L998.84,577.45 L1001.58,577.86 L1004.35,578.27 L1007.12,578.69 L1009.86,579.1 L1012.55,579.51 L1015.18,579.92 L1017.7,580.33 L1020.11,580.74 L1022.38,581.15 L1024.49,581.56 L1026.42,581.98 L1028.16,582.39 L1029.69,582.8 L1030.99,583.21 L1032.06,583.62 L1032.89,584.03 L1033.46,584.44 L1033.78,584.85 L1033.84,585.26 L1033.64,585.68" fill="none" stroke="#222" stroke-width="11.2" stroke-linecap="butt" stroke-linejoin="round"/>
<path d="M975.06,570.87 L974.86,571.29 L974.92,571.7 L975.24,572.11 L975.81,572.52 L976.64,572.93 L977.71,573.34 L979.01,573.75 L980.54,574.16 L982.28,574.57 L984.21,574.99 L986.32,575.4 L988.59,575.81 L991,576.22 L993.52,576.63 L996.15,577.04 L998.84,577.45 L1001.58,577.86 L1004.35,578.27 L1007.12,578.69 L1009.86,579.1 L1012.55,579.51 L1015.18,579.92 L1017.7,580.33 L1020.11,580.74 L1022.38,581.15 L1024.49,581.56 L1026.42,581.98 L1028.16,582.39 L1029.69,582.8 L1030.99,583.21 L1032.06,583.62 L1032.89,584.03 L1033.46,584.44 L1033.78,584.85 L1033.84,585.26 L1033.64,585.68" fill="none" stroke="#fff" stroke-width="8.6" stroke-linecap="butt" stroke-linejoin="round"/>
<path d="M975.06,598.37 L974.86,598.79 L974.92,599.2 L975.24,599.61 L975.81,600.02 L976.64,600.43 L977.71,600.84 L979.01,601.25 L980.54,601.66 L982.28,602.07 L984.21,602.49 L986.32,602.9 L988.59,603.31 L991,603.72 L993.52,604.13 L996.15,604.54 L998.84,604.95 L1001.58,605.36 L1004.35,605.77 L1007.12,606.19 L1009.86,606.6 L1012.55,607.01 L1015.18,607.42 L1017.7,607.83 L1020.11,608.24 L1022.38,608.65 L1024.49,609.06 L1026.42,609.48 L1028.16,609.89 L1029.69,610.3 L1030.99,610.71 L1032.06,611.12 L1032.89,611.53 L1033.46,611.94 L1033.78,612.35 L1033.84,612.76 L1033.64,613.18" fill="none" stroke="#222" stroke-width="11.2" stroke-linecap="butt" stroke-linejoin="round"/>
<path d="M975.06,598.37 L974.86,598.79 L974.92,599.2 L975.24,599.61 L975.81,600.02 L976.64,600.43 L977.71,600.84 L979.01,601.25 L980.54,601.66 L982.28,602.07 L984.21,602.49 L986.32,602.9 L988.59,603.31 L991,603.72 L993.52,604.13 L996.15,604.54 L998.84,604.95 L1001.58,605.36 L1004.35,605.77 L1007.12,606.19 L1009.86,606.6 L1012.55,607.01 L1015.18,607.42 L1017.7,607.83 L1020.11,608.24 L1022.38,608.65 L1024.49,609.06 L1026.42,609.48 L1028.16,609.89 L1029.69,610.3 L1030.99,610.71 L1032.06,611.12 L1032.89,611.53 L1033.46,611.94 L1033.78,612.35 L1033.84,612.76 L1033.64,613.18" fill="none" stroke="#fff" stroke-width="8.6" stroke-linecap="butt" stroke-linejoin="round"/>
<path d="M975.06,625.87 L974.88,626.19 L974.86,626.51 L974.99,626.83 L975.28,627.15 L975.72,627.47 L976.32,627.79 L977.06,628.1 L977.95,628.42 L978.97,628.74 L980.13,629.06 L981.42,629.38 L982.83,629.7 L984.36,630.02 L985.99,630.33 L987.71,630.65 L989.53,630.97 L991.42,631.29 L993.39,631.61 L995.41,631.93 L997.47,632.25 L999.58,632.56 L1001.71,632.88 L1003.85,633.2 L1006,633.52 L1008.13,633.84 L1010.25,634.16 L1012.34,634.48 L1014.38,634.79 L1016.37,635.11 L1018.3,635.43 L1020.15,635.75 L1021.92,636.07 L1023.6,636.39 L1025.17,636.7 L1026.64,637.02 L1027.98,637.34" fill="none" stroke="#222" stroke-width="11.2" stroke-linecap="round" stroke-linejoin="round"/>
<path d="M975.06,625.87 L974.88,626.19 L974.86,626.51 L974.99,626.83 L975.28,627.15 L975.72,627.47 L976.32,627.79 L977.06,628.1 L977.95,628.42 L978.97,628.74 L980.13,629.06 L981.42,629.38 L982.83,629.7 L984.36,630.02 L985.99,630.33 L987.71,630.65 L989.53,630.97 L991.42,631.29 L993.39,631.61 L995.41,631.93 L997.47,632.25 L999.58,632.56 L1001.71,632.88 L1003.85,633.2 L1006,633.52 L1008.13,633.84 L1010.25,634.16 L1012.34,634.48 L1014.38,634.79 L1016.37,635.11 L1018.3,635.43 L1020.15,635.75 L1021.92,636.07 L1023.6,636.39 L1025.17,636.7 L1026.64,637.02 L1027.98,637.34" fill="none" stroke="#fff" stroke-width="8.6" stroke-linecap="round" stroke-linejoin="round"/>
<g transform="translate(974.85,488.9)"><g transform="translate(4,1.8) rotate(-24)"><path d="M0,-4.6 L-11,-4.6 A2.3,4.6 0 0 0 -11,4.6 L0,4.6" fill="#fff" stroke="#222" stroke-width="1.3"/><ellipse cx="0" cy="0" rx="2.3" ry="4.6" fill="#fff" stroke="#222" stroke-width="1.3"/><path d="M-3.8,-4.6 A2.3,4.6 0 0 1 -3.8,4.6 M-7.5,-4.6 A2.3,4.6 0 0 1 -7.5,4.6" fill="none" stroke="#222" stroke-width="1.1"/></g><path d="M-19,3.8 L-11.2,16 L-4.5,7.8" fill="none" stroke="#222" stroke-width="1.5" stroke-linejoin="miter"/></g>
<g transform="translate(974.85,543.9)"><g transform="translate(4,1.8) rotate(-24)"><path d="M0,-4.6 L-11,-4.6 A2.3,4.6 0 0 0 -11,4.6 L0,4.6" fill="#fff" stroke="#222" stroke-width="1.3"/><ellipse cx="0" cy="0" rx="2.3" ry="4.6" fill="#fff" stroke="#222" stroke-width="1.3"/><path d="M-3.8,-4.6 A2.3,4.6 0 0 1 -3.8,4.6 M-7.5,-4.6 A2.3,4.6 0 0 1 -7.5,4.6" fill="none" stroke="#222" stroke-width="1.1"/></g><path d="M-19,3.8 L-11.2,16 L-4.5,7.8" fill="none" stroke="#222" stroke-width="1.5" stroke-linejoin="miter"/></g>
<g transform="translate(974.85,598.9)"><g transform="translate(4,1.8) rotate(-24)"><path d="M0,-4.6 L-11,-4.6 A2.3,4.6 0 0 0 -11,4.6 L0,4.6" fill="#fff" stroke="#222" stroke-width="1.3"/><ellipse cx="0" cy="0" rx="2.3" ry="4.6" fill="#fff" stroke="#222" stroke-width="1.3"/><path d="M-3.8,-4.6 A2.3,4.6 0 0 1 -3.8,4.6 M-7.5,-4.6 A2.3,4.6 0 0 1 -7.5,4.6" fill="none" stroke="#222" stroke-width="1.1"/></g><path d="M-19,3.8 L-11.2,16 L-4.5,7.8" fill="none" stroke="#222" stroke-width="1.5" stroke-linejoin="miter"/></g>
<path d="M939.9,439.6 L939.9,444.6 A64,36 0 0 0 1067.9,444.6 L1067.9,439.6 A64,36 0 0 0 939.9,439.6 Z" fill="#fff" stroke="#222" stroke-width="1.4" stroke-linejoin="round"/>
<path d="M939.9,439.6 A64,36 0 0 0 1067.9,439.6" fill="none" stroke="#222" stroke-width="1.3" stroke-linejoin="round"/>
<path d="M1105.05,521.69 L1104.94,522.07 L1104.6,522.45 L1104.04,522.84 L1103.27,523.22 L1102.29,523.6 L1101.1,523.98 L1099.71,524.36 L1098.15,524.75 L1096.41,525.13 L1094.51,525.51 L1092.47,525.89 L1090.3,526.27 L1088.02,526.66 L1085.64,527.04 L1083.19,527.42 L1080.67,527.8 L1078.12,528.18 L1075.55,528.57 L1072.98,528.95 L1070.43,529.33 L1067.91,529.71 L1065.46,530.09 L1063.08,530.47 L1060.8,530.86 L1058.63,531.24 L1056.59,531.62 L1054.69,532 L1052.95,532.38 L1051.39,532.77 L1050,533.15 L1048.81,533.53 L1047.83,533.91 L1047.06,534.29 L1046.5,534.68 L1046.16,535.06 L1046.05,535.44" fill="none" stroke="#222" stroke-width="11.2" stroke-linecap="butt" stroke-linejoin="round"/>
<path d="M1105.05,521.69 L1104.94,522.07 L1104.6,522.45 L1104.04,522.84 L1103.27,523.22 L1102.29,523.6 L1101.1,523.98 L1099.71,524.36 L1098.15,524.75 L1096.41,525.13 L1094.51,525.51 L1092.47,525.89 L1090.3,526.27 L1088.02,526.66 L1085.64,527.04 L1083.19,527.42 L1080.67,527.8 L1078.12,528.18 L1075.55,528.57 L1072.98,528.95 L1070.43,529.33 L1067.91,529.71 L1065.46,530.09 L1063.08,530.47 L1060.8,530.86 L1058.63,531.24 L1056.59,531.62 L1054.69,532 L1052.95,532.38 L1051.39,532.77 L1050,533.15 L1048.81,533.53 L1047.83,533.91 L1047.06,534.29 L1046.5,534.68 L1046.16,535.06 L1046.05,535.44" fill="none" stroke="#fff" stroke-width="8.6" stroke-linecap="butt" stroke-linejoin="round"/>
<path d="M1105.05,549.19 L1104.94,549.57 L1104.6,549.95 L1104.04,550.34 L1103.27,550.72 L1102.29,551.1 L1101.1,551.48 L1099.71,551.86 L1098.15,552.25 L1096.41,552.63 L1094.51,553.01 L1092.47,553.39 L1090.3,553.77 L1088.02,554.16 L1085.64,554.54 L1083.19,554.92 L1080.67,555.3 L1078.12,555.68 L1075.55,556.07 L1072.98,556.45 L1070.43,556.83 L1067.91,557.21 L1065.46,557.59 L1063.08,557.97 L1060.8,558.36 L1058.63,558.74 L1056.59,559.12 L1054.69,559.5 L1052.95,559.88 L1051.39,560.27 L1050,560.65 L1048.81,561.03 L1047.83,561.41 L1047.06,561.79 L1046.5,562.18 L1046.16,562.56 L1046.05,562.94" fill="none" stroke="#222" stroke-width="11.2" stroke-linecap="butt" stroke-linejoin="round"/>
<path d="M1105.05,549.19 L1104.94,549.57 L1104.6,549.95 L1104.04,550.34 L1103.27,550.72 L1102.29,551.1 L1101.1,551.48 L1099.71,551.86 L1098.15,552.25 L1096.41,552.63 L1094.51,553.01 L1092.47,553.39 L1090.3,553.77 L1088.02,554.16 L1085.64,554.54 L1083.19,554.92 L1080.67,555.3 L1078.12,555.68 L1075.55,556.07 L1072.98,556.45 L1070.43,556.83 L1067.91,557.21 L1065.46,557.59 L1063.08,557.97 L1060.8,558.36 L1058.63,558.74 L1056.59,559.12 L1054.69,559.5 L1052.95,559.88 L1051.39,560.27 L1050,560.65 L1048.81,561.03 L1047.83,561.41 L1047.06,561.79 L1046.5,562.18 L1046.16,562.56 L1046.05,562.94" fill="none" stroke="#fff" stroke-width="8.6" stroke-linecap="butt" stroke-linejoin="round"/>
<path d="M1105.05,576.69 L1104.94,577.07 L1104.6,577.45 L1104.04,577.84 L1103.27,578.22 L1102.29,578.6 L1101.1,578.98 L1099.71,579.36 L1098.15,579.75 L1096.41,580.13 L1094.51,580.51 L1092.47,580.89 L1090.3,581.27 L1088.02,581.66 L1085.64,582.04 L1083.19,582.42 L1080.67,582.8 L1078.12,583.18 L1075.55,583.57 L1072.98,583.95 L1070.43,584.33 L1067.91,584.71 L1065.46,585.09 L1063.08,585.47 L1060.8,585.86 L1058.63,586.24 L1056.59,586.62 L1054.69,587 L1052.95,587.38 L1051.39,587.77 L1050,588.15 L1048.81,588.53 L1047.83,588.91 L1047.06,589.29 L1046.5,589.68 L1046.16,590.06 L1046.05,590.44" fill="none" stroke="#222" stroke-width="11.2" stroke-linecap="butt" stroke-linejoin="round"/>
<path d="M1105.05,576.69 L1104.94,577.07 L1104.6,577.45 L1104.04,577.84 L1103.27,578.22 L1102.29,578.6 L1101.1,578.98 L1099.71,579.36 L1098.15,579.75 L1096.41,580.13 L1094.51,580.51 L1092.47,580.89 L1090.3,581.27 L1088.02,581.66 L1085.64,582.04 L1083.19,582.42 L1080.67,582.8 L1078.12,583.18 L1075.55,583.57 L1072.98,583.95 L1070.43,584.33 L1067.91,584.71 L1065.46,585.09 L1063.08,585.47 L1060.8,585.86 L1058.63,586.24 L1056.59,586.62 L1054.69,587 L1052.95,587.38 L1051.39,587.77 L1050,588.15 L1048.81,588.53 L1047.83,588.91 L1047.06,589.29 L1046.5,589.68 L1046.16,590.06 L1046.05,590.44" fill="none" stroke="#fff" stroke-width="8.6" stroke-linecap="butt" stroke-linejoin="round"/>
<path d="M1105.05,604.19 L1104.94,604.57 L1104.6,604.95 L1104.04,605.34 L1103.27,605.72 L1102.29,606.1 L1101.1,606.48 L1099.71,606.86 L1098.15,607.25 L1096.41,607.63 L1094.51,608.01 L1092.47,608.39 L1090.3,608.77 L1088.02,609.16 L1085.64,609.54 L1083.19,609.92 L1080.67,610.3 L1078.12,610.68 L1075.55,611.07 L1072.98,611.45 L1070.43,611.83 L1067.91,612.21 L1065.46,612.59 L1063.08,612.97 L1060.8,613.36 L1058.63,613.74 L1056.59,614.12 L1054.69,614.5 L1052.95,614.88 L1051.39,615.27 L1050,615.65 L1048.81,616.03 L1047.83,616.41 L1047.06,616.79 L1046.5,617.18 L1046.16,617.56 L1046.05,617.94" fill="none" stroke="#222" stroke-width="11.2" stroke-linecap="butt" stroke-linejoin="round"/>
<path d="M1105.05,604.19 L1104.94,604.57 L1104.6,604.95 L1104.04,605.34 L1103.27,605.72 L1102.29,606.1 L1101.1,606.48 L1099.71,606.86 L1098.15,607.25 L1096.41,607.63 L1094.51,608.01 L1092.47,608.39 L1090.3,608.77 L1088.02,609.16 L1085.64,609.54 L1083.19,609.92 L1080.67,610.3 L1078.12,610.68 L1075.55,611.07 L1072.98,611.45 L1070.43,611.83 L1067.91,612.21 L1065.46,612.59 L1063.08,612.97 L1060.8,613.36 L1058.63,613.74 L1056.59,614.12 L1054.69,614.5 L1052.95,614.88 L1051.39,615.27 L1050,615.65 L1048.81,616.03 L1047.83,616.41 L1047.06,616.79 L1046.5,617.18 L1046.16,617.56 L1046.05,617.94" fill="none" stroke="#fff" stroke-width="8.6" stroke-linecap="butt" stroke-linejoin="round"/>
<path d="M1105.05,631.69 L1104.94,632.07 L1104.6,632.45 L1104.04,632.84 L1103.27,633.22 L1102.29,633.6 L1101.1,633.98 L1099.71,634.36 L1098.15,634.75 L1096.41,635.13 L1094.51,635.51 L1092.47,635.89 L1090.3,636.27 L1088.02,636.66 L1085.64,637.04 L1083.19,637.42 L1080.67,637.8 L1078.12,638.18 L1075.55,638.57 L1072.98,638.95 L1070.43,639.33 L1067.91,639.71 L1065.46,640.09 L1063.08,640.47 L1060.8,640.86 L1058.63,641.24 L1056.59,641.62 L1054.69,642 L1052.95,642.38 L1051.39,642.77 L1050,643.15 L1048.81,643.53 L1047.83,643.91 L1047.06,644.29 L1046.5,644.68 L1046.16,645.06 L1046.05,645.44" fill="none" stroke="#222" stroke-width="11.2" stroke-linecap="butt" stroke-linejoin="round"/>
<path d="M1105.05,631.69 L1104.94,632.07 L1104.6,632.45 L1104.04,632.84 L1103.27,633.22 L1102.29,633.6 L1101.1,633.98 L1099.71,634.36 L1098.15,634.75 L1096.41,635.13 L1094.51,635.51 L1092.47,635.89 L1090.3,636.27 L1088.02,636.66 L1085.64,637.04 L1083.19,637.42 L1080.67,637.8 L1078.12,638.18 L1075.55,638.57 L1072.98,638.95 L1070.43,639.33 L1067.91,639.71 L1065.46,640.09 L1063.08,640.47 L1060.8,640.86 L1058.63,641.24 L1056.59,641.62 L1054.69,642 L1052.95,642.38 L1051.39,642.77 L1050,643.15 L1048.81,643.53 L1047.83,643.91 L1047.06,644.29 L1046.5,644.68 L1046.16,645.06 L1046.05,645.44" fill="none" stroke="#fff" stroke-width="8.6" stroke-linecap="butt" stroke-linejoin="round"/>
<path d="M1105.05,659.19 L1104.94,659.57 L1104.6,659.95 L1104.04,660.34 L1103.27,660.72 L1102.29,661.1 L1101.1,661.48 L1099.71,661.86 L1098.15,662.25 L1096.41,662.63 L1094.51,663.01 L1092.47,663.39 L1090.3,663.77 L1088.02,664.16 L1085.64,664.54 L1083.19,664.92 L1080.67,665.3 L1078.12,665.68 L1075.55,666.07 L1072.98,666.45 L1070.43,666.83 L1067.91,667.21 L1065.46,667.59 L1063.08,667.97 L1060.8,668.36 L1058.63,668.74 L1056.59,669.12 L1054.69,669.5 L1052.95,669.88 L1051.39,670.27 L1050,670.65 L1048.81,671.03 L1047.83,671.41 L1047.06,671.79 L1046.5,672.18 L1046.16,672.56 L1046.05,672.94" fill="none" stroke="#222" stroke-width="11.2" stroke-linecap="butt" stroke-linejoin="round"/>
<path d="M1105.05,659.19 L1104.94,659.57 L1104.6,659.95 L1104.04,660.34 L1103.27,660.72 L1102.29,661.1 L1101.1,661.48 L1099.71,661.86 L1098.15,662.25 L1096.41,662.63 L1094.51,663.01 L1092.47,663.39 L1090.3,663.77 L1088.02,664.16 L1085.64,664.54 L1083.19,664.92 L1080.67,665.3 L1078.12,665.68 L1075.55,666.07 L1072.98,666.45 L1070.43,666.83 L1067.91,667.21 L1065.46,667.59 L1063.08,667.97 L1060.8,668.36 L1058.63,668.74 L1056.59,669.12 L1054.69,669.5 L1052.95,669.88 L1051.39,670.27 L1050,670.65 L1048.81,671.03 L1047.83,671.41 L1047.06,671.79 L1046.5,672.18 L1046.16,672.56 L1046.05,672.94" fill="none" stroke="#fff" stroke-width="8.6" stroke-linecap="butt" stroke-linejoin="round"/>
<rect x="1063.05" y="521.4" width="25" height="155.3" fill="#fff" stroke="#222" stroke-width="1.4"/>
<path d="M1046.26,534.91 L1046.06,535.33 L1046.12,535.74 L1046.44,536.15 L1047.01,536.56 L1047.84,536.97 L1048.91,537.38 L1050.21,537.79 L1051.74,538.2 L1053.48,538.61 L1055.41,539.03 L1057.52,539.44 L1059.79,539.85 L1062.2,540.26 L1064.72,540.67 L1067.35,541.08 L1070.04,541.49 L1072.78,541.9 L1075.55,542.32 L1078.32,542.73 L1081.06,543.14 L1083.75,543.55 L1086.38,543.96 L1088.9,544.37 L1091.31,544.78 L1093.58,545.19 L1095.69,545.6 L1097.62,546.02 L1099.36,546.43 L1100.89,546.84 L1102.19,547.25 L1103.26,547.66 L1104.09,548.07 L1104.66,548.48 L1104.98,548.89 L1105.04,549.3 L1104.84,549.72" fill="none" stroke="#222" stroke-width="11.2" stroke-linecap="butt" stroke-linejoin="round"/>
<path d="M1046.26,534.91 L1046.06,535.33 L1046.12,535.74 L1046.44,536.15 L1047.01,536.56 L1047.84,536.97 L1048.91,537.38 L1050.21,537.79 L1051.74,538.2 L1053.48,538.61 L1055.41,539.03 L1057.52,539.44 L1059.79,539.85 L1062.2,540.26 L1064.72,540.67 L1067.35,541.08 L1070.04,541.49 L1072.78,541.9 L1075.55,542.32 L1078.32,542.73 L1081.06,543.14 L1083.75,543.55 L1086.38,543.96 L1088.9,544.37 L1091.31,544.78 L1093.58,545.19 L1095.69,545.6 L1097.62,546.02 L1099.36,546.43 L1100.89,546.84 L1102.19,547.25 L1103.26,547.66 L1104.09,548.07 L1104.66,548.48 L1104.98,548.89 L1105.04,549.3 L1104.84,549.72" fill="none" stroke="#fff" stroke-width="8.6" stroke-linecap="butt" stroke-linejoin="round"/>
<path d="M1046.26,562.41 L1046.06,562.83 L1046.12,563.24 L1046.44,563.65 L1047.01,564.06 L1047.84,564.47 L1048.91,564.88 L1050.21,565.29 L1051.74,565.7 L1053.48,566.11 L1055.41,566.53 L1057.52,566.94 L1059.79,567.35 L1062.2,567.76 L1064.72,568.17 L1067.35,568.58 L1070.04,568.99 L1072.78,569.4 L1075.55,569.82 L1078.32,570.23 L1081.06,570.64 L1083.75,571.05 L1086.38,571.46 L1088.9,571.87 L1091.31,572.28 L1093.58,572.69 L1095.69,573.1 L1097.62,573.52 L1099.36,573.93 L1100.89,574.34 L1102.19,574.75 L1103.26,575.16 L1104.09,575.57 L1104.66,575.98 L1104.98,576.39 L1105.04,576.8 L1104.84,577.22" fill="none" stroke="#222" stroke-width="11.2" stroke-linecap="butt" stroke-linejoin="round"/>
<path d="M1046.26,562.41 L1046.06,562.83 L1046.12,563.24 L1046.44,563.65 L1047.01,564.06 L1047.84,564.47 L1048.91,564.88 L1050.21,565.29 L1051.74,565.7 L1053.48,566.11 L1055.41,566.53 L1057.52,566.94 L1059.79,567.35 L1062.2,567.76 L1064.72,568.17 L1067.35,568.58 L1070.04,568.99 L1072.78,569.4 L1075.55,569.82 L1078.32,570.23 L1081.06,570.64 L1083.75,571.05 L1086.38,571.46 L1088.9,571.87 L1091.31,572.28 L1093.58,572.69 L1095.69,573.1 L1097.62,573.52 L1099.36,573.93 L1100.89,574.34 L1102.19,574.75 L1103.26,575.16 L1104.09,575.57 L1104.66,575.98 L1104.98,576.39 L1105.04,576.8 L1104.84,577.22" fill="none" stroke="#fff" stroke-width="8.6" stroke-linecap="butt" stroke-linejoin="round"/>
<path d="M1046.26,589.91 L1046.06,590.33 L1046.12,590.74 L1046.44,591.15 L1047.01,591.56 L1047.84,591.97 L1048.91,592.38 L1050.21,592.79 L1051.74,593.2 L1053.48,593.61 L1055.41,594.03 L1057.52,594.44 L1059.79,594.85 L1062.2,595.26 L1064.72,595.67 L1067.35,596.08 L1070.04,596.49 L1072.78,596.9 L1075.55,597.32 L1078.32,597.73 L1081.06,598.14 L1083.75,598.55 L1086.38,598.96 L1088.9,599.37 L1091.31,599.78 L1093.58,600.19 L1095.69,600.6 L1097.62,601.02 L1099.36,601.43 L1100.89,601.84 L1102.19,602.25 L1103.26,602.66 L1104.09,603.07 L1104.66,603.48 L1104.98,603.89 L1105.04,604.3 L1104.84,604.72" fill="none" stroke="#222" stroke-width="11.2" stroke-linecap="butt" stroke-linejoin="round"/>
<path d="M1046.26,589.91 L1046.06,590.33 L1046.12,590.74 L1046.44,591.15 L1047.01,591.56 L1047.84,591.97 L1048.91,592.38 L1050.21,592.79 L1051.74,593.2 L1053.48,593.61 L1055.41,594.03 L1057.52,594.44 L1059.79,594.85 L1062.2,595.26 L1064.72,595.67 L1067.35,596.08 L1070.04,596.49 L1072.78,596.9 L1075.55,597.32 L1078.32,597.73 L1081.06,598.14 L1083.75,598.55 L1086.38,598.96 L1088.9,599.37 L1091.31,599.78 L1093.58,600.19 L1095.69,600.6 L1097.62,601.02 L1099.36,601.43 L1100.89,601.84 L1102.19,602.25 L1103.26,602.66 L1104.09,603.07 L1104.66,603.48 L1104.98,603.89 L1105.04,604.3 L1104.84,604.72" fill="none" stroke="#fff" stroke-width="8.6" stroke-linecap="butt" stroke-linejoin="round"/>
<path d="M1046.26,617.41 L1046.06,617.83 L1046.12,618.24 L1046.44,618.65 L1047.01,619.06 L1047.84,619.47 L1048.91,619.88 L1050.21,620.29 L1051.74,620.7 L1053.48,621.11 L1055.41,621.53 L1057.52,621.94 L1059.79,622.35 L1062.2,622.76 L1064.72,623.17 L1067.35,623.58 L1070.04,623.99 L1072.78,624.4 L1075.55,624.82 L1078.32,625.23 L1081.06,625.64 L1083.75,626.05 L1086.38,626.46 L1088.9,626.87 L1091.31,627.28 L1093.58,627.69 L1095.69,628.1 L1097.62,628.52 L1099.36,628.93 L1100.89,629.34 L1102.19,629.75 L1103.26,630.16 L1104.09,630.57 L1104.66,630.98 L1104.98,631.39 L1105.04,631.8 L1104.84,632.22" fill="none" stroke="#222" stroke-width="11.2" stroke-linecap="butt" stroke-linejoin="round"/>
<path d="M1046.26,617.41 L1046.06,617.83 L1046.12,618.24 L1046.44,618.65 L1047.01,619.06 L1047.84,619.47 L1048.91,619.88 L1050.21,620.29 L1051.74,620.7 L1053.48,621.11 L1055.41,621.53 L1057.52,621.94 L1059.79,622.35 L1062.2,622.76 L1064.72,623.17 L1067.35,623.58 L1070.04,623.99 L1072.78,624.4 L1075.55,624.82 L1078.32,625.23 L1081.06,625.64 L1083.75,626.05 L1086.38,626.46 L1088.9,626.87 L1091.31,627.28 L1093.58,627.69 L1095.69,628.1 L1097.62,628.52 L1099.36,628.93 L1100.89,629.34 L1102.19,629.75 L1103.26,630.16 L1104.09,630.57 L1104.66,630.98 L1104.98,631.39 L1105.04,631.8 L1104.84,632.22" fill="none" stroke="#fff" stroke-width="8.6" stroke-linecap="butt" stroke-linejoin="round"/>
<path d="M1046.26,644.91 L1046.06,645.33 L1046.12,645.74 L1046.44,646.15 L1047.01,646.56 L1047.84,646.97 L1048.91,647.38 L1050.21,647.79 L1051.74,648.2 L1053.48,648.61 L1055.41,649.03 L1057.52,649.44 L1059.79,649.85 L1062.2,650.26 L1064.72,650.67 L1067.35,651.08 L1070.04,651.49 L1072.78,651.9 L1075.55,652.32 L1078.32,652.73 L1081.06,653.14 L1083.75,653.55 L1086.38,653.96 L1088.9,654.37 L1091.31,654.78 L1093.58,655.19 L1095.69,655.6 L1097.62,656.02 L1099.36,656.43 L1100.89,656.84 L1102.19,657.25 L1103.26,657.66 L1104.09,658.07 L1104.66,658.48 L1104.98,658.89 L1105.04,659.3 L1104.84,659.72" fill="none" stroke="#222" stroke-width="11.2" stroke-linecap="butt" stroke-linejoin="round"/>
<path d="M1046.26,644.91 L1046.06,645.33 L1046.12,645.74 L1046.44,646.15 L1047.01,646.56 L1047.84,646.97 L1048.91,647.38 L1050.21,647.79 L1051.74,648.2 L1053.48,648.61 L1055.41,649.03 L1057.52,649.44 L1059.79,649.85 L1062.2,650.26 L1064.72,650.67 L1067.35,651.08 L1070.04,651.49 L1072.78,651.9 L1075.55,652.32 L1078.32,652.73 L1081.06,653.14 L1083.75,653.55 L1086.38,653.96 L1088.9,654.37 L1091.31,654.78 L1093.58,655.19 L1095.69,655.6 L1097.62,656.02 L1099.36,656.43 L1100.89,656.84 L1102.19,657.25 L1103.26,657.66 L1104.09,658.07 L1104.66,658.48 L1104.98,658.89 L1105.04,659.3 L1104.84,659.72" fill="none" stroke="#fff" stroke-width="8.6" stroke-linecap="butt" stroke-linejoin="round"/>
<path d="M1046.26,672.41 L1046.08,672.73 L1046.06,673.05 L1046.19,673.37 L1046.48,673.69 L1046.92,674.01 L1047.52,674.33 L1048.26,674.64 L1049.15,674.96 L1050.17,675.28 L1051.33,675.6 L1052.62,675.92 L1054.03,676.24 L1055.56,676.56 L1057.19,676.87 L1058.91,677.19 L1060.73,677.51 L1062.62,677.83 L1064.59,678.15 L1066.61,678.47 L1068.67,678.79 L1070.78,679.1 L1072.91,679.42 L1075.05,679.74 L1077.2,680.06 L1079.33,680.38 L1081.45,680.7 L1083.54,681.02 L1085.58,681.33 L1087.57,681.65 L1089.5,681.97 L1091.35,682.29 L1093.12,682.61 L1094.8,682.93 L1096.37,683.24 L1097.84,683.56 L1099.18,683.88" fill="none" stroke="#222" stroke-width="11.2" stroke-linecap="round" stroke-linejoin="round"/>
<path d="M1046.26,672.41 L1046.08,672.73 L1046.06,673.05 L1046.19,673.37 L1046.48,673.69 L1046.92,674.01 L1047.52,674.33 L1048.26,674.64 L1049.15,674.96 L1050.17,675.28 L1051.33,675.6 L1052.62,675.92 L1054.03,676.24 L1055.56,676.56 L1057.19,676.87 L1058.91,677.19 L1060.73,677.51 L1062.62,677.83 L1064.59,678.15 L1066.61,678.47 L1068.67,678.79 L1070.78,679.1 L1072.91,679.42 L1075.05,679.74 L1077.2,680.06 L1079.33,680.38 L1081.45,680.7 L1083.54,681.02 L1085.58,681.33 L1087.57,681.65 L1089.5,681.97 L1091.35,682.29 L1093.12,682.61 L1094.8,682.93 L1096.37,683.24 L1097.84,683.56 L1099.18,683.88" fill="none" stroke="#fff" stroke-width="8.6" stroke-linecap="round" stroke-linejoin="round"/>
<g transform="translate(1046.05,535.44)"><g transform="translate(4,1.8) rotate(-24)"><path d="M0,-4.6 L-11,-4.6 A2.3,4.6 0 0 0 -11,4.6 L0,4.6" fill="#fff" stroke="#222" stroke-width="1.3"/><ellipse cx="0" cy="0" rx="2.3" ry="4.6" fill="#fff" stroke="#222" stroke-width="1.3"/><path d="M-3.8,-4.6 A2.3,4.6 0 0 1 -3.8,4.6 M-7.5,-4.6 A2.3,4.6 0 0 1 -7.5,4.6" fill="none" stroke="#222" stroke-width="1.1"/></g><path d="M-19,3.8 L-11.2,16 L-4.5,7.8" fill="none" stroke="#222" stroke-width="1.5" stroke-linejoin="miter"/></g>
<g transform="translate(1046.05,590.44)"><g transform="translate(4,1.8) rotate(-24)"><path d="M0,-4.6 L-11,-4.6 A2.3,4.6 0 0 0 -11,4.6 L0,4.6" fill="#fff" stroke="#222" stroke-width="1.3"/><ellipse cx="0" cy="0" rx="2.3" ry="4.6" fill="#fff" stroke="#222" stroke-width="1.3"/><path d="M-3.8,-4.6 A2.3,4.6 0 0 1 -3.8,4.6 M-7.5,-4.6 A2.3,4.6 0 0 1 -7.5,4.6" fill="none" stroke="#222" stroke-width="1.1"/></g><path d="M-19,3.8 L-11.2,16 L-4.5,7.8" fill="none" stroke="#222" stroke-width="1.5" stroke-linejoin="miter"/></g>
<g transform="translate(1046.05,645.44)"><g transform="translate(4,1.8) rotate(-24)"><path d="M0,-4.6 L-11,-4.6 A2.3,4.6 0 0 0 -11,4.6 L0,4.6" fill="#fff" stroke="#222" stroke-width="1.3"/><ellipse cx="0" cy="0" rx="2.3" ry="4.6" fill="#fff" stroke="#222" stroke-width="1.3"/><path d="M-3.8,-4.6 A2.3,4.6 0 0 1 -3.8,4.6 M-7.5,-4.6 A2.3,4.6 0 0 1 -7.5,4.6" fill="none" stroke="#222" stroke-width="1.1"/></g><path d="M-19,3.8 L-11.2,16 L-4.5,7.8" fill="none" stroke="#222" stroke-width="1.5" stroke-linejoin="miter"/></g>
<path d="M1011.3,486.4 L1011.3,491.4 A64,36 0 0 0 1139.3,491.4 L1139.3,486.4 A64,36 0 0 0 1011.3,486.4 Z" fill="#fff" stroke="#222" stroke-width="1.4" stroke-linejoin="round"/>
<path d="M1011.3,486.4 A64,36 0 0 0 1139.3,486.4" fill="none" stroke="#222" stroke-width="1.3" stroke-linejoin="round"/>
<path d="M1185.45,562.03 L1185.34,562.41 L1185,562.79 L1184.44,563.18 L1183.67,563.56 L1182.69,563.94 L1181.5,564.32 L1180.11,564.7 L1178.55,565.09 L1176.81,565.47 L1174.91,565.85 L1172.87,566.23 L1170.7,566.61 L1168.42,567 L1166.04,567.38 L1163.59,567.76 L1161.07,568.14 L1158.52,568.52 L1155.95,568.9 L1153.38,569.29 L1150.83,569.67 L1148.31,570.05 L1145.86,570.43 L1143.48,570.81 L1141.2,571.2 L1139.03,571.58 L1136.99,571.96 L1135.09,572.34 L1133.35,572.72 L1131.79,573.11 L1130.4,573.49 L1129.21,573.87 L1128.23,574.25 L1127.46,574.63 L1126.9,575.02 L1126.56,575.4 L1126.45,575.78" fill="none" stroke="#222" stroke-width="11.2" stroke-linecap="butt" stroke-linejoin="round"/>
<path d="M1185.45,562.03 L1185.34,562.41 L1185,562.79 L1184.44,563.18 L1183.67,563.56 L1182.69,563.94 L1181.5,564.32 L1180.11,564.7 L1178.55,565.09 L1176.81,565.47 L1174.91,565.85 L1172.87,566.23 L1170.7,566.61 L1168.42,567 L1166.04,567.38 L1163.59,567.76 L1161.07,568.14 L1158.52,568.52 L1155.95,568.9 L1153.38,569.29 L1150.83,569.67 L1148.31,570.05 L1145.86,570.43 L1143.48,570.81 L1141.2,571.2 L1139.03,571.58 L1136.99,571.96 L1135.09,572.34 L1133.35,572.72 L1131.79,573.11 L1130.4,573.49 L1129.21,573.87 L1128.23,574.25 L1127.46,574.63 L1126.9,575.02 L1126.56,575.4 L1126.45,575.78" fill="none" stroke="#fff" stroke-width="8.6" stroke-linecap="butt" stroke-linejoin="round"/>
<path d="M1185.45,589.53 L1185.34,589.91 L1185,590.29 L1184.44,590.68 L1183.67,591.06 L1182.69,591.44 L1181.5,591.82 L1180.11,592.2 L1178.55,592.59 L1176.81,592.97 L1174.91,593.35 L1172.87,593.73 L1170.7,594.11 L1168.42,594.5 L1166.04,594.88 L1163.59,595.26 L1161.07,595.64 L1158.52,596.02 L1155.95,596.4 L1153.38,596.79 L1150.83,597.17 L1148.31,597.55 L1145.86,597.93 L1143.48,598.31 L1141.2,598.7 L1139.03,599.08 L1136.99,599.46 L1135.09,599.84 L1133.35,600.22 L1131.79,600.61 L1130.4,600.99 L1129.21,601.37 L1128.23,601.75 L1127.46,602.13 L1126.9,602.52 L1126.56,602.9 L1126.45,603.28" fill="none" stroke="#222" stroke-width="11.2" stroke-linecap="butt" stroke-linejoin="round"/>
<path d="M1185.45,589.53 L1185.34,589.91 L1185,590.29 L1184.44,590.68 L1183.67,591.06 L1182.69,591.44 L1181.5,591.82 L1180.11,592.2 L1178.55,592.59 L1176.81,592.97 L1174.91,593.35 L1172.87,593.73 L1170.7,594.11 L1168.42,594.5 L1166.04,594.88 L1163.59,595.26 L1161.07,595.64 L1158.52,596.02 L1155.95,596.4 L1153.38,596.79 L1150.83,597.17 L1148.31,597.55 L1145.86,597.93 L1143.48,598.31 L1141.2,598.7 L1139.03,599.08 L1136.99,599.46 L1135.09,599.84 L1133.35,600.22 L1131.79,600.61 L1130.4,600.99 L1129.21,601.37 L1128.23,601.75 L1127.46,602.13 L1126.9,602.52 L1126.56,602.9 L1126.45,603.28" fill="none" stroke="#fff" stroke-width="8.6" stroke-linecap="butt" stroke-linejoin="round"/>
<path d="M1185.45,617.03 L1185.34,617.41 L1185,617.79 L1184.44,618.18 L1183.67,618.56 L1182.69,618.94 L1181.5,619.32 L1180.11,619.7 L1178.55,620.09 L1176.81,620.47 L1174.91,620.85 L1172.87,621.23 L1170.7,621.61 L1168.42,622 L1166.04,622.38 L1163.59,622.76 L1161.07,623.14 L1158.52,623.52 L1155.95,623.9 L1153.38,624.29 L1150.83,624.67 L1148.31,625.05 L1145.86,625.43 L1143.48,625.81 L1141.2,626.2 L1139.03,626.58 L1136.99,626.96 L1135.09,627.34 L1133.35,627.72 L1131.79,628.11 L1130.4,628.49 L1129.21,628.87 L1128.23,629.25 L1127.46,629.63 L1126.9,630.02 L1126.56,630.4 L1126.45,630.78" fill="none" stroke="#222" stroke-width="11.2" stroke-linecap="butt" stroke-linejoin="round"/>
<path d="M1185.45,617.03 L1185.34,617.41 L1185,617.79 L1184.44,618.18 L1183.67,618.56 L1182.69,618.94 L1181.5,619.32 L1180.11,619.7 L1178.55,620.09 L1176.81,620.47 L1174.91,620.85 L1172.87,621.23 L1170.7,621.61 L1168.42,622 L1166.04,622.38 L1163.59,622.76 L1161.07,623.14 L1158.52,623.52 L1155.95,623.9 L1153.38,624.29 L1150.83,624.67 L1148.31,625.05 L1145.86,625.43 L1143.48,625.81 L1141.2,626.2 L1139.03,626.58 L1136.99,626.96 L1135.09,627.34 L1133.35,627.72 L1131.79,628.11 L1130.4,628.49 L1129.21,628.87 L1128.23,629.25 L1127.46,629.63 L1126.9,630.02 L1126.56,630.4 L1126.45,630.78" fill="none" stroke="#fff" stroke-width="8.6" stroke-linecap="butt" stroke-linejoin="round"/>
<path d="M1185.45,644.53 L1185.34,644.91 L1185,645.29 L1184.44,645.68 L1183.67,646.06 L1182.69,646.44 L1181.5,646.82 L1180.11,647.2 L1178.55,647.59 L1176.81,647.97 L1174.91,648.35 L1172.87,648.73 L1170.7,649.11 L1168.42,649.5 L1166.04,649.88 L1163.59,650.26 L1161.07,650.64 L1158.52,651.02 L1155.95,651.4 L1153.38,651.79 L1150.83,652.17 L1148.31,652.55 L1145.86,652.93 L1143.48,653.31 L1141.2,653.7 L1139.03,654.08 L1136.99,654.46 L1135.09,654.84 L1133.35,655.22 L1131.79,655.61 L1130.4,655.99 L1129.21,656.37 L1128.23,656.75 L1127.46,657.13 L1126.9,657.52 L1126.56,657.9 L1126.45,658.28" fill="none" stroke="#222" stroke-width="11.2" stroke-linecap="butt" stroke-linejoin="round"/>
<path d="M1185.45,644.53 L1185.34,644.91 L1185,645.29 L1184.44,645.68 L1183.67,646.06 L1182.69,646.44 L1181.5,646.82 L1180.11,647.2 L1178.55,647.59 L1176.81,647.97 L1174.91,648.35 L1172.87,648.73 L1170.7,649.11 L1168.42,649.5 L1166.04,649.88 L1163.59,650.26 L1161.07,650.64 L1158.52,651.02 L1155.95,651.4 L1153.38,651.79 L1150.83,652.17 L1148.31,652.55 L1145.86,652.93 L1143.48,653.31 L1141.2,653.7 L1139.03,654.08 L1136.99,654.46 L1135.09,654.84 L1133.35,655.22 L1131.79,655.61 L1130.4,655.99 L1129.21,656.37 L1128.23,656.75 L1127.46,657.13 L1126.9,657.52 L1126.56,657.9 L1126.45,658.28" fill="none" stroke="#fff" stroke-width="8.6" stroke-linecap="butt" stroke-linejoin="round"/>
<path d="M1185.45,672.03 L1185.34,672.41 L1185,672.79 L1184.44,673.18 L1183.67,673.56 L1182.69,673.94 L1181.5,674.32 L1180.11,674.7 L1178.55,675.09 L1176.81,675.47 L1174.91,675.85 L1172.87,676.23 L1170.7,676.61 L1168.42,677 L1166.04,677.38 L1163.59,677.76 L1161.07,678.14 L1158.52,678.52 L1155.95,678.9 L1153.38,679.29 L1150.83,679.67 L1148.31,680.05 L1145.86,680.43 L1143.48,680.81 L1141.2,681.2 L1139.03,681.58 L1136.99,681.96 L1135.09,682.34 L1133.35,682.72 L1131.79,683.11 L1130.4,683.49 L1129.21,683.87 L1128.23,684.25 L1127.46,684.63 L1126.9,685.02 L1126.56,685.4 L1126.45,685.78" fill="none" stroke="#222" stroke-width="11.2" stroke-linecap="butt" stroke-linejoin="round"/>
<path d="M1185.45,672.03 L1185.34,672.41 L1185,672.79 L1184.44,673.18 L1183.67,673.56 L1182.69,673.94 L1181.5,674.32 L1180.11,674.7 L1178.55,675.09 L1176.81,675.47 L1174.91,675.85 L1172.87,676.23 L1170.7,676.61 L1168.42,677 L1166.04,677.38 L1163.59,677.76 L1161.07,678.14 L1158.52,678.52 L1155.95,678.9 L1153.38,679.29 L1150.83,679.67 L1148.31,680.05 L1145.86,680.43 L1143.48,680.81 L1141.2,681.2 L1139.03,681.58 L1136.99,681.96 L1135.09,682.34 L1133.35,682.72 L1131.79,683.11 L1130.4,683.49 L1129.21,683.87 L1128.23,684.25 L1127.46,684.63 L1126.9,685.02 L1126.56,685.4 L1126.45,685.78" fill="none" stroke="#fff" stroke-width="8.6" stroke-linecap="butt" stroke-linejoin="round"/>
<path d="M1185.45,699.53 L1185.34,699.91 L1185,700.29 L1184.44,700.68 L1183.67,701.06 L1182.69,701.44 L1181.5,701.82 L1180.11,702.2 L1178.55,702.59 L1176.81,702.97 L1174.91,703.35 L1172.87,703.73 L1170.7,704.11 L1168.42,704.5 L1166.04,704.88 L1163.59,705.26 L1161.07,705.64 L1158.52,706.02 L1155.95,706.4 L1153.38,706.79 L1150.83,707.17 L1148.31,707.55 L1145.86,707.93 L1143.48,708.31 L1141.2,708.7 L1139.03,709.08 L1136.99,709.46 L1135.09,709.84 L1133.35,710.22 L1131.79,710.61 L1130.4,710.99 L1129.21,711.37 L1128.23,711.75 L1127.46,712.13 L1126.9,712.52 L1126.56,712.9 L1126.45,713.28" fill="none" stroke="#222" stroke-width="11.2" stroke-linecap="butt" stroke-linejoin="round"/>
<path d="M1185.45,699.53 L1185.34,699.91 L1185,700.29 L1184.44,700.68 L1183.67,701.06 L1182.69,701.44 L1181.5,701.82 L1180.11,702.2 L1178.55,702.59 L1176.81,702.97 L1174.91,703.35 L1172.87,703.73 L1170.7,704.11 L1168.42,704.5 L1166.04,704.88 L1163.59,705.26 L1161.07,705.64 L1158.52,706.02 L1155.95,706.4 L1153.38,706.79 L1150.83,707.17 L1148.31,707.55 L1145.86,707.93 L1143.48,708.31 L1141.2,708.7 L1139.03,709.08 L1136.99,709.46 L1135.09,709.84 L1133.35,710.22 L1131.79,710.61 L1130.4,710.99 L1129.21,711.37 L1128.23,711.75 L1127.46,712.13 L1126.9,712.52 L1126.56,712.9 L1126.45,713.28" fill="none" stroke="#fff" stroke-width="8.6" stroke-linecap="butt" stroke-linejoin="round"/>
<rect x="1143.45" y="562" width="25" height="155.3" fill="#fff" stroke="#222" stroke-width="1.4"/>
<path d="M1126.66,575.25 L1126.46,575.67 L1126.52,576.08 L1126.84,576.49 L1127.41,576.9 L1128.24,577.31 L1129.31,577.72 L1130.61,578.13 L1132.14,578.54 L1133.88,578.95 L1135.81,579.37 L1137.92,579.78 L1140.19,580.19 L1142.6,580.6 L1145.12,581.01 L1147.75,581.42 L1150.44,581.83 L1153.18,582.24 L1155.95,582.65 L1158.72,583.07 L1161.46,583.48 L1164.15,583.89 L1166.78,584.3 L1169.3,584.71 L1171.71,585.12 L1173.98,585.53 L1176.09,585.94 L1178.02,586.36 L1179.76,586.77 L1181.29,587.18 L1182.59,587.59 L1183.66,588 L1184.49,588.41 L1185.06,588.82 L1185.38,589.23 L1185.44,589.64 L1185.24,590.06" fill="none" stroke="#222" stroke-width="11.2" stroke-linecap="butt" stroke-linejoin="round"/>
<path d="M1126.66,575.25 L1126.46,575.67 L1126.52,576.08 L1126.84,576.49 L1127.41,576.9 L1128.24,577.31 L1129.31,577.72 L1130.61,578.13 L1132.14,578.54 L1133.88,578.95 L1135.81,579.37 L1137.92,579.78 L1140.19,580.19 L1142.6,580.6 L1145.12,581.01 L1147.75,581.42 L1150.44,581.83 L1153.18,582.24 L1155.95,582.65 L1158.72,583.07 L1161.46,583.48 L1164.15,583.89 L1166.78,584.3 L1169.3,584.71 L1171.71,585.12 L1173.98,585.53 L1176.09,585.94 L1178.02,586.36 L1179.76,586.77 L1181.29,587.18 L1182.59,587.59 L1183.66,588 L1184.49,588.41 L1185.06,588.82 L1185.38,589.23 L1185.44,589.64 L1185.24,590.06" fill="none" stroke="#fff" stroke-width="8.6" stroke-linecap="butt" stroke-linejoin="round"/>
<path d="M1126.66,602.75 L1126.46,603.17 L1126.52,603.58 L1126.84,603.99 L1127.41,604.4 L1128.24,604.81 L1129.31,605.22 L1130.61,605.63 L1132.14,606.04 L1133.88,606.45 L1135.81,606.87 L1137.92,607.28 L1140.19,607.69 L1142.6,608.1 L1145.12,608.51 L1147.75,608.92 L1150.44,609.33 L1153.18,609.74 L1155.95,610.15 L1158.72,610.57 L1161.46,610.98 L1164.15,611.39 L1166.78,611.8 L1169.3,612.21 L1171.71,612.62 L1173.98,613.03 L1176.09,613.44 L1178.02,613.86 L1179.76,614.27 L1181.29,614.68 L1182.59,615.09 L1183.66,615.5 L1184.49,615.91 L1185.06,616.32 L1185.38,616.73 L1185.44,617.14 L1185.24,617.56" fill="none" stroke="#222" stroke-width="11.2" stroke-linecap="butt" stroke-linejoin="round"/>
<path d="M1126.66,602.75 L1126.46,603.17 L1126.52,603.58 L1126.84,603.99 L1127.41,604.4 L1128.24,604.81 L1129.31,605.22 L1130.61,605.63 L1132.14,606.04 L1133.88,606.45 L1135.81,606.87 L1137.92,607.28 L1140.19,607.69 L1142.6,608.1 L1145.12,608.51 L1147.75,608.92 L1150.44,609.33 L1153.18,609.74 L1155.95,610.15 L1158.72,610.57 L1161.46,610.98 L1164.15,611.39 L1166.78,611.8 L1169.3,612.21 L1171.71,612.62 L1173.98,613.03 L1176.09,613.44 L1178.02,613.86 L1179.76,614.27 L1181.29,614.68 L1182.59,615.09 L1183.66,615.5 L1184.49,615.91 L1185.06,616.32 L1185.38,616.73 L1185.44,617.14 L1185.24,617.56" fill="none" stroke="#fff" stroke-width="8.6" stroke-linecap="butt" stroke-linejoin="round"/>
<path d="M1126.66,630.25 L1126.46,630.67 L1126.52,631.08 L1126.84,631.49 L1127.41,631.9 L1128.24,632.31 L1129.31,632.72 L1130.61,633.13 L1132.14,633.54 L1133.88,633.95 L1135.81,634.37 L1137.92,634.78 L1140.19,635.19 L1142.6,635.6 L1145.12,636.01 L1147.75,636.42 L1150.44,636.83 L1153.18,637.24 L1155.95,637.65 L1158.72,638.07 L1161.46,638.48 L1164.15,638.89 L1166.78,639.3 L1169.3,639.71 L1171.71,640.12 L1173.98,640.53 L1176.09,640.94 L1178.02,641.36 L1179.76,641.77 L1181.29,642.18 L1182.59,642.59 L1183.66,643 L1184.49,643.41 L1185.06,643.82 L1185.38,644.23 L1185.44,644.64 L1185.24,645.06" fill="none" stroke="#222" stroke-width="11.2" stroke-linecap="butt" stroke-linejoin="round"/>
<path d="M1126.66,630.25 L1126.46,630.67 L1126.52,631.08 L1126.84,631.49 L1127.41,631.9 L1128.24,632.31 L1129.31,632.72 L1130.61,633.13 L1132.14,633.54 L1133.88,633.95 L1135.81,634.37 L1137.92,634.78 L1140.19,635.19 L1142.6,635.6 L1145.12,636.01 L1147.75,636.42 L1150.44,636.83 L1153.18,637.24 L1155.95,637.65 L1158.72,638.07 L1161.46,638.48 L1164.15,638.89 L1166.78,639.3 L1169.3,639.71 L1171.71,640.12 L1173.98,640.53 L1176.09,640.94 L1178.02,641.36 L1179.76,641.77 L1181.29,642.18 L1182.59,642.59 L1183.66,643 L1184.49,643.41 L1185.06,643.82 L1185.38,644.23 L1185.44,644.64 L1185.24,645.06" fill="none" stroke="#fff" stroke-width="8.6" stroke-linecap="butt" stroke-linejoin="round"/>
<path d="M1126.66,657.75 L1126.46,658.17 L1126.52,658.58 L1126.84,658.99 L1127.41,659.4 L1128.24,659.81 L1129.31,660.22 L1130.61,660.63 L1132.14,661.04 L1133.88,661.45 L1135.81,661.87 L1137.92,662.28 L1140.19,662.69 L1142.6,663.1 L1145.12,663.51 L1147.75,663.92 L1150.44,664.33 L1153.18,664.74 L1155.95,665.15 L1158.72,665.57 L1161.46,665.98 L1164.15,666.39 L1166.78,666.8 L1169.3,667.21 L1171.71,667.62 L1173.98,668.03 L1176.09,668.44 L1178.02,668.86 L1179.76,669.27 L1181.29,669.68 L1182.59,670.09 L1183.66,670.5 L1184.49,670.91 L1185.06,671.32 L1185.38,671.73 L1185.44,672.14 L1185.24,672.56" fill="none" stroke="#222" stroke-width="11.2" stroke-linecap="butt" stroke-linejoin="round"/>
<path d="M1126.66,657.75 L1126.46,658.17 L1126.52,658.58 L1126.84,658.99 L1127.41,659.4 L1128.24,659.81 L1129.31,660.22 L1130.61,660.63 L1132.14,661.04 L1133.88,661.45 L1135.81,661.87 L1137.92,662.28 L1140.19,662.69 L1142.6,663.1 L1145.12,663.51 L1147.75,663.92 L1150.44,664.33 L1153.18,664.74 L1155.95,665.15 L1158.72,665.57 L1161.46,665.98 L1164.15,666.39 L1166.78,666.8 L1169.3,667.21 L1171.71,667.62 L1173.98,668.03 L1176.09,668.44 L1178.02,668.86 L1179.76,669.27 L1181.29,669.68 L1182.59,670.09 L1183.66,670.5 L1184.49,670.91 L1185.06,671.32 L1185.38,671.73 L1185.44,672.14 L1185.24,672.56" fill="none" stroke="#fff" stroke-width="8.6" stroke-linecap="butt" stroke-linejoin="round"/>
<path d="M1126.66,685.25 L1126.46,685.67 L1126.52,686.08 L1126.84,686.49 L1127.41,686.9 L1128.24,687.31 L1129.31,687.72 L1130.61,688.13 L1132.14,688.54 L1133.88,688.95 L1135.81,689.37 L1137.92,689.78 L1140.19,690.19 L1142.6,690.6 L1145.12,691.01 L1147.75,691.42 L1150.44,691.83 L1153.18,692.24 L1155.95,692.65 L1158.72,693.07 L1161.46,693.48 L1164.15,693.89 L1166.78,694.3 L1169.3,694.71 L1171.71,695.12 L1173.98,695.53 L1176.09,695.94 L1178.02,696.36 L1179.76,696.77 L1181.29,697.18 L1182.59,697.59 L1183.66,698 L1184.49,698.41 L1185.06,698.82 L1185.38,699.23 L1185.44,699.64 L1185.24,700.06" fill="none" stroke="#222" stroke-width="11.2" stroke-linecap="butt" stroke-linejoin="round"/>
<path d="M1126.66,685.25 L1126.46,685.67 L1126.52,686.08 L1126.84,686.49 L1127.41,686.9 L1128.24,687.31 L1129.31,687.72 L1130.61,688.13 L1132.14,688.54 L1133.88,688.95 L1135.81,689.37 L1137.92,689.78 L1140.19,690.19 L1142.6,690.6 L1145.12,691.01 L1147.75,691.42 L1150.44,691.83 L1153.18,692.24 L1155.95,692.65 L1158.72,693.07 L1161.46,693.48 L1164.15,693.89 L1166.78,694.3 L1169.3,694.71 L1171.71,695.12 L1173.98,695.53 L1176.09,695.94 L1178.02,696.36 L1179.76,696.77 L1181.29,697.18 L1182.59,697.59 L1183.66,698 L1184.49,698.41 L1185.06,698.82 L1185.38,699.23 L1185.44,699.64 L1185.24,700.06" fill="none" stroke="#fff" stroke-width="8.6" stroke-linecap="butt" stroke-linejoin="round"/>
<path d="M1126.66,712.75 L1126.48,713.07 L1126.46,713.39 L1126.59,713.71 L1126.88,714.03 L1127.32,714.35 L1127.92,714.67 L1128.66,714.98 L1129.55,715.3 L1130.57,715.62 L1131.73,715.94 L1133.02,716.26 L1134.43,716.58 L1135.96,716.9 L1137.59,717.21 L1139.31,717.53 L1141.13,717.85 L1143.02,718.17 L1144.99,718.49 L1147.01,718.81 L1149.07,719.13 L1151.18,719.44 L1153.31,719.76 L1155.45,720.08 L1157.6,720.4 L1159.73,720.72 L1161.85,721.04 L1163.94,721.36 L1165.98,721.67 L1167.97,721.99 L1169.9,722.31 L1171.75,722.63 L1173.52,722.95 L1175.2,723.27 L1176.77,723.58 L1178.24,723.9 L1179.58,724.22" fill="none" stroke="#222" stroke-width="11.2" stroke-linecap="round" stroke-linejoin="round"/>
<path d="M1126.66,712.75 L1126.48,713.07 L1126.46,713.39 L1126.59,713.71 L1126.88,714.03 L1127.32,714.35 L1127.92,714.67 L1128.66,714.98 L1129.55,715.3 L1130.57,715.62 L1131.73,715.94 L1133.02,716.26 L1134.43,716.58 L1135.96,716.9 L1137.59,717.21 L1139.31,717.53 L1141.13,717.85 L1143.02,718.17 L1144.99,718.49 L1147.01,718.81 L1149.07,719.13 L1151.18,719.44 L1153.31,719.76 L1155.45,720.08 L1157.6,720.4 L1159.73,720.72 L1161.85,721.04 L1163.94,721.36 L1165.98,721.67 L1167.97,721.99 L1169.9,722.31 L1171.75,722.63 L1173.52,722.95 L1175.2,723.27 L1176.77,723.58 L1178.24,723.9 L1179.58,724.22" fill="none" stroke="#fff" stroke-width="8.6" stroke-linecap="round" stroke-linejoin="round"/>
<g transform="translate(1126.45,575.78)"><g transform="translate(4,1.8) rotate(-24)"><path d="M0,-4.6 L-11,-4.6 A2.3,4.6 0 0 0 -11,4.6 L0,4.6" fill="#fff" stroke="#222" stroke-width="1.3"/><ellipse cx="0" cy="0" rx="2.3" ry="4.6" fill="#fff" stroke="#222" stroke-width="1.3"/><path d="M-3.8,-4.6 A2.3,4.6 0 0 1 -3.8,4.6 M-7.5,-4.6 A2.3,4.6 0 0 1 -7.5,4.6" fill="none" stroke="#222" stroke-width="1.1"/></g><path d="M-19,3.8 L-11.2,16 L-4.5,7.8" fill="none" stroke="#222" stroke-width="1.5" stroke-linejoin="miter"/></g>
<g transform="translate(1126.45,630.78)"><g transform="translate(4,1.8) rotate(-24)"><path d="M0,-4.6 L-11,-4.6 A2.3,4.6 0 0 0 -11,4.6 L0,4.6" fill="#fff" stroke="#222" stroke-width="1.3"/><ellipse cx="0" cy="0" rx="2.3" ry="4.6" fill="#fff" stroke="#222" stroke-width="1.3"/><path d="M-3.8,-4.6 A2.3,4.6 0 0 1 -3.8,4.6 M-7.5,-4.6 A2.3,4.6 0 0 1 -7.5,4.6" fill="none" stroke="#222" stroke-width="1.1"/></g><path d="M-19,3.8 L-11.2,16 L-4.5,7.8" fill="none" stroke="#222" stroke-width="1.5" stroke-linejoin="miter"/></g>
<g transform="translate(1126.45,685.78)"><g transform="translate(4,1.8) rotate(-24)"><path d="M0,-4.6 L-11,-4.6 A2.3,4.6 0 0 0 -11,4.6 L0,4.6" fill="#fff" stroke="#222" stroke-width="1.3"/><ellipse cx="0" cy="0" rx="2.3" ry="4.6" fill="#fff" stroke="#222" stroke-width="1.3"/><path d="M-3.8,-4.6 A2.3,4.6 0 0 1 -3.8,4.6 M-7.5,-4.6 A2.3,4.6 0 0 1 -7.5,4.6" fill="none" stroke="#222" stroke-width="1.1"/></g><path d="M-19,3.8 L-11.2,16 L-4.5,7.8" fill="none" stroke="#222" stroke-width="1.5" stroke-linejoin="miter"/></g>
<path d="M1091.9,527 L1091.9,532 A64,36 0 0 0 1219.9,532 L1219.9,527 A64,36 0 0 0 1091.9,527 Z" fill="#fff" stroke="#222" stroke-width="1.4" stroke-linejoin="round"/>
<path d="M1091.9,527 A64,36 0 0 0 1219.9,527" fill="none" stroke="#222" stroke-width="1.3" stroke-linejoin="round"/>
<polygon points="376.3,101.8 460,150 460,420 376.3,420" fill="#fff" stroke="#222" stroke-width="1.6" stroke-linejoin="round"/>
<polygon points="1241.6,573.4 1325.4,525.1 1325.4,920 1241.6,920" fill="#fff" stroke="#222" stroke-width="1.6" stroke-linejoin="round"/>
<polygon points="352.2,60.4 1241.6,573.4 1241.6,920 1217.7,920 1218,586.3 376.3,101.8 376.3,420 352.3,420" fill="#fff" stroke="#222" stroke-width="1.6" stroke-linejoin="round"/>
<polygon points="436,11 1325.4,525.1 1241.6,573.4 352.2,60.4" fill="#fff" stroke="#222" stroke-width="1.6" stroke-linejoin="round"/>
<polygon points="337.9,345.1 376.5,367.1 376.5,686.7 337.6,664.7" fill="#fff" stroke="#222" stroke-width="1.6" stroke-linejoin="round"/>
<polygon points="376.5,367.1 474.4,310 474.3,629.7 376.5,686.7" fill="#fff" stroke="#222" stroke-width="1.6" stroke-linejoin="round"/>
<line x1="352.3" y1="60.4" x2="352.3" y2="341.5" stroke="#222" stroke-width="1.6"/>
<line x1="376.3" y1="101.8" x2="376.3" y2="362.6" stroke="#222" stroke-width="1.6"/>
<line x1="460" y1="150" x2="460" y2="306.2" stroke="#222" stroke-width="1.6"/>
<polygon points="352.3,336.79 337.9,345.1 376.5,367.1 474.4,310 459.8,301.58 459.8,305.88 466.95,310 376.5,362.5 345.35,345.1 352.3,341.09" fill="#fff" stroke="none" stroke-linejoin="round"/>
<polyline points="352.3,336.79 337.9,345.1 376.5,367.1 474.4,310 459.8,301.58" fill="none" stroke="#222" stroke-width="1.6" stroke-linejoin="round"/>
<polyline points="352.3,341.09 345.35,345.1 376.5,362.5 466.95,310 459.8,305.88" fill="none" stroke="#222" stroke-width="1.3" stroke-linejoin="round"/>
<polygon points="1202.6,844.5 1242,866.2 1242,1185.7 1202.8,1164" fill="#fff" stroke="#222" stroke-width="1.6" stroke-linejoin="round"/>
<polygon points="1242,866.2 1340.2,810.1 1339.8,1129.4 1242,1185.7" fill="#fff" stroke="#222" stroke-width="1.6" stroke-linejoin="round"/>
<line x1="1217.7" y1="586.3" x2="1217.7" y2="840.5" stroke="#222" stroke-width="1.6"/>
<line x1="1241.8" y1="573.4" x2="1241.8" y2="861.6" stroke="#222" stroke-width="1.6"/>
<line x1="1325.4" y1="525.1" x2="1325.4" y2="806.2" stroke="#222" stroke-width="1.6"/>
<polygon points="1217.7,835.79 1202.6,844.5 1242,866.2 1340.2,810.1 1325.4,801.56 1325.4,805.86 1332.75,810.1 1242,861.6 1210.05,844.5 1217.7,840.09" fill="#fff" stroke="none" stroke-linejoin="round"/>
<polyline points="1217.7,835.79 1202.6,844.5 1242,866.2 1340.2,810.1 1325.4,801.56" fill="none" stroke="#222" stroke-width="1.6" stroke-linejoin="round"/>
<polyline points="1217.7,840.09 1210.05,844.5 1242,861.6 1332.75,810.1 1325.4,805.86" fill="none" stroke="#222" stroke-width="1.3" stroke-linejoin="round"/>
<ellipse cx="1292.8" cy="951.5" rx="25" ry="15.5" fill="#353535" stroke="#222" stroke-width="1.5" transform="rotate(-60 1292.8 951.5)"/>
<ellipse cx="1300.8" cy="955.5" rx="27" ry="16.5" fill="#3a3a3a" stroke="#222" stroke-width="0" transform="rotate(-60 1300.8 955.5)"/>
<ellipse cx="1306.8" cy="959" rx="30" ry="17.5" fill="#fff" stroke="#222" stroke-width="1.4" transform="rotate(-60 1306.8 959)"/>
<ellipse cx="1311.8" cy="962" rx="30" ry="17.2" fill="#fff" stroke="#222" stroke-width="1.5" transform="rotate(-60 1311.8 962)"/>
<polygon points="591.15,93.05 591.49,94.24 591.74,95.45 591.9,96.65 591.9,116.65 591.74,115.45 591.49,114.24 591.15,113.05" fill="#fff" stroke="#222" stroke-width="0.9" stroke-linejoin="round"/>
<polygon points="479.17,96.03 484.78,95.49 484.78,115.49 479.17,116.03" fill="#6e6e6e" stroke="#222" stroke-width="0.9" stroke-linejoin="round"/>
<polygon points="591.9,96.65 586.48,97.61 586.48,117.61 591.9,116.65" fill="#6e6e6e" stroke="#222" stroke-width="0.9" stroke-linejoin="round"/>
<polygon points="479.04,99.66 479,98.45 479.04,97.24 479.17,96.03 479.17,116.03 479.04,117.24 479,118.45 479.04,119.66" fill="#fff" stroke="#222" stroke-width="0.9" stroke-linejoin="round"/>
<polygon points="586.48,97.61 586.5,98.6 586.46,99.59 586.37,100.57 586.37,120.57 586.46,119.59 586.5,118.6 586.48,117.61" fill="#c8c8c8" stroke="#222" stroke-width="0.9" stroke-linejoin="round"/>
<polygon points="484.6,100.32 479.04,99.66 479.04,119.66 484.6,120.32" fill="#909090" stroke="#222" stroke-width="0.9" stroke-linejoin="round"/>
<polygon points="586.37,100.57 591.72,101.66 591.72,121.66 586.37,120.57" fill="#909090" stroke="#222" stroke-width="0.9" stroke-linejoin="round"/>
<polygon points="485.22,103.27 484.95,102.29 484.75,101.31 484.6,100.32 484.6,120.32 484.75,121.31 484.95,122.29 485.22,123.27" fill="#c8c8c8" stroke="#222" stroke-width="0.9" stroke-linejoin="round"/>
<polygon points="591.72,101.66 591.46,102.86 591.12,104.06 590.7,105.24 590.7,125.24 591.12,124.06 591.46,122.86 591.72,121.66" fill="#fff" stroke="#222" stroke-width="0.9" stroke-linejoin="round"/>
<polygon points="480.07,104.63 485.22,103.27 485.22,123.27 480.07,124.63" fill="#6e6e6e" stroke="#222" stroke-width="0.9" stroke-linejoin="round"/>
<polygon points="590.7,105.24 585.01,105.35 585.01,125.35 590.7,125.24" fill="#6e6e6e" stroke="#222" stroke-width="0.9" stroke-linejoin="round"/>
<polygon points="481.69,108.15 481.07,106.99 480.53,105.81 480.07,104.63 480.07,124.63 480.53,125.81 481.07,126.99 481.69,128.15" fill="#fff" stroke="#222" stroke-width="0.9" stroke-linejoin="round"/>
<polygon points="585.01,105.35 584.56,106.3 584.05,107.25 583.48,108.18 583.48,128.18 584.05,127.25 584.56,126.3 585.01,125.35" fill="#c8c8c8" stroke="#222" stroke-width="0.9" stroke-linejoin="round"/>
<polygon points="487.37,107.95 481.69,108.15 481.69,128.15 487.37,127.95" fill="#909090" stroke="#222" stroke-width="0.9" stroke-linejoin="round"/>
<polygon points="583.48,108.18 588.11,110.04 588.11,130.04 583.48,128.18" fill="#909090" stroke="#222" stroke-width="0.9" stroke-linejoin="round"/>
<polygon points="489.38,110.69 488.65,109.79 487.98,108.87 487.37,107.95 487.37,127.95 487.98,128.87 488.65,129.79 489.38,130.69" fill="#c8c8c8" stroke="#222" stroke-width="0.9" stroke-linejoin="round"/>
<polygon points="588.11,110.04 587.29,111.15 586.38,112.25 585.41,113.33 585.41,133.33 586.38,132.25 587.29,131.15 588.11,130.04" fill="#fff" stroke="#222" stroke-width="0.9" stroke-linejoin="round"/>
<polygon points="485.08,112.78 489.38,110.69 489.38,130.69 485.08,132.78" fill="#6e6e6e" stroke="#222" stroke-width="0.9" stroke-linejoin="round"/>
<polygon points="585.41,113.33 579.88,112.57 579.88,132.57 585.41,133.33" fill="#6e6e6e" stroke="#222" stroke-width="0.9" stroke-linejoin="round"/>
<polygon points="488.33,115.92 487.18,114.89 486.09,113.85 485.08,112.78 485.08,132.78 486.09,133.85 487.18,134.89 488.33,135.92" fill="#fff" stroke="#222" stroke-width="0.9" stroke-linejoin="round"/>
<polygon points="579.88,112.57 578.98,113.42 578.04,114.26 577.04,115.07 577.04,135.07 578.04,134.26 578.98,133.42 579.88,132.57" fill="#c8c8c8" stroke="#222" stroke-width="0.9" stroke-linejoin="round"/>
<polygon points="493.71,114.87 488.33,115.92 488.33,135.92 493.71,134.87" fill="#909090" stroke="#222" stroke-width="0.9" stroke-linejoin="round"/>
<polygon points="577.04,115.07 580.6,117.56 580.6,137.56 577.04,135.07" fill="#909090" stroke="#222" stroke-width="0.9" stroke-linejoin="round"/>
<polygon points="496.96,117.2 495.83,116.45 494.74,115.67 493.71,114.87 493.71,134.87 494.74,135.67 495.83,136.45 496.96,137.2" fill="#c8c8c8" stroke="#222" stroke-width="0.9" stroke-linejoin="round"/>
<polygon points="580.6,117.56 579.27,118.51 577.87,119.43 576.41,120.32 576.41,140.32 577.87,139.43 579.27,138.51 580.6,137.56" fill="#fff" stroke="#222" stroke-width="0.9" stroke-linejoin="round"/>
<polygon points="493.83,119.87 496.96,117.2 496.96,137.2 493.83,139.87" fill="#6e6e6e" stroke="#222" stroke-width="0.9" stroke-linejoin="round"/>
<polygon points="576.41,120.32 571.45,118.76 571.45,138.76 576.41,140.32" fill="#6e6e6e" stroke="#222" stroke-width="0.9" stroke-linejoin="round"/>
<polygon points="498.47,122.4 496.87,121.59 495.32,120.74 493.83,119.87 493.83,139.87 495.32,140.74 496.87,141.59 498.47,142.4" fill="#fff" stroke="#222" stroke-width="0.9" stroke-linejoin="round"/>
<polygon points="571.45,118.76 570.18,119.44 568.87,120.1 567.51,120.73 567.51,140.73 568.87,140.1 570.18,139.44 571.45,138.76" fill="#c8c8c8" stroke="#222" stroke-width="0.9" stroke-linejoin="round"/>
<polygon points="503.14,120.58 498.47,122.4 498.47,142.4 503.14,140.58" fill="#909090" stroke="#222" stroke-width="0.9" stroke-linejoin="round"/>
<polygon points="567.51,120.73 569.75,123.66 569.75,143.66 567.51,140.73" fill="#909090" stroke="#222" stroke-width="0.9" stroke-linejoin="round"/>
<polygon points="507.4,122.33 505.94,121.78 504.52,121.19 503.14,120.58 503.14,140.58 504.52,141.19 505.94,141.78 507.4,142.33" fill="#c8c8c8" stroke="#222" stroke-width="0.9" stroke-linejoin="round"/>
<polygon points="569.75,123.66 568.01,124.38 566.22,125.06 564.38,125.69 564.38,145.69 566.22,145.06 568.01,144.38 569.75,143.66" fill="#fff" stroke="#222" stroke-width="0.9" stroke-linejoin="round"/>
<polygon points="505.67,125.37 507.4,122.33 507.4,142.33 505.67,145.37" fill="#6e6e6e" stroke="#222" stroke-width="0.9" stroke-linejoin="round"/>
<polygon points="564.38,125.69 560.36,123.44 560.36,143.44 564.38,145.69" fill="#6e6e6e" stroke="#222" stroke-width="0.9" stroke-linejoin="round"/>
<polygon points="511.36,127.11 509.42,126.57 507.53,125.99 505.67,125.37 505.67,145.37 507.53,145.99 509.42,146.57 511.36,147.11" fill="#fff" stroke="#222" stroke-width="0.9" stroke-linejoin="round"/>
<polygon points="560.36,123.44 558.81,123.9 557.22,124.34 555.61,124.75 555.61,144.75 557.22,144.34 558.81,143.9 560.36,143.44" fill="#c8c8c8" stroke="#222" stroke-width="0.9" stroke-linejoin="round"/>
<polygon points="514.98,124.65 511.36,127.11 511.36,147.11 514.98,144.65" fill="#909090" stroke="#222" stroke-width="0.9" stroke-linejoin="round"/>
<polygon points="555.61,124.75 556.36,127.91 556.36,147.91 555.61,144.75" fill="#909090" stroke="#222" stroke-width="0.9" stroke-linejoin="round"/>
<polygon points="519.93,125.7 518.25,125.38 516.6,125.03 514.98,124.65 514.98,144.65 516.6,145.03 518.25,145.38 519.93,145.7" fill="#c8c8c8" stroke="#222" stroke-width="0.9" stroke-linejoin="round"/>
<polygon points="556.36,127.91 554.33,128.33 552.28,128.71 550.21,129.05 550.21,149.05 552.28,148.71 554.33,148.33 556.36,147.91" fill="#fff" stroke="#222" stroke-width="0.9" stroke-linejoin="round"/>
<polygon points="519.72,128.88 519.93,125.7 519.93,145.7 519.72,148.88" fill="#6e6e6e" stroke="#222" stroke-width="0.9" stroke-linejoin="round"/>
<polygon points="550.21,129.05 547.43,126.27 547.43,146.27 550.21,149.05" fill="#6e6e6e" stroke="#222" stroke-width="0.9" stroke-linejoin="round"/>
<polygon points="526.04,129.69 523.91,129.47 521.81,129.2 519.72,128.88 519.72,148.88 521.81,149.2 523.91,149.47 526.04,149.69" fill="#fff" stroke="#222" stroke-width="0.9" stroke-linejoin="round"/>
<polygon points="547.43,126.27 545.7,126.48 543.97,126.66 542.22,126.81 542.22,146.81 543.97,146.66 545.7,146.48 547.43,146.27" fill="#c8c8c8" stroke="#222" stroke-width="0.9" stroke-linejoin="round"/>
<polygon points="528.33,126.78 526.04,129.69 526.04,149.69 528.33,146.78" fill="#909090" stroke="#222" stroke-width="0.9" stroke-linejoin="round"/>
<polygon points="542.22,126.81 541.42,129.97 541.42,149.97 542.22,146.81" fill="#909090" stroke="#222" stroke-width="0.9" stroke-linejoin="round"/>
<polygon points="533.6,127.04 531.84,126.99 530.09,126.9 528.33,126.78 528.33,146.78 530.09,146.9 531.84,146.99 533.6,147.04" fill="#c8c8c8" stroke="#222" stroke-width="0.9" stroke-linejoin="round"/>
<polygon points="541.42,129.97 539.26,130.07 537.1,130.13 534.94,130.14 534.94,150.14 537.1,150.13 539.26,150.07 541.42,149.97" fill="#fff" stroke="#222" stroke-width="0.9" stroke-linejoin="round"/>
<polygon points="534.94,130.14 533.6,127.04 533.6,147.04 534.94,150.14" fill="#6e6e6e" stroke="#222" stroke-width="0.9" stroke-linejoin="round"/>
<polygon points="591.72,101.66 591.46,102.86 591.12,104.06 590.7,105.24 585.01,105.35 584.56,106.3 584.05,107.25 583.48,108.18 588.11,110.04 587.29,111.15 586.38,112.25 585.41,113.33 579.88,112.57 578.98,113.42 578.04,114.26 577.04,115.07 580.6,117.56 579.27,118.51 577.87,119.43 576.41,120.32 571.45,118.76 570.18,119.44 568.87,120.1 567.51,120.73 569.75,123.66 568.01,124.38 566.22,125.06 564.38,125.69 560.36,123.44 558.81,123.9 557.22,124.34 555.61,124.75 556.36,127.91 554.33,128.33 552.28,128.71 550.21,129.05 547.43,126.27 545.7,126.48 543.97,126.66 542.22,126.81 541.42,129.97 539.26,130.07 537.1,130.13 534.94,130.14 533.6,127.04 531.84,126.99 530.09,126.9 528.33,126.78 526.04,129.69 523.91,129.47 521.81,129.2 519.72,128.88 519.93,125.7 518.25,125.38 516.6,125.03 514.98,124.65 511.36,127.11 509.42,126.57 507.53,125.99 505.67,125.37 507.4,122.33 505.94,121.78 504.52,121.19 503.14,120.58 498.47,122.4 496.87,121.59 495.32,120.74 493.83,119.87 496.96,117.2 495.83,116.45 494.74,115.67 493.71,114.87 488.33,115.92 487.18,114.89 486.09,113.85 485.08,112.78 489.38,110.69 488.65,109.79 487.98,108.87 487.37,107.95 481.69,108.15 481.07,106.99 480.53,105.81 480.07,104.63 485.22,103.27 484.95,102.29 484.75,101.31 484.6,100.32 479.04,99.66 479,98.45 479.04,97.24 479.17,96.03 484.78,95.49 485,94.51 485.28,93.54 485.61,92.57 480.57,91.08 481.12,89.91 481.75,88.76 482.45,87.61 488.11,87.94 488.79,87.03 489.53,86.13 490.32,85.25 486.18,83.06 487.27,82.02 488.43,81 489.66,80 494.96,81.17 496.05,80.4 497.19,79.65 498.38,78.91 495.45,76.18 497,75.34 498.61,74.53 500.28,73.76 504.81,75.69 506.23,75.11 507.7,74.56 509.19,74.03 507.69,70.96 509.59,70.38 511.53,69.85 513.5,69.36 516.93,71.9 518.59,71.56 520.26,71.24 521.96,70.97 521.99,67.78 524.1,67.51 526.22,67.29 528.36,67.11 530.44,70.08 532.2,70 533.96,69.95 535.72,69.94 537.29,66.88 539.45,66.94 541.6,67.05 543.74,67.2 544.32,70.37 546.05,70.56 547.77,70.78 549.47,71.03 552.46,68.32 554.51,68.7 556.53,69.13 558.52,69.61 557.54,72.75 559.12,73.19 560.67,73.66 562.19,74.16 566.37,72 568.16,72.68 569.9,73.4 571.59,74.15 569.13,77.03 570.44,77.7 571.7,78.38 572.92,79.1 577.99,77.65 579.39,78.57 580.72,79.53 581.98,80.51 578.23,82.91 579.17,83.75 580.05,84.6 580.88,85.47 586.46,84.84 587.36,85.94 588.18,87.06 588.92,88.2 584.16,89.94 584.66,90.89 585.1,91.85 585.48,92.81 591.15,93.05 591.49,94.24 591.74,95.45 591.9,96.65 586.48,97.61 586.5,98.6 586.46,99.59 586.37,100.57" fill="#fff" stroke="#222" stroke-width="1.2" stroke-linejoin="round"/>
<ellipse cx="535.5" cy="98.5" rx="37.2" ry="21.7" fill="#fff" stroke="#222" stroke-width="1.0"/>
<ellipse cx="535.5" cy="98.5" rx="30" ry="17.6" fill="#fff" stroke="#222" stroke-width="2.2"/>
<polygon points="672.85,132.95 673.19,134.14 673.44,135.35 673.6,136.55 673.6,159.55 673.44,158.35 673.19,157.14 672.85,155.95" fill="#fff" stroke="#222" stroke-width="0.9" stroke-linejoin="round"/>
<polygon points="560.87,135.93 566.48,135.39 566.48,158.39 560.87,158.93" fill="#6e6e6e" stroke="#222" stroke-width="0.9" stroke-linejoin="round"/>
<polygon points="673.6,136.55 668.18,137.51 668.18,160.51 673.6,159.55" fill="#6e6e6e" stroke="#222" stroke-width="0.9" stroke-linejoin="round"/>
<polygon points="560.74,139.56 560.7,138.35 560.74,137.14 560.87,135.93 560.87,158.93 560.74,160.14 560.7,161.35 560.74,162.56" fill="#fff" stroke="#222" stroke-width="0.9" stroke-linejoin="round"/>
<polygon points="668.18,137.51 668.2,138.5 668.16,139.49 668.07,140.47 668.07,163.47 668.16,162.49 668.2,161.5 668.18,160.51" fill="#c8c8c8" stroke="#222" stroke-width="0.9" stroke-linejoin="round"/>
<polygon points="566.3,140.22 560.74,139.56 560.74,162.56 566.3,163.22" fill="#909090" stroke="#222" stroke-width="0.9" stroke-linejoin="round"/>
<polygon points="668.07,140.47 673.42,141.56 673.42,164.56 668.07,163.47" fill="#909090" stroke="#222" stroke-width="0.9" stroke-linejoin="round"/>
<polygon points="566.92,143.17 566.65,142.19 566.45,141.21 566.3,140.22 566.3,163.22 566.45,164.21 566.65,165.19 566.92,166.17" fill="#c8c8c8" stroke="#222" stroke-width="0.9" stroke-linejoin="round"/>
<polygon points="673.42,141.56 673.16,142.76 672.82,143.96 672.4,145.14 672.4,168.14 672.82,166.96 673.16,165.76 673.42,164.56" fill="#fff" stroke="#222" stroke-width="0.9" stroke-linejoin="round"/>
<polygon points="561.77,144.53 566.92,143.17 566.92,166.17 561.77,167.53" fill="#6e6e6e" stroke="#222" stroke-width="0.9" stroke-linejoin="round"/>
<polygon points="672.4,145.14 666.71,145.25 666.71,168.25 672.4,168.14" fill="#6e6e6e" stroke="#222" stroke-width="0.9" stroke-linejoin="round"/>
<polygon points="563.39,148.05 562.77,146.89 562.23,145.71 561.77,144.53 561.77,167.53 562.23,168.71 562.77,169.89 563.39,171.05" fill="#fff" stroke="#222" stroke-width="0.9" stroke-linejoin="round"/>
<polygon points="666.71,145.25 666.26,146.2 665.75,147.15 665.18,148.08 665.18,171.08 665.75,170.15 666.26,169.2 666.71,168.25" fill="#c8c8c8" stroke="#222" stroke-width="0.9" stroke-linejoin="round"/>
<polygon points="569.07,147.85 563.39,148.05 563.39,171.05 569.07,170.85" fill="#909090" stroke="#222" stroke-width="0.9" stroke-linejoin="round"/>
<polygon points="665.18,148.08 669.81,149.94 669.81,172.94 665.18,171.08" fill="#909090" stroke="#222" stroke-width="0.9" stroke-linejoin="round"/>
<polygon points="571.08,150.59 570.35,149.69 569.68,148.77 569.07,147.85 569.07,170.85 569.68,171.77 570.35,172.69 571.08,173.59" fill="#c8c8c8" stroke="#222" stroke-width="0.9" stroke-linejoin="round"/>
<polygon points="669.81,149.94 668.99,151.05 668.08,152.15 667.11,153.23 667.11,176.23 668.08,175.15 668.99,174.05 669.81,172.94" fill="#fff" stroke="#222" stroke-width="0.9" stroke-linejoin="round"/>
<polygon points="566.78,152.68 571.08,150.59 571.08,173.59 566.78,175.68" fill="#6e6e6e" stroke="#222" stroke-width="0.9" stroke-linejoin="round"/>
<polygon points="667.11,153.23 661.58,152.47 661.58,175.47 667.11,176.23" fill="#6e6e6e" stroke="#222" stroke-width="0.9" stroke-linejoin="round"/>
<polygon points="570.03,155.82 568.88,154.79 567.79,153.75 566.78,152.68 566.78,175.68 567.79,176.75 568.88,177.79 570.03,178.82" fill="#fff" stroke="#222" stroke-width="0.9" stroke-linejoin="round"/>
<polygon points="661.58,152.47 660.68,153.32 659.74,154.16 658.74,154.97 658.74,177.97 659.74,177.16 660.68,176.32 661.58,175.47" fill="#c8c8c8" stroke="#222" stroke-width="0.9" stroke-linejoin="round"/>
<polygon points="575.41,154.77 570.03,155.82 570.03,178.82 575.41,177.77" fill="#909090" stroke="#222" stroke-width="0.9" stroke-linejoin="round"/>
<polygon points="658.74,154.97 662.3,157.46 662.3,180.46 658.74,177.97" fill="#909090" stroke="#222" stroke-width="0.9" stroke-linejoin="round"/>
<polygon points="578.66,157.1 577.53,156.35 576.44,155.57 575.41,154.77 575.41,177.77 576.44,178.57 577.53,179.35 578.66,180.1" fill="#c8c8c8" stroke="#222" stroke-width="0.9" stroke-linejoin="round"/>
<polygon points="662.3,157.46 660.97,158.41 659.57,159.33 658.11,160.22 658.11,183.22 659.57,182.33 660.97,181.41 662.3,180.46" fill="#fff" stroke="#222" stroke-width="0.9" stroke-linejoin="round"/>
<polygon points="575.53,159.77 578.66,157.1 578.66,180.1 575.53,182.77" fill="#6e6e6e" stroke="#222" stroke-width="0.9" stroke-linejoin="round"/>
<polygon points="658.11,160.22 653.15,158.66 653.15,181.66 658.11,183.22" fill="#6e6e6e" stroke="#222" stroke-width="0.9" stroke-linejoin="round"/>
<polygon points="580.17,162.3 578.57,161.49 577.02,160.64 575.53,159.77 575.53,182.77 577.02,183.64 578.57,184.49 580.17,185.3" fill="#fff" stroke="#222" stroke-width="0.9" stroke-linejoin="round"/>
<polygon points="653.15,158.66 651.88,159.34 650.57,160 649.21,160.63 649.21,183.63 650.57,183 651.88,182.34 653.15,181.66" fill="#c8c8c8" stroke="#222" stroke-width="0.9" stroke-linejoin="round"/>
<polygon points="584.84,160.48 580.17,162.3 580.17,185.3 584.84,183.48" fill="#909090" stroke="#222" stroke-width="0.9" stroke-linejoin="round"/>
<polygon points="649.21,160.63 651.45,163.56 651.45,186.56 649.21,183.63" fill="#909090" stroke="#222" stroke-width="0.9" stroke-linejoin="round"/>
<polygon points="589.1,162.23 587.64,161.68 586.22,161.09 584.84,160.48 584.84,183.48 586.22,184.09 587.64,184.68 589.1,185.23" fill="#c8c8c8" stroke="#222" stroke-width="0.9" stroke-linejoin="round"/>
<polygon points="651.45,163.56 649.71,164.28 647.92,164.96 646.08,165.59 646.08,188.59 647.92,187.96 649.71,187.28 651.45,186.56" fill="#fff" stroke="#222" stroke-width="0.9" stroke-linejoin="round"/>
<polygon points="587.37,165.27 589.1,162.23 589.1,185.23 587.37,188.27" fill="#6e6e6e" stroke="#222" stroke-width="0.9" stroke-linejoin="round"/>
<polygon points="646.08,165.59 642.06,163.34 642.06,186.34 646.08,188.59" fill="#6e6e6e" stroke="#222" stroke-width="0.9" stroke-linejoin="round"/>
<polygon points="593.06,167.01 591.12,166.47 589.23,165.89 587.37,165.27 587.37,188.27 589.23,188.89 591.12,189.47 593.06,190.01" fill="#fff" stroke="#222" stroke-width="0.9" stroke-linejoin="round"/>
<polygon points="642.06,163.34 640.51,163.8 638.92,164.24 637.31,164.65 637.31,187.65 638.92,187.24 640.51,186.8 642.06,186.34" fill="#c8c8c8" stroke="#222" stroke-width="0.9" stroke-linejoin="round"/>
<polygon points="596.68,164.55 593.06,167.01 593.06,190.01 596.68,187.55" fill="#909090" stroke="#222" stroke-width="0.9" stroke-linejoin="round"/>
<polygon points="637.31,164.65 638.06,167.81 638.06,190.81 637.31,187.65" fill="#909090" stroke="#222" stroke-width="0.9" stroke-linejoin="round"/>
<polygon points="601.63,165.6 599.95,165.28 598.3,164.93 596.68,164.55 596.68,187.55 598.3,187.93 599.95,188.28 601.63,188.6" fill="#c8c8c8" stroke="#222" stroke-width="0.9" stroke-linejoin="round"/>
<polygon points="638.06,167.81 636.03,168.23 633.98,168.61 631.91,168.95 631.91,191.95 633.98,191.61 636.03,191.23 638.06,190.81" fill="#fff" stroke="#222" stroke-width="0.9" stroke-linejoin="round"/>
<polygon points="601.42,168.78 601.63,165.6 601.63,188.6 601.42,191.78" fill="#6e6e6e" stroke="#222" stroke-width="0.9" stroke-linejoin="round"/>
<polygon points="631.91,168.95 629.13,166.17 629.13,189.17 631.91,191.95" fill="#6e6e6e" stroke="#222" stroke-width="0.9" stroke-linejoin="round"/>
<polygon points="607.74,169.59 605.61,169.37 603.51,169.1 601.42,168.78 601.42,191.78 603.51,192.1 605.61,192.37 607.74,192.59" fill="#fff" stroke="#222" stroke-width="0.9" stroke-linejoin="round"/>
<polygon points="629.13,166.17 627.4,166.38 625.67,166.56 623.92,166.71 623.92,189.71 625.67,189.56 627.4,189.38 629.13,189.17" fill="#c8c8c8" stroke="#222" stroke-width="0.9" stroke-linejoin="round"/>
<polygon points="610.03,166.68 607.74,169.59 607.74,192.59 610.03,189.68" fill="#909090" stroke="#222" stroke-width="0.9" stroke-linejoin="round"/>
<polygon points="623.92,166.71 623.12,169.87 623.12,192.87 623.92,189.71" fill="#909090" stroke="#222" stroke-width="0.9" stroke-linejoin="round"/>
<polygon points="615.3,166.94 613.54,166.89 611.79,166.8 610.03,166.68 610.03,189.68 611.79,189.8 613.54,189.89 615.3,189.94" fill="#c8c8c8" stroke="#222" stroke-width="0.9" stroke-linejoin="round"/>
<polygon points="623.12,169.87 620.96,169.97 618.8,170.03 616.64,170.04 616.64,193.04 618.8,193.03 620.96,192.97 623.12,192.87" fill="#fff" stroke="#222" stroke-width="0.9" stroke-linejoin="round"/>
<polygon points="616.64,170.04 615.3,166.94 615.3,189.94 616.64,193.04" fill="#6e6e6e" stroke="#222" stroke-width="0.9" stroke-linejoin="round"/>
<polygon points="673.42,141.56 673.16,142.76 672.82,143.96 672.4,145.14 666.71,145.25 666.26,146.2 665.75,147.15 665.18,148.08 669.81,149.94 668.99,151.05 668.08,152.15 667.11,153.23 661.58,152.47 660.68,153.32 659.74,154.16 658.74,154.97 662.3,157.46 660.97,158.41 659.57,159.33 658.11,160.22 653.15,158.66 651.88,159.34 650.57,160 649.21,160.63 651.45,163.56 649.71,164.28 647.92,164.96 646.08,165.59 642.06,163.34 640.51,163.8 638.92,164.24 637.31,164.65 638.06,167.81 636.03,168.23 633.98,168.61 631.91,168.95 629.13,166.17 627.4,166.38 625.67,166.56 623.92,166.71 623.12,169.87 620.96,169.97 618.8,170.03 616.64,170.04 615.3,166.94 613.54,166.89 611.79,166.8 610.03,166.68 607.74,169.59 605.61,169.37 603.51,169.1 601.42,168.78 601.63,165.6 599.95,165.28 598.3,164.93 596.68,164.55 593.06,167.01 591.12,166.47 589.23,165.89 587.37,165.27 589.1,162.23 587.64,161.68 586.22,161.09 584.84,160.48 580.17,162.3 578.57,161.49 577.02,160.64 575.53,159.77 578.66,157.1 577.53,156.35 576.44,155.57 575.41,154.77 570.03,155.82 568.88,154.79 567.79,153.75 566.78,152.68 571.08,150.59 570.35,149.69 569.68,148.77 569.07,147.85 563.39,148.05 562.77,146.89 562.23,145.71 561.77,144.53 566.92,143.17 566.65,142.19 566.45,141.21 566.3,140.22 560.74,139.56 560.7,138.35 560.74,137.14 560.87,135.93 566.48,135.39 566.7,134.41 566.98,133.44 567.31,132.47 562.27,130.98 562.82,129.81 563.45,128.66 564.15,127.51 569.81,127.84 570.49,126.93 571.23,126.03 572.02,125.15 567.88,122.96 568.97,121.92 570.13,120.9 571.36,119.9 576.66,121.07 577.75,120.3 578.89,119.55 580.08,118.81 577.15,116.08 578.7,115.24 580.31,114.43 581.98,113.66 586.51,115.59 587.93,115.01 589.4,114.46 590.89,113.93 589.39,110.86 591.29,110.28 593.23,109.75 595.2,109.26 598.63,111.8 600.29,111.46 601.96,111.14 603.66,110.87 603.69,107.68 605.8,107.41 607.92,107.19 610.06,107.01 612.14,109.98 613.9,109.9 615.66,109.85 617.42,109.84 618.99,106.78 621.15,106.84 623.3,106.95 625.44,107.1 626.02,110.27 627.75,110.46 629.47,110.68 631.17,110.93 634.16,108.22 636.21,108.6 638.23,109.03 640.22,109.51 639.24,112.65 640.82,113.09 642.37,113.56 643.89,114.06 648.07,111.9 649.86,112.58 651.6,113.3 653.29,114.05 650.83,116.93 652.14,117.6 653.4,118.28 654.62,119 659.69,117.55 661.09,118.47 662.42,119.43 663.68,120.41 659.93,122.81 660.87,123.65 661.75,124.5 662.58,125.37 668.16,124.74 669.06,125.84 669.88,126.96 670.62,128.1 665.86,129.84 666.36,130.79 666.8,131.75 667.18,132.71 672.85,132.95 673.19,134.14 673.44,135.35 673.6,136.55 668.18,137.51 668.2,138.5 668.16,139.49 668.07,140.47" fill="#fff" stroke="#222" stroke-width="1.2" stroke-linejoin="round"/>
<ellipse cx="617.2" cy="139.9" rx="19" ry="10.5" fill="#8c8c8c" stroke="#222" stroke-width="1.3"/>
<ellipse cx="617.2" cy="137.1" rx="16.8" ry="9.6" fill="#e0e0e0" stroke="#222" stroke-width="0.6"/>
<ellipse cx="617.2" cy="134.9" rx="15.5" ry="9.2" fill="#fff" stroke="#222" stroke-width="1.4"/>
<polygon points="753.85,173.95 754.19,175.14 754.44,176.35 754.6,177.55 754.6,200.55 754.44,199.35 754.19,198.14 753.85,196.95" fill="#fff" stroke="#222" stroke-width="0.9" stroke-linejoin="round"/>
<polygon points="641.87,176.93 647.48,176.39 647.48,199.39 641.87,199.93" fill="#6e6e6e" stroke="#222" stroke-width="0.9" stroke-linejoin="round"/>
<polygon points="754.6,177.55 749.18,178.51 749.18,201.51 754.6,200.55" fill="#6e6e6e" stroke="#222" stroke-width="0.9" stroke-linejoin="round"/>
<polygon points="641.74,180.56 641.7,179.35 641.74,178.14 641.87,176.93 641.87,199.93 641.74,201.14 641.7,202.35 641.74,203.56" fill="#fff" stroke="#222" stroke-width="0.9" stroke-linejoin="round"/>
<polygon points="749.18,178.51 749.2,179.5 749.16,180.49 749.07,181.47 749.07,204.47 749.16,203.49 749.2,202.5 749.18,201.51" fill="#c8c8c8" stroke="#222" stroke-width="0.9" stroke-linejoin="round"/>
<polygon points="647.3,181.22 641.74,180.56 641.74,203.56 647.3,204.22" fill="#909090" stroke="#222" stroke-width="0.9" stroke-linejoin="round"/>
<polygon points="749.07,181.47 754.42,182.56 754.42,205.56 749.07,204.47" fill="#909090" stroke="#222" stroke-width="0.9" stroke-linejoin="round"/>
<polygon points="647.92,184.17 647.65,183.19 647.45,182.21 647.3,181.22 647.3,204.22 647.45,205.21 647.65,206.19 647.92,207.17" fill="#c8c8c8" stroke="#222" stroke-width="0.9" stroke-linejoin="round"/>
<polygon points="754.42,182.56 754.16,183.76 753.82,184.96 753.4,186.14 753.4,209.14 753.82,207.96 754.16,206.76 754.42,205.56" fill="#fff" stroke="#222" stroke-width="0.9" stroke-linejoin="round"/>
<polygon points="642.77,185.53 647.92,184.17 647.92,207.17 642.77,208.53" fill="#6e6e6e" stroke="#222" stroke-width="0.9" stroke-linejoin="round"/>
<polygon points="753.4,186.14 747.71,186.25 747.71,209.25 753.4,209.14" fill="#6e6e6e" stroke="#222" stroke-width="0.9" stroke-linejoin="round"/>
<polygon points="644.39,189.05 643.77,187.89 643.23,186.71 642.77,185.53 642.77,208.53 643.23,209.71 643.77,210.89 644.39,212.05" fill="#fff" stroke="#222" stroke-width="0.9" stroke-linejoin="round"/>
<polygon points="747.71,186.25 747.26,187.2 746.75,188.15 746.18,189.08 746.18,212.08 746.75,211.15 747.26,210.2 747.71,209.25" fill="#c8c8c8" stroke="#222" stroke-width="0.9" stroke-linejoin="round"/>
<polygon points="650.07,188.85 644.39,189.05 644.39,212.05 650.07,211.85" fill="#909090" stroke="#222" stroke-width="0.9" stroke-linejoin="round"/>
<polygon points="746.18,189.08 750.81,190.94 750.81,213.94 746.18,212.08" fill="#909090" stroke="#222" stroke-width="0.9" stroke-linejoin="round"/>
<polygon points="652.08,191.59 651.35,190.69 650.68,189.77 650.07,188.85 650.07,211.85 650.68,212.77 651.35,213.69 652.08,214.59" fill="#c8c8c8" stroke="#222" stroke-width="0.9" stroke-linejoin="round"/>
<polygon points="750.81,190.94 749.99,192.05 749.08,193.15 748.11,194.23 748.11,217.23 749.08,216.15 749.99,215.05 750.81,213.94" fill="#fff" stroke="#222" stroke-width="0.9" stroke-linejoin="round"/>
<polygon points="647.78,193.68 652.08,191.59 652.08,214.59 647.78,216.68" fill="#6e6e6e" stroke="#222" stroke-width="0.9" stroke-linejoin="round"/>
<polygon points="748.11,194.23 742.58,193.47 742.58,216.47 748.11,217.23" fill="#6e6e6e" stroke="#222" stroke-width="0.9" stroke-linejoin="round"/>
<polygon points="651.03,196.82 649.88,195.79 648.79,194.75 647.78,193.68 647.78,216.68 648.79,217.75 649.88,218.79 651.03,219.82" fill="#fff" stroke="#222" stroke-width="0.9" stroke-linejoin="round"/>
<polygon points="742.58,193.47 741.68,194.32 740.74,195.16 739.74,195.97 739.74,218.97 740.74,218.16 741.68,217.32 742.58,216.47" fill="#c8c8c8" stroke="#222" stroke-width="0.9" stroke-linejoin="round"/>
<polygon points="656.41,195.77 651.03,196.82 651.03,219.82 656.41,218.77" fill="#909090" stroke="#222" stroke-width="0.9" stroke-linejoin="round"/>
<polygon points="739.74,195.97 743.3,198.46 743.3,221.46 739.74,218.97" fill="#909090" stroke="#222" stroke-width="0.9" stroke-linejoin="round"/>
<polygon points="659.66,198.1 658.53,197.35 657.44,196.57 656.41,195.77 656.41,218.77 657.44,219.57 658.53,220.35 659.66,221.1" fill="#c8c8c8" stroke="#222" stroke-width="0.9" stroke-linejoin="round"/>
<polygon points="743.3,198.46 741.97,199.41 740.57,200.33 739.11,201.22 739.11,224.22 740.57,223.33 741.97,222.41 743.3,221.46" fill="#fff" stroke="#222" stroke-width="0.9" stroke-linejoin="round"/>
<polygon points="656.53,200.77 659.66,198.1 659.66,221.1 656.53,223.77" fill="#6e6e6e" stroke="#222" stroke-width="0.9" stroke-linejoin="round"/>
<polygon points="739.11,201.22 734.15,199.66 734.15,222.66 739.11,224.22" fill="#6e6e6e" stroke="#222" stroke-width="0.9" stroke-linejoin="round"/>
<polygon points="661.17,203.3 659.57,202.49 658.02,201.64 656.53,200.77 656.53,223.77 658.02,224.64 659.57,225.49 661.17,226.3" fill="#fff" stroke="#222" stroke-width="0.9" stroke-linejoin="round"/>
<polygon points="734.15,199.66 732.88,200.34 731.57,201 730.21,201.63 730.21,224.63 731.57,224 732.88,223.34 734.15,222.66" fill="#c8c8c8" stroke="#222" stroke-width="0.9" stroke-linejoin="round"/>
<polygon points="665.84,201.48 661.17,203.3 661.17,226.3 665.84,224.48" fill="#909090" stroke="#222" stroke-width="0.9" stroke-linejoin="round"/>
<polygon points="730.21,201.63 732.45,204.56 732.45,227.56 730.21,224.63" fill="#909090" stroke="#222" stroke-width="0.9" stroke-linejoin="round"/>
<polygon points="670.1,203.23 668.64,202.68 667.22,202.09 665.84,201.48 665.84,224.48 667.22,225.09 668.64,225.68 670.1,226.23" fill="#c8c8c8" stroke="#222" stroke-width="0.9" stroke-linejoin="round"/>
<polygon points="732.45,204.56 730.71,205.28 728.92,205.96 727.08,206.59 727.08,229.59 728.92,228.96 730.71,228.28 732.45,227.56" fill="#fff" stroke="#222" stroke-width="0.9" stroke-linejoin="round"/>
<polygon points="668.37,206.27 670.1,203.23 670.1,226.23 668.37,229.27" fill="#6e6e6e" stroke="#222" stroke-width="0.9" stroke-linejoin="round"/>
<polygon points="727.08,206.59 723.06,204.34 723.06,227.34 727.08,229.59" fill="#6e6e6e" stroke="#222" stroke-width="0.9" stroke-linejoin="round"/>
<polygon points="674.06,208.01 672.12,207.47 670.23,206.89 668.37,206.27 668.37,229.27 670.23,229.89 672.12,230.47 674.06,231.01" fill="#fff" stroke="#222" stroke-width="0.9" stroke-linejoin="round"/>
<polygon points="723.06,204.34 721.51,204.8 719.92,205.24 718.31,205.65 718.31,228.65 719.92,228.24 721.51,227.8 723.06,227.34" fill="#c8c8c8" stroke="#222" stroke-width="0.9" stroke-linejoin="round"/>
<polygon points="677.68,205.55 674.06,208.01 674.06,231.01 677.68,228.55" fill="#909090" stroke="#222" stroke-width="0.9" stroke-linejoin="round"/>
<polygon points="718.31,205.65 719.06,208.81 719.06,231.81 718.31,228.65" fill="#909090" stroke="#222" stroke-width="0.9" stroke-linejoin="round"/>
<polygon points="682.63,206.6 680.95,206.28 679.3,205.93 677.68,205.55 677.68,228.55 679.3,228.93 680.95,229.28 682.63,229.6" fill="#c8c8c8" stroke="#222" stroke-width="0.9" stroke-linejoin="round"/>
<polygon points="719.06,208.81 717.03,209.23 714.98,209.61 712.91,209.95 712.91,232.95 714.98,232.61 717.03,232.23 719.06,231.81" fill="#fff" stroke="#222" stroke-width="0.9" stroke-linejoin="round"/>
<polygon points="682.42,209.78 682.63,206.6 682.63,229.6 682.42,232.78" fill="#6e6e6e" stroke="#222" stroke-width="0.9" stroke-linejoin="round"/>
<polygon points="712.91,209.95 710.13,207.17 710.13,230.17 712.91,232.95" fill="#6e6e6e" stroke="#222" stroke-width="0.9" stroke-linejoin="round"/>
<polygon points="688.74,210.59 686.61,210.37 684.51,210.1 682.42,209.78 682.42,232.78 684.51,233.1 686.61,233.37 688.74,233.59" fill="#fff" stroke="#222" stroke-width="0.9" stroke-linejoin="round"/>
<polygon points="710.13,207.17 708.4,207.38 706.67,207.56 704.92,207.71 704.92,230.71 706.67,230.56 708.4,230.38 710.13,230.17" fill="#c8c8c8" stroke="#222" stroke-width="0.9" stroke-linejoin="round"/>
<polygon points="691.03,207.68 688.74,210.59 688.74,233.59 691.03,230.68" fill="#909090" stroke="#222" stroke-width="0.9" stroke-linejoin="round"/>
<polygon points="704.92,207.71 704.12,210.87 704.12,233.87 704.92,230.71" fill="#909090" stroke="#222" stroke-width="0.9" stroke-linejoin="round"/>
<polygon points="696.3,207.94 694.54,207.89 692.79,207.8 691.03,207.68 691.03,230.68 692.79,230.8 694.54,230.89 696.3,230.94" fill="#c8c8c8" stroke="#222" stroke-width="0.9" stroke-linejoin="round"/>
<polygon points="704.12,210.87 701.96,210.97 699.8,211.03 697.64,211.04 697.64,234.04 699.8,234.03 701.96,233.97 704.12,233.87" fill="#fff" stroke="#222" stroke-width="0.9" stroke-linejoin="round"/>
<polygon points="697.64,211.04 696.3,207.94 696.3,230.94 697.64,234.04" fill="#6e6e6e" stroke="#222" stroke-width="0.9" stroke-linejoin="round"/>
<polygon points="754.42,182.56 754.16,183.76 753.82,184.96 753.4,186.14 747.71,186.25 747.26,187.2 746.75,188.15 746.18,189.08 750.81,190.94 749.99,192.05 749.08,193.15 748.11,194.23 742.58,193.47 741.68,194.32 740.74,195.16 739.74,195.97 743.3,198.46 741.97,199.41 740.57,200.33 739.11,201.22 734.15,199.66 732.88,200.34 731.57,201 730.21,201.63 732.45,204.56 730.71,205.28 728.92,205.96 727.08,206.59 723.06,204.34 721.51,204.8 719.92,205.24 718.31,205.65 719.06,208.81 717.03,209.23 714.98,209.61 712.91,209.95 710.13,207.17 708.4,207.38 706.67,207.56 704.92,207.71 704.12,210.87 701.96,210.97 699.8,211.03 697.64,211.04 696.3,207.94 694.54,207.89 692.79,207.8 691.03,207.68 688.74,210.59 686.61,210.37 684.51,210.1 682.42,209.78 682.63,206.6 680.95,206.28 679.3,205.93 677.68,205.55 674.06,208.01 672.12,207.47 670.23,206.89 668.37,206.27 670.1,203.23 668.64,202.68 667.22,202.09 665.84,201.48 661.17,203.3 659.57,202.49 658.02,201.64 656.53,200.77 659.66,198.1 658.53,197.35 657.44,196.57 656.41,195.77 651.03,196.82 649.88,195.79 648.79,194.75 647.78,193.68 652.08,191.59 651.35,190.69 650.68,189.77 650.07,188.85 644.39,189.05 643.77,187.89 643.23,186.71 642.77,185.53 647.92,184.17 647.65,183.19 647.45,182.21 647.3,181.22 641.74,180.56 641.7,179.35 641.74,178.14 641.87,176.93 647.48,176.39 647.7,175.41 647.98,174.44 648.31,173.47 643.27,171.98 643.82,170.81 644.45,169.66 645.15,168.51 650.81,168.84 651.49,167.93 652.23,167.03 653.02,166.15 648.88,163.96 649.97,162.92 651.13,161.9 652.36,160.9 657.66,162.07 658.75,161.3 659.89,160.55 661.08,159.81 658.15,157.08 659.7,156.24 661.31,155.43 662.98,154.66 667.51,156.59 668.93,156.01 670.4,155.46 671.89,154.93 670.39,151.86 672.29,151.28 674.23,150.75 676.2,150.26 679.63,152.8 681.29,152.46 682.96,152.14 684.66,151.87 684.69,148.68 686.8,148.41 688.92,148.19 691.06,148.01 693.14,150.98 694.9,150.9 696.66,150.85 698.42,150.84 699.99,147.78 702.15,147.84 704.3,147.95 706.44,148.1 707.02,151.27 708.75,151.46 710.47,151.68 712.17,151.93 715.16,149.22 717.21,149.6 719.23,150.03 721.22,150.51 720.24,153.65 721.82,154.09 723.37,154.56 724.89,155.06 729.07,152.9 730.86,153.58 732.6,154.3 734.29,155.05 731.83,157.93 733.14,158.6 734.4,159.28 735.62,160 740.69,158.55 742.09,159.47 743.42,160.43 744.68,161.41 740.93,163.81 741.87,164.65 742.75,165.5 743.58,166.37 749.16,165.74 750.06,166.84 750.88,167.96 751.62,169.1 746.86,170.84 747.36,171.79 747.8,172.75 748.18,173.71 753.85,173.95 754.19,175.14 754.44,176.35 754.6,177.55 749.18,178.51 749.2,179.5 749.16,180.49 749.07,181.47" fill="#fff" stroke="#222" stroke-width="1.2" stroke-linejoin="round"/>
<ellipse cx="698.2" cy="180.9" rx="19" ry="10.5" fill="#8c8c8c" stroke="#222" stroke-width="1.3"/>
<ellipse cx="698.2" cy="178.1" rx="16.8" ry="9.6" fill="#e0e0e0" stroke="#222" stroke-width="0.6"/>
<ellipse cx="698.2" cy="175.9" rx="15.5" ry="9.2" fill="#fff" stroke="#222" stroke-width="1.4"/>
<polygon points="826.05,220.85 826.39,222.04 826.64,223.25 826.8,224.45 826.8,247.45 826.64,246.25 826.39,245.04 826.05,243.85" fill="#fff" stroke="#222" stroke-width="0.9" stroke-linejoin="round"/>
<polygon points="714.07,223.83 719.68,223.29 719.68,246.29 714.07,246.83" fill="#6e6e6e" stroke="#222" stroke-width="0.9" stroke-linejoin="round"/>
<polygon points="826.8,224.45 821.38,225.41 821.38,248.41 826.8,247.45" fill="#6e6e6e" stroke="#222" stroke-width="0.9" stroke-linejoin="round"/>
<polygon points="713.94,227.46 713.9,226.25 713.94,225.04 714.07,223.83 714.07,246.83 713.94,248.04 713.9,249.25 713.94,250.46" fill="#fff" stroke="#222" stroke-width="0.9" stroke-linejoin="round"/>
<polygon points="821.38,225.41 821.4,226.4 821.36,227.39 821.27,228.37 821.27,251.37 821.36,250.39 821.4,249.4 821.38,248.41" fill="#c8c8c8" stroke="#222" stroke-width="0.9" stroke-linejoin="round"/>
<polygon points="719.5,228.12 713.94,227.46 713.94,250.46 719.5,251.12" fill="#909090" stroke="#222" stroke-width="0.9" stroke-linejoin="round"/>
<polygon points="821.27,228.37 826.62,229.46 826.62,252.46 821.27,251.37" fill="#909090" stroke="#222" stroke-width="0.9" stroke-linejoin="round"/>
<polygon points="720.12,231.07 719.85,230.09 719.65,229.11 719.5,228.12 719.5,251.12 719.65,252.11 719.85,253.09 720.12,254.07" fill="#c8c8c8" stroke="#222" stroke-width="0.9" stroke-linejoin="round"/>
<polygon points="826.62,229.46 826.36,230.66 826.02,231.86 825.6,233.04 825.6,256.04 826.02,254.86 826.36,253.66 826.62,252.46" fill="#fff" stroke="#222" stroke-width="0.9" stroke-linejoin="round"/>
<polygon points="714.97,232.43 720.12,231.07 720.12,254.07 714.97,255.43" fill="#6e6e6e" stroke="#222" stroke-width="0.9" stroke-linejoin="round"/>
<polygon points="825.6,233.04 819.91,233.15 819.91,256.15 825.6,256.04" fill="#6e6e6e" stroke="#222" stroke-width="0.9" stroke-linejoin="round"/>
<polygon points="716.59,235.95 715.97,234.79 715.43,233.61 714.97,232.43 714.97,255.43 715.43,256.61 715.97,257.79 716.59,258.95" fill="#fff" stroke="#222" stroke-width="0.9" stroke-linejoin="round"/>
<polygon points="819.91,233.15 819.46,234.1 818.95,235.05 818.38,235.98 818.38,258.98 818.95,258.05 819.46,257.1 819.91,256.15" fill="#c8c8c8" stroke="#222" stroke-width="0.9" stroke-linejoin="round"/>
<polygon points="722.27,235.75 716.59,235.95 716.59,258.95 722.27,258.75" fill="#909090" stroke="#222" stroke-width="0.9" stroke-linejoin="round"/>
<polygon points="818.38,235.98 823.01,237.84 823.01,260.84 818.38,258.98" fill="#909090" stroke="#222" stroke-width="0.9" stroke-linejoin="round"/>
<polygon points="724.28,238.49 723.55,237.59 722.88,236.67 722.27,235.75 722.27,258.75 722.88,259.67 723.55,260.59 724.28,261.49" fill="#c8c8c8" stroke="#222" stroke-width="0.9" stroke-linejoin="round"/>
<polygon points="823.01,237.84 822.19,238.95 821.28,240.05 820.31,241.13 820.31,264.13 821.28,263.05 822.19,261.95 823.01,260.84" fill="#fff" stroke="#222" stroke-width="0.9" stroke-linejoin="round"/>
<polygon points="719.98,240.58 724.28,238.49 724.28,261.49 719.98,263.58" fill="#6e6e6e" stroke="#222" stroke-width="0.9" stroke-linejoin="round"/>
<polygon points="820.31,241.13 814.78,240.37 814.78,263.37 820.31,264.13" fill="#6e6e6e" stroke="#222" stroke-width="0.9" stroke-linejoin="round"/>
<polygon points="723.23,243.72 722.08,242.69 720.99,241.65 719.98,240.58 719.98,263.58 720.99,264.65 722.08,265.69 723.23,266.72" fill="#fff" stroke="#222" stroke-width="0.9" stroke-linejoin="round"/>
<polygon points="814.78,240.37 813.88,241.22 812.94,242.06 811.94,242.87 811.94,265.87 812.94,265.06 813.88,264.22 814.78,263.37" fill="#c8c8c8" stroke="#222" stroke-width="0.9" stroke-linejoin="round"/>
<polygon points="728.61,242.67 723.23,243.72 723.23,266.72 728.61,265.67" fill="#909090" stroke="#222" stroke-width="0.9" stroke-linejoin="round"/>
<polygon points="811.94,242.87 815.5,245.36 815.5,268.36 811.94,265.87" fill="#909090" stroke="#222" stroke-width="0.9" stroke-linejoin="round"/>
<polygon points="731.86,245 730.73,244.25 729.64,243.47 728.61,242.67 728.61,265.67 729.64,266.47 730.73,267.25 731.86,268" fill="#c8c8c8" stroke="#222" stroke-width="0.9" stroke-linejoin="round"/>
<polygon points="815.5,245.36 814.17,246.31 812.77,247.23 811.31,248.12 811.31,271.12 812.77,270.23 814.17,269.31 815.5,268.36" fill="#fff" stroke="#222" stroke-width="0.9" stroke-linejoin="round"/>
<polygon points="728.73,247.67 731.86,245 731.86,268 728.73,270.67" fill="#6e6e6e" stroke="#222" stroke-width="0.9" stroke-linejoin="round"/>
<polygon points="811.31,248.12 806.35,246.56 806.35,269.56 811.31,271.12" fill="#6e6e6e" stroke="#222" stroke-width="0.9" stroke-linejoin="round"/>
<polygon points="733.37,250.2 731.77,249.39 730.22,248.54 728.73,247.67 728.73,270.67 730.22,271.54 731.77,272.39 733.37,273.2" fill="#fff" stroke="#222" stroke-width="0.9" stroke-linejoin="round"/>
<polygon points="806.35,246.56 805.08,247.24 803.77,247.9 802.41,248.53 802.41,271.53 803.77,270.9 805.08,270.24 806.35,269.56" fill="#c8c8c8" stroke="#222" stroke-width="0.9" stroke-linejoin="round"/>
<polygon points="738.04,248.38 733.37,250.2 733.37,273.2 738.04,271.38" fill="#909090" stroke="#222" stroke-width="0.9" stroke-linejoin="round"/>
<polygon points="802.41,248.53 804.65,251.46 804.65,274.46 802.41,271.53" fill="#909090" stroke="#222" stroke-width="0.9" stroke-linejoin="round"/>
<polygon points="742.3,250.13 740.84,249.58 739.42,248.99 738.04,248.38 738.04,271.38 739.42,271.99 740.84,272.58 742.3,273.13" fill="#c8c8c8" stroke="#222" stroke-width="0.9" stroke-linejoin="round"/>
<polygon points="804.65,251.46 802.91,252.18 801.12,252.86 799.28,253.49 799.28,276.49 801.12,275.86 802.91,275.18 804.65,274.46" fill="#fff" stroke="#222" stroke-width="0.9" stroke-linejoin="round"/>
<polygon points="740.57,253.17 742.3,250.13 742.3,273.13 740.57,276.17" fill="#6e6e6e" stroke="#222" stroke-width="0.9" stroke-linejoin="round"/>
<polygon points="799.28,253.49 795.26,251.24 795.26,274.24 799.28,276.49" fill="#6e6e6e" stroke="#222" stroke-width="0.9" stroke-linejoin="round"/>
<polygon points="746.26,254.91 744.32,254.37 742.43,253.79 740.57,253.17 740.57,276.17 742.43,276.79 744.32,277.37 746.26,277.91" fill="#fff" stroke="#222" stroke-width="0.9" stroke-linejoin="round"/>
<polygon points="795.26,251.24 793.71,251.7 792.12,252.14 790.51,252.55 790.51,275.55 792.12,275.14 793.71,274.7 795.26,274.24" fill="#c8c8c8" stroke="#222" stroke-width="0.9" stroke-linejoin="round"/>
<polygon points="749.88,252.45 746.26,254.91 746.26,277.91 749.88,275.45" fill="#909090" stroke="#222" stroke-width="0.9" stroke-linejoin="round"/>
<polygon points="790.51,252.55 791.26,255.71 791.26,278.71 790.51,275.55" fill="#909090" stroke="#222" stroke-width="0.9" stroke-linejoin="round"/>
<polygon points="754.83,253.5 753.15,253.18 751.5,252.83 749.88,252.45 749.88,275.45 751.5,275.83 753.15,276.18 754.83,276.5" fill="#c8c8c8" stroke="#222" stroke-width="0.9" stroke-linejoin="round"/>
<polygon points="791.26,255.71 789.23,256.13 787.18,256.51 785.11,256.85 785.11,279.85 787.18,279.51 789.23,279.13 791.26,278.71" fill="#fff" stroke="#222" stroke-width="0.9" stroke-linejoin="round"/>
<polygon points="754.62,256.68 754.83,253.5 754.83,276.5 754.62,279.68" fill="#6e6e6e" stroke="#222" stroke-width="0.9" stroke-linejoin="round"/>
<polygon points="785.11,256.85 782.33,254.07 782.33,277.07 785.11,279.85" fill="#6e6e6e" stroke="#222" stroke-width="0.9" stroke-linejoin="round"/>
<polygon points="760.94,257.49 758.81,257.27 756.71,257 754.62,256.68 754.62,279.68 756.71,280 758.81,280.27 760.94,280.49" fill="#fff" stroke="#222" stroke-width="0.9" stroke-linejoin="round"/>
<polygon points="782.33,254.07 780.6,254.28 778.87,254.46 777.12,254.61 777.12,277.61 778.87,277.46 780.6,277.28 782.33,277.07" fill="#c8c8c8" stroke="#222" stroke-width="0.9" stroke-linejoin="round"/>
<polygon points="763.23,254.58 760.94,257.49 760.94,280.49 763.23,277.58" fill="#909090" stroke="#222" stroke-width="0.9" stroke-linejoin="round"/>
<polygon points="777.12,254.61 776.32,257.77 776.32,280.77 777.12,277.61" fill="#909090" stroke="#222" stroke-width="0.9" stroke-linejoin="round"/>
<polygon points="768.5,254.84 766.74,254.79 764.99,254.7 763.23,254.58 763.23,277.58 764.99,277.7 766.74,277.79 768.5,277.84" fill="#c8c8c8" stroke="#222" stroke-width="0.9" stroke-linejoin="round"/>
<polygon points="776.32,257.77 774.16,257.87 772,257.93 769.84,257.94 769.84,280.94 772,280.93 774.16,280.87 776.32,280.77" fill="#fff" stroke="#222" stroke-width="0.9" stroke-linejoin="round"/>
<polygon points="769.84,257.94 768.5,254.84 768.5,277.84 769.84,280.94" fill="#6e6e6e" stroke="#222" stroke-width="0.9" stroke-linejoin="round"/>
<polygon points="826.62,229.46 826.36,230.66 826.02,231.86 825.6,233.04 819.91,233.15 819.46,234.1 818.95,235.05 818.38,235.98 823.01,237.84 822.19,238.95 821.28,240.05 820.31,241.13 814.78,240.37 813.88,241.22 812.94,242.06 811.94,242.87 815.5,245.36 814.17,246.31 812.77,247.23 811.31,248.12 806.35,246.56 805.08,247.24 803.77,247.9 802.41,248.53 804.65,251.46 802.91,252.18 801.12,252.86 799.28,253.49 795.26,251.24 793.71,251.7 792.12,252.14 790.51,252.55 791.26,255.71 789.23,256.13 787.18,256.51 785.11,256.85 782.33,254.07 780.6,254.28 778.87,254.46 777.12,254.61 776.32,257.77 774.16,257.87 772,257.93 769.84,257.94 768.5,254.84 766.74,254.79 764.99,254.7 763.23,254.58 760.94,257.49 758.81,257.27 756.71,257 754.62,256.68 754.83,253.5 753.15,253.18 751.5,252.83 749.88,252.45 746.26,254.91 744.32,254.37 742.43,253.79 740.57,253.17 742.3,250.13 740.84,249.58 739.42,248.99 738.04,248.38 733.37,250.2 731.77,249.39 730.22,248.54 728.73,247.67 731.86,245 730.73,244.25 729.64,243.47 728.61,242.67 723.23,243.72 722.08,242.69 720.99,241.65 719.98,240.58 724.28,238.49 723.55,237.59 722.88,236.67 722.27,235.75 716.59,235.95 715.97,234.79 715.43,233.61 714.97,232.43 720.12,231.07 719.85,230.09 719.65,229.11 719.5,228.12 713.94,227.46 713.9,226.25 713.94,225.04 714.07,223.83 719.68,223.29 719.9,222.31 720.18,221.34 720.51,220.37 715.47,218.88 716.02,217.71 716.65,216.56 717.35,215.41 723.01,215.74 723.69,214.83 724.43,213.93 725.22,213.05 721.08,210.86 722.17,209.82 723.33,208.8 724.56,207.8 729.86,208.97 730.95,208.2 732.09,207.45 733.28,206.71 730.35,203.98 731.9,203.14 733.51,202.33 735.18,201.56 739.71,203.49 741.13,202.91 742.6,202.36 744.09,201.83 742.59,198.76 744.49,198.18 746.43,197.65 748.4,197.16 751.83,199.7 753.49,199.36 755.16,199.04 756.86,198.77 756.89,195.58 759,195.31 761.12,195.09 763.26,194.91 765.34,197.88 767.1,197.8 768.86,197.75 770.62,197.74 772.19,194.68 774.35,194.74 776.5,194.85 778.64,195 779.22,198.17 780.95,198.36 782.67,198.58 784.37,198.83 787.36,196.12 789.41,196.5 791.43,196.93 793.42,197.41 792.44,200.55 794.02,200.99 795.57,201.46 797.09,201.96 801.27,199.8 803.06,200.48 804.8,201.2 806.49,201.95 804.03,204.83 805.34,205.5 806.6,206.18 807.82,206.9 812.89,205.45 814.29,206.37 815.62,207.33 816.88,208.31 813.13,210.71 814.07,211.55 814.95,212.4 815.78,213.27 821.36,212.64 822.26,213.74 823.08,214.86 823.82,216 819.06,217.74 819.56,218.69 820,219.65 820.38,220.61 826.05,220.85 826.39,222.04 826.64,223.25 826.8,224.45 821.38,225.41 821.4,226.4 821.36,227.39 821.27,228.37" fill="#fff" stroke="#222" stroke-width="1.2" stroke-linejoin="round"/>
<ellipse cx="770.4" cy="227.8" rx="19" ry="10.5" fill="#8c8c8c" stroke="#222" stroke-width="1.3"/>
<ellipse cx="770.4" cy="225" rx="16.8" ry="9.6" fill="#e0e0e0" stroke="#222" stroke-width="0.6"/>
<ellipse cx="770.4" cy="222.8" rx="15.5" ry="9.2" fill="#fff" stroke="#222" stroke-width="1.4"/>
<polygon points="906.95,261.95 907.29,263.14 907.54,264.35 907.7,265.55 907.7,288.55 907.54,287.35 907.29,286.14 906.95,284.95" fill="#fff" stroke="#222" stroke-width="0.9" stroke-linejoin="round"/>
<polygon points="794.97,264.93 800.58,264.39 800.58,287.39 794.97,287.93" fill="#6e6e6e" stroke="#222" stroke-width="0.9" stroke-linejoin="round"/>
<polygon points="907.7,265.55 902.28,266.51 902.28,289.51 907.7,288.55" fill="#6e6e6e" stroke="#222" stroke-width="0.9" stroke-linejoin="round"/>
<polygon points="794.84,268.56 794.8,267.35 794.84,266.14 794.97,264.93 794.97,287.93 794.84,289.14 794.8,290.35 794.84,291.56" fill="#fff" stroke="#222" stroke-width="0.9" stroke-linejoin="round"/>
<polygon points="902.28,266.51 902.3,267.5 902.26,268.49 902.17,269.47 902.17,292.47 902.26,291.49 902.3,290.5 902.28,289.51" fill="#c8c8c8" stroke="#222" stroke-width="0.9" stroke-linejoin="round"/>
<polygon points="800.4,269.22 794.84,268.56 794.84,291.56 800.4,292.22" fill="#909090" stroke="#222" stroke-width="0.9" stroke-linejoin="round"/>
<polygon points="902.17,269.47 907.52,270.56 907.52,293.56 902.17,292.47" fill="#909090" stroke="#222" stroke-width="0.9" stroke-linejoin="round"/>
<polygon points="801.02,272.17 800.75,271.19 800.55,270.21 800.4,269.22 800.4,292.22 800.55,293.21 800.75,294.19 801.02,295.17" fill="#c8c8c8" stroke="#222" stroke-width="0.9" stroke-linejoin="round"/>
<polygon points="907.52,270.56 907.26,271.76 906.92,272.96 906.5,274.14 906.5,297.14 906.92,295.96 907.26,294.76 907.52,293.56" fill="#fff" stroke="#222" stroke-width="0.9" stroke-linejoin="round"/>
<polygon points="795.87,273.53 801.02,272.17 801.02,295.17 795.87,296.53" fill="#6e6e6e" stroke="#222" stroke-width="0.9" stroke-linejoin="round"/>
<polygon points="906.5,274.14 900.81,274.25 900.81,297.25 906.5,297.14" fill="#6e6e6e" stroke="#222" stroke-width="0.9" stroke-linejoin="round"/>
<polygon points="797.49,277.05 796.87,275.89 796.33,274.71 795.87,273.53 795.87,296.53 796.33,297.71 796.87,298.89 797.49,300.05" fill="#fff" stroke="#222" stroke-width="0.9" stroke-linejoin="round"/>
<polygon points="900.81,274.25 900.36,275.2 899.85,276.15 899.28,277.08 899.28,300.08 899.85,299.15 900.36,298.2 900.81,297.25" fill="#c8c8c8" stroke="#222" stroke-width="0.9" stroke-linejoin="round"/>
<polygon points="803.17,276.85 797.49,277.05 797.49,300.05 803.17,299.85" fill="#909090" stroke="#222" stroke-width="0.9" stroke-linejoin="round"/>
<polygon points="899.28,277.08 903.91,278.94 903.91,301.94 899.28,300.08" fill="#909090" stroke="#222" stroke-width="0.9" stroke-linejoin="round"/>
<polygon points="805.18,279.59 804.45,278.69 803.78,277.77 803.17,276.85 803.17,299.85 803.78,300.77 804.45,301.69 805.18,302.59" fill="#c8c8c8" stroke="#222" stroke-width="0.9" stroke-linejoin="round"/>
<polygon points="903.91,278.94 903.09,280.05 902.18,281.15 901.21,282.23 901.21,305.23 902.18,304.15 903.09,303.05 903.91,301.94" fill="#fff" stroke="#222" stroke-width="0.9" stroke-linejoin="round"/>
<polygon points="800.88,281.68 805.18,279.59 805.18,302.59 800.88,304.68" fill="#6e6e6e" stroke="#222" stroke-width="0.9" stroke-linejoin="round"/>
<polygon points="901.21,282.23 895.68,281.47 895.68,304.47 901.21,305.23" fill="#6e6e6e" stroke="#222" stroke-width="0.9" stroke-linejoin="round"/>
<polygon points="804.13,284.82 802.98,283.79 801.89,282.75 800.88,281.68 800.88,304.68 801.89,305.75 802.98,306.79 804.13,307.82" fill="#fff" stroke="#222" stroke-width="0.9" stroke-linejoin="round"/>
<polygon points="895.68,281.47 894.78,282.32 893.84,283.16 892.84,283.97 892.84,306.97 893.84,306.16 894.78,305.32 895.68,304.47" fill="#c8c8c8" stroke="#222" stroke-width="0.9" stroke-linejoin="round"/>
<polygon points="809.51,283.77 804.13,284.82 804.13,307.82 809.51,306.77" fill="#909090" stroke="#222" stroke-width="0.9" stroke-linejoin="round"/>
<polygon points="892.84,283.97 896.4,286.46 896.4,309.46 892.84,306.97" fill="#909090" stroke="#222" stroke-width="0.9" stroke-linejoin="round"/>
<polygon points="812.76,286.1 811.63,285.35 810.54,284.57 809.51,283.77 809.51,306.77 810.54,307.57 811.63,308.35 812.76,309.1" fill="#c8c8c8" stroke="#222" stroke-width="0.9" stroke-linejoin="round"/>
<polygon points="896.4,286.46 895.07,287.41 893.67,288.33 892.21,289.22 892.21,312.22 893.67,311.33 895.07,310.41 896.4,309.46" fill="#fff" stroke="#222" stroke-width="0.9" stroke-linejoin="round"/>
<polygon points="809.63,288.77 812.76,286.1 812.76,309.1 809.63,311.77" fill="#6e6e6e" stroke="#222" stroke-width="0.9" stroke-linejoin="round"/>
<polygon points="892.21,289.22 887.25,287.66 887.25,310.66 892.21,312.22" fill="#6e6e6e" stroke="#222" stroke-width="0.9" stroke-linejoin="round"/>
<polygon points="814.27,291.3 812.67,290.49 811.12,289.64 809.63,288.77 809.63,311.77 811.12,312.64 812.67,313.49 814.27,314.3" fill="#fff" stroke="#222" stroke-width="0.9" stroke-linejoin="round"/>
<polygon points="887.25,287.66 885.98,288.34 884.67,289 883.31,289.63 883.31,312.63 884.67,312 885.98,311.34 887.25,310.66" fill="#c8c8c8" stroke="#222" stroke-width="0.9" stroke-linejoin="round"/>
<polygon points="818.94,289.48 814.27,291.3 814.27,314.3 818.94,312.48" fill="#909090" stroke="#222" stroke-width="0.9" stroke-linejoin="round"/>
<polygon points="883.31,289.63 885.55,292.56 885.55,315.56 883.31,312.63" fill="#909090" stroke="#222" stroke-width="0.9" stroke-linejoin="round"/>
<polygon points="823.2,291.23 821.74,290.68 820.32,290.09 818.94,289.48 818.94,312.48 820.32,313.09 821.74,313.68 823.2,314.23" fill="#c8c8c8" stroke="#222" stroke-width="0.9" stroke-linejoin="round"/>
<polygon points="885.55,292.56 883.81,293.28 882.02,293.96 880.18,294.59 880.18,317.59 882.02,316.96 883.81,316.28 885.55,315.56" fill="#fff" stroke="#222" stroke-width="0.9" stroke-linejoin="round"/>
<polygon points="821.47,294.27 823.2,291.23 823.2,314.23 821.47,317.27" fill="#6e6e6e" stroke="#222" stroke-width="0.9" stroke-linejoin="round"/>
<polygon points="880.18,294.59 876.16,292.34 876.16,315.34 880.18,317.59" fill="#6e6e6e" stroke="#222" stroke-width="0.9" stroke-linejoin="round"/>
<polygon points="827.16,296.01 825.22,295.47 823.33,294.89 821.47,294.27 821.47,317.27 823.33,317.89 825.22,318.47 827.16,319.01" fill="#fff" stroke="#222" stroke-width="0.9" stroke-linejoin="round"/>
<polygon points="876.16,292.34 874.61,292.8 873.02,293.24 871.41,293.65 871.41,316.65 873.02,316.24 874.61,315.8 876.16,315.34" fill="#c8c8c8" stroke="#222" stroke-width="0.9" stroke-linejoin="round"/>
<polygon points="830.78,293.55 827.16,296.01 827.16,319.01 830.78,316.55" fill="#909090" stroke="#222" stroke-width="0.9" stroke-linejoin="round"/>
<polygon points="871.41,293.65 872.16,296.81 872.16,319.81 871.41,316.65" fill="#909090" stroke="#222" stroke-width="0.9" stroke-linejoin="round"/>
<polygon points="835.73,294.6 834.05,294.28 832.4,293.93 830.78,293.55 830.78,316.55 832.4,316.93 834.05,317.28 835.73,317.6" fill="#c8c8c8" stroke="#222" stroke-width="0.9" stroke-linejoin="round"/>
<polygon points="872.16,296.81 870.13,297.23 868.08,297.61 866.01,297.95 866.01,320.95 868.08,320.61 870.13,320.23 872.16,319.81" fill="#fff" stroke="#222" stroke-width="0.9" stroke-linejoin="round"/>
<polygon points="835.52,297.78 835.73,294.6 835.73,317.6 835.52,320.78" fill="#6e6e6e" stroke="#222" stroke-width="0.9" stroke-linejoin="round"/>
<polygon points="866.01,297.95 863.23,295.17 863.23,318.17 866.01,320.95" fill="#6e6e6e" stroke="#222" stroke-width="0.9" stroke-linejoin="round"/>
<polygon points="841.84,298.59 839.71,298.37 837.61,298.1 835.52,297.78 835.52,320.78 837.61,321.1 839.71,321.37 841.84,321.59" fill="#fff" stroke="#222" stroke-width="0.9" stroke-linejoin="round"/>
<polygon points="863.23,295.17 861.5,295.38 859.77,295.56 858.02,295.71 858.02,318.71 859.77,318.56 861.5,318.38 863.23,318.17" fill="#c8c8c8" stroke="#222" stroke-width="0.9" stroke-linejoin="round"/>
<polygon points="844.13,295.68 841.84,298.59 841.84,321.59 844.13,318.68" fill="#909090" stroke="#222" stroke-width="0.9" stroke-linejoin="round"/>
<polygon points="858.02,295.71 857.22,298.87 857.22,321.87 858.02,318.71" fill="#909090" stroke="#222" stroke-width="0.9" stroke-linejoin="round"/>
<polygon points="849.4,295.94 847.64,295.89 845.89,295.8 844.13,295.68 844.13,318.68 845.89,318.8 847.64,318.89 849.4,318.94" fill="#c8c8c8" stroke="#222" stroke-width="0.9" stroke-linejoin="round"/>
<polygon points="857.22,298.87 855.06,298.97 852.9,299.03 850.74,299.04 850.74,322.04 852.9,322.03 855.06,321.97 857.22,321.87" fill="#fff" stroke="#222" stroke-width="0.9" stroke-linejoin="round"/>
<polygon points="850.74,299.04 849.4,295.94 849.4,318.94 850.74,322.04" fill="#6e6e6e" stroke="#222" stroke-width="0.9" stroke-linejoin="round"/>
<polygon points="907.52,270.56 907.26,271.76 906.92,272.96 906.5,274.14 900.81,274.25 900.36,275.2 899.85,276.15 899.28,277.08 903.91,278.94 903.09,280.05 902.18,281.15 901.21,282.23 895.68,281.47 894.78,282.32 893.84,283.16 892.84,283.97 896.4,286.46 895.07,287.41 893.67,288.33 892.21,289.22 887.25,287.66 885.98,288.34 884.67,289 883.31,289.63 885.55,292.56 883.81,293.28 882.02,293.96 880.18,294.59 876.16,292.34 874.61,292.8 873.02,293.24 871.41,293.65 872.16,296.81 870.13,297.23 868.08,297.61 866.01,297.95 863.23,295.17 861.5,295.38 859.77,295.56 858.02,295.71 857.22,298.87 855.06,298.97 852.9,299.03 850.74,299.04 849.4,295.94 847.64,295.89 845.89,295.8 844.13,295.68 841.84,298.59 839.71,298.37 837.61,298.1 835.52,297.78 835.73,294.6 834.05,294.28 832.4,293.93 830.78,293.55 827.16,296.01 825.22,295.47 823.33,294.89 821.47,294.27 823.2,291.23 821.74,290.68 820.32,290.09 818.94,289.48 814.27,291.3 812.67,290.49 811.12,289.64 809.63,288.77 812.76,286.1 811.63,285.35 810.54,284.57 809.51,283.77 804.13,284.82 802.98,283.79 801.89,282.75 800.88,281.68 805.18,279.59 804.45,278.69 803.78,277.77 803.17,276.85 797.49,277.05 796.87,275.89 796.33,274.71 795.87,273.53 801.02,272.17 800.75,271.19 800.55,270.21 800.4,269.22 794.84,268.56 794.8,267.35 794.84,266.14 794.97,264.93 800.58,264.39 800.8,263.41 801.08,262.44 801.41,261.47 796.37,259.98 796.92,258.81 797.55,257.66 798.25,256.51 803.91,256.84 804.59,255.93 805.33,255.03 806.12,254.15 801.98,251.96 803.07,250.92 804.23,249.9 805.46,248.9 810.76,250.07 811.85,249.3 812.99,248.55 814.18,247.81 811.25,245.08 812.8,244.24 814.41,243.43 816.08,242.66 820.61,244.59 822.03,244.01 823.5,243.46 824.99,242.93 823.49,239.86 825.39,239.28 827.33,238.75 829.3,238.26 832.73,240.8 834.39,240.46 836.06,240.14 837.76,239.87 837.79,236.68 839.9,236.41 842.02,236.19 844.16,236.01 846.24,238.98 848,238.9 849.76,238.85 851.52,238.84 853.09,235.78 855.25,235.84 857.4,235.95 859.54,236.1 860.12,239.27 861.85,239.46 863.57,239.68 865.27,239.93 868.26,237.22 870.31,237.6 872.33,238.03 874.32,238.51 873.34,241.65 874.92,242.09 876.47,242.56 877.99,243.06 882.17,240.9 883.96,241.58 885.7,242.3 887.39,243.05 884.93,245.93 886.24,246.6 887.5,247.28 888.72,248 893.79,246.55 895.19,247.47 896.52,248.43 897.78,249.41 894.03,251.81 894.97,252.65 895.85,253.5 896.68,254.37 902.26,253.74 903.16,254.84 903.98,255.96 904.72,257.1 899.96,258.84 900.46,259.79 900.9,260.75 901.28,261.71 906.95,261.95 907.29,263.14 907.54,264.35 907.7,265.55 902.28,266.51 902.3,267.5 902.26,268.49 902.17,269.47" fill="#fff" stroke="#222" stroke-width="1.2" stroke-linejoin="round"/>
<ellipse cx="851.3" cy="268.9" rx="19" ry="10.5" fill="#8c8c8c" stroke="#222" stroke-width="1.3"/>
<ellipse cx="851.3" cy="266.1" rx="16.8" ry="9.6" fill="#e0e0e0" stroke="#222" stroke-width="0.6"/>
<ellipse cx="851.3" cy="263.9" rx="15.5" ry="9.2" fill="#fff" stroke="#222" stroke-width="1.4"/>
<polygon points="980.15,308.75 980.49,309.94 980.74,311.15 980.9,312.35 980.9,335.35 980.74,334.15 980.49,332.94 980.15,331.75" fill="#fff" stroke="#222" stroke-width="0.9" stroke-linejoin="round"/>
<polygon points="868.17,311.73 873.78,311.19 873.78,334.19 868.17,334.73" fill="#6e6e6e" stroke="#222" stroke-width="0.9" stroke-linejoin="round"/>
<polygon points="980.9,312.35 975.48,313.31 975.48,336.31 980.9,335.35" fill="#6e6e6e" stroke="#222" stroke-width="0.9" stroke-linejoin="round"/>
<polygon points="868.04,315.36 868,314.15 868.04,312.94 868.17,311.73 868.17,334.73 868.04,335.94 868,337.15 868.04,338.36" fill="#fff" stroke="#222" stroke-width="0.9" stroke-linejoin="round"/>
<polygon points="975.48,313.31 975.5,314.3 975.46,315.29 975.37,316.27 975.37,339.27 975.46,338.29 975.5,337.3 975.48,336.31" fill="#c8c8c8" stroke="#222" stroke-width="0.9" stroke-linejoin="round"/>
<polygon points="873.6,316.02 868.04,315.36 868.04,338.36 873.6,339.02" fill="#909090" stroke="#222" stroke-width="0.9" stroke-linejoin="round"/>
<polygon points="975.37,316.27 980.72,317.36 980.72,340.36 975.37,339.27" fill="#909090" stroke="#222" stroke-width="0.9" stroke-linejoin="round"/>
<polygon points="874.22,318.97 873.95,317.99 873.75,317.01 873.6,316.02 873.6,339.02 873.75,340.01 873.95,340.99 874.22,341.97" fill="#c8c8c8" stroke="#222" stroke-width="0.9" stroke-linejoin="round"/>
<polygon points="980.72,317.36 980.46,318.56 980.12,319.76 979.7,320.94 979.7,343.94 980.12,342.76 980.46,341.56 980.72,340.36" fill="#fff" stroke="#222" stroke-width="0.9" stroke-linejoin="round"/>
<polygon points="869.07,320.33 874.22,318.97 874.22,341.97 869.07,343.33" fill="#6e6e6e" stroke="#222" stroke-width="0.9" stroke-linejoin="round"/>
<polygon points="979.7,320.94 974.01,321.05 974.01,344.05 979.7,343.94" fill="#6e6e6e" stroke="#222" stroke-width="0.9" stroke-linejoin="round"/>
<polygon points="870.69,323.85 870.07,322.69 869.53,321.51 869.07,320.33 869.07,343.33 869.53,344.51 870.07,345.69 870.69,346.85" fill="#fff" stroke="#222" stroke-width="0.9" stroke-linejoin="round"/>
<polygon points="974.01,321.05 973.56,322 973.05,322.95 972.48,323.88 972.48,346.88 973.05,345.95 973.56,345 974.01,344.05" fill="#c8c8c8" stroke="#222" stroke-width="0.9" stroke-linejoin="round"/>
<polygon points="876.37,323.65 870.69,323.85 870.69,346.85 876.37,346.65" fill="#909090" stroke="#222" stroke-width="0.9" stroke-linejoin="round"/>
<polygon points="972.48,323.88 977.11,325.74 977.11,348.74 972.48,346.88" fill="#909090" stroke="#222" stroke-width="0.9" stroke-linejoin="round"/>
<polygon points="878.38,326.39 877.65,325.49 876.98,324.57 876.37,323.65 876.37,346.65 876.98,347.57 877.65,348.49 878.38,349.39" fill="#c8c8c8" stroke="#222" stroke-width="0.9" stroke-linejoin="round"/>
<polygon points="977.11,325.74 976.29,326.85 975.38,327.95 974.41,329.03 974.41,352.03 975.38,350.95 976.29,349.85 977.11,348.74" fill="#fff" stroke="#222" stroke-width="0.9" stroke-linejoin="round"/>
<polygon points="874.08,328.48 878.38,326.39 878.38,349.39 874.08,351.48" fill="#6e6e6e" stroke="#222" stroke-width="0.9" stroke-linejoin="round"/>
<polygon points="974.41,329.03 968.88,328.27 968.88,351.27 974.41,352.03" fill="#6e6e6e" stroke="#222" stroke-width="0.9" stroke-linejoin="round"/>
<polygon points="877.33,331.62 876.18,330.59 875.09,329.55 874.08,328.48 874.08,351.48 875.09,352.55 876.18,353.59 877.33,354.62" fill="#fff" stroke="#222" stroke-width="0.9" stroke-linejoin="round"/>
<polygon points="968.88,328.27 967.98,329.12 967.04,329.96 966.04,330.77 966.04,353.77 967.04,352.96 967.98,352.12 968.88,351.27" fill="#c8c8c8" stroke="#222" stroke-width="0.9" stroke-linejoin="round"/>
<polygon points="882.71,330.57 877.33,331.62 877.33,354.62 882.71,353.57" fill="#909090" stroke="#222" stroke-width="0.9" stroke-linejoin="round"/>
<polygon points="966.04,330.77 969.6,333.26 969.6,356.26 966.04,353.77" fill="#909090" stroke="#222" stroke-width="0.9" stroke-linejoin="round"/>
<polygon points="885.96,332.9 884.83,332.15 883.74,331.37 882.71,330.57 882.71,353.57 883.74,354.37 884.83,355.15 885.96,355.9" fill="#c8c8c8" stroke="#222" stroke-width="0.9" stroke-linejoin="round"/>
<polygon points="969.6,333.26 968.27,334.21 966.87,335.13 965.41,336.02 965.41,359.02 966.87,358.13 968.27,357.21 969.6,356.26" fill="#fff" stroke="#222" stroke-width="0.9" stroke-linejoin="round"/>
<polygon points="882.83,335.57 885.96,332.9 885.96,355.9 882.83,358.57" fill="#6e6e6e" stroke="#222" stroke-width="0.9" stroke-linejoin="round"/>
<polygon points="965.41,336.02 960.45,334.46 960.45,357.46 965.41,359.02" fill="#6e6e6e" stroke="#222" stroke-width="0.9" stroke-linejoin="round"/>
<polygon points="887.47,338.1 885.87,337.29 884.32,336.44 882.83,335.57 882.83,358.57 884.32,359.44 885.87,360.29 887.47,361.1" fill="#fff" stroke="#222" stroke-width="0.9" stroke-linejoin="round"/>
<polygon points="960.45,334.46 959.18,335.14 957.87,335.8 956.51,336.43 956.51,359.43 957.87,358.8 959.18,358.14 960.45,357.46" fill="#c8c8c8" stroke="#222" stroke-width="0.9" stroke-linejoin="round"/>
<polygon points="892.14,336.28 887.47,338.1 887.47,361.1 892.14,359.28" fill="#909090" stroke="#222" stroke-width="0.9" stroke-linejoin="round"/>
<polygon points="956.51,336.43 958.75,339.36 958.75,362.36 956.51,359.43" fill="#909090" stroke="#222" stroke-width="0.9" stroke-linejoin="round"/>
<polygon points="896.4,338.03 894.94,337.48 893.52,336.89 892.14,336.28 892.14,359.28 893.52,359.89 894.94,360.48 896.4,361.03" fill="#c8c8c8" stroke="#222" stroke-width="0.9" stroke-linejoin="round"/>
<polygon points="958.75,339.36 957.01,340.08 955.22,340.76 953.38,341.39 953.38,364.39 955.22,363.76 957.01,363.08 958.75,362.36" fill="#fff" stroke="#222" stroke-width="0.9" stroke-linejoin="round"/>
<polygon points="894.67,341.07 896.4,338.03 896.4,361.03 894.67,364.07" fill="#6e6e6e" stroke="#222" stroke-width="0.9" stroke-linejoin="round"/>
<polygon points="953.38,341.39 949.36,339.14 949.36,362.14 953.38,364.39" fill="#6e6e6e" stroke="#222" stroke-width="0.9" stroke-linejoin="round"/>
<polygon points="900.36,342.81 898.42,342.27 896.53,341.69 894.67,341.07 894.67,364.07 896.53,364.69 898.42,365.27 900.36,365.81" fill="#fff" stroke="#222" stroke-width="0.9" stroke-linejoin="round"/>
<polygon points="949.36,339.14 947.81,339.6 946.22,340.04 944.61,340.45 944.61,363.45 946.22,363.04 947.81,362.6 949.36,362.14" fill="#c8c8c8" stroke="#222" stroke-width="0.9" stroke-linejoin="round"/>
<polygon points="903.98,340.35 900.36,342.81 900.36,365.81 903.98,363.35" fill="#909090" stroke="#222" stroke-width="0.9" stroke-linejoin="round"/>
<polygon points="944.61,340.45 945.36,343.61 945.36,366.61 944.61,363.45" fill="#909090" stroke="#222" stroke-width="0.9" stroke-linejoin="round"/>
<polygon points="908.93,341.4 907.25,341.08 905.6,340.73 903.98,340.35 903.98,363.35 905.6,363.73 907.25,364.08 908.93,364.4" fill="#c8c8c8" stroke="#222" stroke-width="0.9" stroke-linejoin="round"/>
<polygon points="945.36,343.61 943.33,344.03 941.28,344.41 939.21,344.75 939.21,367.75 941.28,367.41 943.33,367.03 945.36,366.61" fill="#fff" stroke="#222" stroke-width="0.9" stroke-linejoin="round"/>
<polygon points="908.72,344.58 908.93,341.4 908.93,364.4 908.72,367.58" fill="#6e6e6e" stroke="#222" stroke-width="0.9" stroke-linejoin="round"/>
<polygon points="939.21,344.75 936.43,341.97 936.43,364.97 939.21,367.75" fill="#6e6e6e" stroke="#222" stroke-width="0.9" stroke-linejoin="round"/>
<polygon points="915.04,345.39 912.91,345.17 910.81,344.9 908.72,344.58 908.72,367.58 910.81,367.9 912.91,368.17 915.04,368.39" fill="#fff" stroke="#222" stroke-width="0.9" stroke-linejoin="round"/>
<polygon points="936.43,341.97 934.7,342.18 932.97,342.36 931.22,342.51 931.22,365.51 932.97,365.36 934.7,365.18 936.43,364.97" fill="#c8c8c8" stroke="#222" stroke-width="0.9" stroke-linejoin="round"/>
<polygon points="917.33,342.48 915.04,345.39 915.04,368.39 917.33,365.48" fill="#909090" stroke="#222" stroke-width="0.9" stroke-linejoin="round"/>
<polygon points="931.22,342.51 930.42,345.67 930.42,368.67 931.22,365.51" fill="#909090" stroke="#222" stroke-width="0.9" stroke-linejoin="round"/>
<polygon points="922.6,342.74 920.84,342.69 919.09,342.6 917.33,342.48 917.33,365.48 919.09,365.6 920.84,365.69 922.6,365.74" fill="#c8c8c8" stroke="#222" stroke-width="0.9" stroke-linejoin="round"/>
<polygon points="930.42,345.67 928.26,345.77 926.1,345.83 923.94,345.84 923.94,368.84 926.1,368.83 928.26,368.77 930.42,368.67" fill="#fff" stroke="#222" stroke-width="0.9" stroke-linejoin="round"/>
<polygon points="923.94,345.84 922.6,342.74 922.6,365.74 923.94,368.84" fill="#6e6e6e" stroke="#222" stroke-width="0.9" stroke-linejoin="round"/>
<polygon points="980.72,317.36 980.46,318.56 980.12,319.76 979.7,320.94 974.01,321.05 973.56,322 973.05,322.95 972.48,323.88 977.11,325.74 976.29,326.85 975.38,327.95 974.41,329.03 968.88,328.27 967.98,329.12 967.04,329.96 966.04,330.77 969.6,333.26 968.27,334.21 966.87,335.13 965.41,336.02 960.45,334.46 959.18,335.14 957.87,335.8 956.51,336.43 958.75,339.36 957.01,340.08 955.22,340.76 953.38,341.39 949.36,339.14 947.81,339.6 946.22,340.04 944.61,340.45 945.36,343.61 943.33,344.03 941.28,344.41 939.21,344.75 936.43,341.97 934.7,342.18 932.97,342.36 931.22,342.51 930.42,345.67 928.26,345.77 926.1,345.83 923.94,345.84 922.6,342.74 920.84,342.69 919.09,342.6 917.33,342.48 915.04,345.39 912.91,345.17 910.81,344.9 908.72,344.58 908.93,341.4 907.25,341.08 905.6,340.73 903.98,340.35 900.36,342.81 898.42,342.27 896.53,341.69 894.67,341.07 896.4,338.03 894.94,337.48 893.52,336.89 892.14,336.28 887.47,338.1 885.87,337.29 884.32,336.44 882.83,335.57 885.96,332.9 884.83,332.15 883.74,331.37 882.71,330.57 877.33,331.62 876.18,330.59 875.09,329.55 874.08,328.48 878.38,326.39 877.65,325.49 876.98,324.57 876.37,323.65 870.69,323.85 870.07,322.69 869.53,321.51 869.07,320.33 874.22,318.97 873.95,317.99 873.75,317.01 873.6,316.02 868.04,315.36 868,314.15 868.04,312.94 868.17,311.73 873.78,311.19 874,310.21 874.28,309.24 874.61,308.27 869.57,306.78 870.12,305.61 870.75,304.46 871.45,303.31 877.11,303.64 877.79,302.73 878.53,301.83 879.32,300.95 875.18,298.76 876.27,297.72 877.43,296.7 878.66,295.7 883.96,296.87 885.05,296.1 886.19,295.35 887.38,294.61 884.45,291.88 886,291.04 887.61,290.23 889.28,289.46 893.81,291.39 895.23,290.81 896.7,290.26 898.19,289.73 896.69,286.66 898.59,286.08 900.53,285.55 902.5,285.06 905.93,287.6 907.59,287.26 909.26,286.94 910.96,286.67 910.99,283.48 913.1,283.21 915.22,282.99 917.36,282.81 919.44,285.78 921.2,285.7 922.96,285.65 924.72,285.64 926.29,282.58 928.45,282.64 930.6,282.75 932.74,282.9 933.32,286.07 935.05,286.26 936.77,286.48 938.47,286.73 941.46,284.02 943.51,284.4 945.53,284.83 947.52,285.31 946.54,288.45 948.12,288.89 949.67,289.36 951.19,289.86 955.37,287.7 957.16,288.38 958.9,289.1 960.59,289.85 958.13,292.73 959.44,293.4 960.7,294.08 961.92,294.8 966.99,293.35 968.39,294.27 969.72,295.23 970.98,296.21 967.23,298.61 968.17,299.45 969.05,300.3 969.88,301.17 975.46,300.54 976.36,301.64 977.18,302.76 977.92,303.9 973.16,305.64 973.66,306.59 974.1,307.55 974.48,308.51 980.15,308.75 980.49,309.94 980.74,311.15 980.9,312.35 975.48,313.31 975.5,314.3 975.46,315.29 975.37,316.27" fill="#fff" stroke="#222" stroke-width="1.2" stroke-linejoin="round"/>
<ellipse cx="924.5" cy="315.7" rx="19" ry="10.5" fill="#8c8c8c" stroke="#222" stroke-width="1.3"/>
<ellipse cx="924.5" cy="312.9" rx="16.8" ry="9.6" fill="#e0e0e0" stroke="#222" stroke-width="0.6"/>
<ellipse cx="924.5" cy="310.7" rx="15.5" ry="9.2" fill="#fff" stroke="#222" stroke-width="1.4"/>
<polygon points="1059.55,349.95 1059.89,351.14 1060.14,352.35 1060.3,353.55 1060.3,376.55 1060.14,375.35 1059.89,374.14 1059.55,372.95" fill="#fff" stroke="#222" stroke-width="0.9" stroke-linejoin="round"/>
<polygon points="947.57,352.93 953.18,352.39 953.18,375.39 947.57,375.93" fill="#6e6e6e" stroke="#222" stroke-width="0.9" stroke-linejoin="round"/>
<polygon points="1060.3,353.55 1054.88,354.51 1054.88,377.51 1060.3,376.55" fill="#6e6e6e" stroke="#222" stroke-width="0.9" stroke-linejoin="round"/>
<polygon points="947.44,356.56 947.4,355.35 947.44,354.14 947.57,352.93 947.57,375.93 947.44,377.14 947.4,378.35 947.44,379.56" fill="#fff" stroke="#222" stroke-width="0.9" stroke-linejoin="round"/>
<polygon points="1054.88,354.51 1054.9,355.5 1054.86,356.49 1054.77,357.47 1054.77,380.47 1054.86,379.49 1054.9,378.5 1054.88,377.51" fill="#c8c8c8" stroke="#222" stroke-width="0.9" stroke-linejoin="round"/>
<polygon points="953,357.22 947.44,356.56 947.44,379.56 953,380.22" fill="#909090" stroke="#222" stroke-width="0.9" stroke-linejoin="round"/>
<polygon points="1054.77,357.47 1060.12,358.56 1060.12,381.56 1054.77,380.47" fill="#909090" stroke="#222" stroke-width="0.9" stroke-linejoin="round"/>
<polygon points="953.62,360.17 953.35,359.19 953.15,358.21 953,357.22 953,380.22 953.15,381.21 953.35,382.19 953.62,383.17" fill="#c8c8c8" stroke="#222" stroke-width="0.9" stroke-linejoin="round"/>
<polygon points="1060.12,358.56 1059.86,359.76 1059.52,360.96 1059.1,362.14 1059.1,385.14 1059.52,383.96 1059.86,382.76 1060.12,381.56" fill="#fff" stroke="#222" stroke-width="0.9" stroke-linejoin="round"/>
<polygon points="948.47,361.53 953.62,360.17 953.62,383.17 948.47,384.53" fill="#6e6e6e" stroke="#222" stroke-width="0.9" stroke-linejoin="round"/>
<polygon points="1059.1,362.14 1053.41,362.25 1053.41,385.25 1059.1,385.14" fill="#6e6e6e" stroke="#222" stroke-width="0.9" stroke-linejoin="round"/>
<polygon points="950.09,365.05 949.47,363.89 948.93,362.71 948.47,361.53 948.47,384.53 948.93,385.71 949.47,386.89 950.09,388.05" fill="#fff" stroke="#222" stroke-width="0.9" stroke-linejoin="round"/>
<polygon points="1053.41,362.25 1052.96,363.2 1052.45,364.15 1051.88,365.08 1051.88,388.08 1052.45,387.15 1052.96,386.2 1053.41,385.25" fill="#c8c8c8" stroke="#222" stroke-width="0.9" stroke-linejoin="round"/>
<polygon points="955.77,364.85 950.09,365.05 950.09,388.05 955.77,387.85" fill="#909090" stroke="#222" stroke-width="0.9" stroke-linejoin="round"/>
<polygon points="1051.88,365.08 1056.51,366.94 1056.51,389.94 1051.88,388.08" fill="#909090" stroke="#222" stroke-width="0.9" stroke-linejoin="round"/>
<polygon points="957.78,367.59 957.05,366.69 956.38,365.77 955.77,364.85 955.77,387.85 956.38,388.77 957.05,389.69 957.78,390.59" fill="#c8c8c8" stroke="#222" stroke-width="0.9" stroke-linejoin="round"/>
<polygon points="1056.51,366.94 1055.69,368.05 1054.78,369.15 1053.81,370.23 1053.81,393.23 1054.78,392.15 1055.69,391.05 1056.51,389.94" fill="#fff" stroke="#222" stroke-width="0.9" stroke-linejoin="round"/>
<polygon points="953.48,369.68 957.78,367.59 957.78,390.59 953.48,392.68" fill="#6e6e6e" stroke="#222" stroke-width="0.9" stroke-linejoin="round"/>
<polygon points="1053.81,370.23 1048.28,369.47 1048.28,392.47 1053.81,393.23" fill="#6e6e6e" stroke="#222" stroke-width="0.9" stroke-linejoin="round"/>
<polygon points="956.73,372.82 955.58,371.79 954.49,370.75 953.48,369.68 953.48,392.68 954.49,393.75 955.58,394.79 956.73,395.82" fill="#fff" stroke="#222" stroke-width="0.9" stroke-linejoin="round"/>
<polygon points="1048.28,369.47 1047.38,370.32 1046.44,371.16 1045.44,371.97 1045.44,394.97 1046.44,394.16 1047.38,393.32 1048.28,392.47" fill="#c8c8c8" stroke="#222" stroke-width="0.9" stroke-linejoin="round"/>
<polygon points="962.11,371.77 956.73,372.82 956.73,395.82 962.11,394.77" fill="#909090" stroke="#222" stroke-width="0.9" stroke-linejoin="round"/>
<polygon points="1045.44,371.97 1049,374.46 1049,397.46 1045.44,394.97" fill="#909090" stroke="#222" stroke-width="0.9" stroke-linejoin="round"/>
<polygon points="965.36,374.1 964.23,373.35 963.14,372.57 962.11,371.77 962.11,394.77 963.14,395.57 964.23,396.35 965.36,397.1" fill="#c8c8c8" stroke="#222" stroke-width="0.9" stroke-linejoin="round"/>
<polygon points="1049,374.46 1047.67,375.41 1046.27,376.33 1044.81,377.22 1044.81,400.22 1046.27,399.33 1047.67,398.41 1049,397.46" fill="#fff" stroke="#222" stroke-width="0.9" stroke-linejoin="round"/>
<polygon points="962.23,376.77 965.36,374.1 965.36,397.1 962.23,399.77" fill="#6e6e6e" stroke="#222" stroke-width="0.9" stroke-linejoin="round"/>
<polygon points="1044.81,377.22 1039.85,375.66 1039.85,398.66 1044.81,400.22" fill="#6e6e6e" stroke="#222" stroke-width="0.9" stroke-linejoin="round"/>
<polygon points="966.87,379.3 965.27,378.49 963.72,377.64 962.23,376.77 962.23,399.77 963.72,400.64 965.27,401.49 966.87,402.3" fill="#fff" stroke="#222" stroke-width="0.9" stroke-linejoin="round"/>
<polygon points="1039.85,375.66 1038.58,376.34 1037.27,377 1035.91,377.63 1035.91,400.63 1037.27,400 1038.58,399.34 1039.85,398.66" fill="#c8c8c8" stroke="#222" stroke-width="0.9" stroke-linejoin="round"/>
<polygon points="971.54,377.48 966.87,379.3 966.87,402.3 971.54,400.48" fill="#909090" stroke="#222" stroke-width="0.9" stroke-linejoin="round"/>
<polygon points="1035.91,377.63 1038.15,380.56 1038.15,403.56 1035.91,400.63" fill="#909090" stroke="#222" stroke-width="0.9" stroke-linejoin="round"/>
<polygon points="975.8,379.23 974.34,378.68 972.92,378.09 971.54,377.48 971.54,400.48 972.92,401.09 974.34,401.68 975.8,402.23" fill="#c8c8c8" stroke="#222" stroke-width="0.9" stroke-linejoin="round"/>
<polygon points="1038.15,380.56 1036.41,381.28 1034.62,381.96 1032.78,382.59 1032.78,405.59 1034.62,404.96 1036.41,404.28 1038.15,403.56" fill="#fff" stroke="#222" stroke-width="0.9" stroke-linejoin="round"/>
<polygon points="974.07,382.27 975.8,379.23 975.8,402.23 974.07,405.27" fill="#6e6e6e" stroke="#222" stroke-width="0.9" stroke-linejoin="round"/>
<polygon points="1032.78,382.59 1028.76,380.34 1028.76,403.34 1032.78,405.59" fill="#6e6e6e" stroke="#222" stroke-width="0.9" stroke-linejoin="round"/>
<polygon points="979.76,384.01 977.82,383.47 975.93,382.89 974.07,382.27 974.07,405.27 975.93,405.89 977.82,406.47 979.76,407.01" fill="#fff" stroke="#222" stroke-width="0.9" stroke-linejoin="round"/>
<polygon points="1028.76,380.34 1027.21,380.8 1025.62,381.24 1024.01,381.65 1024.01,404.65 1025.62,404.24 1027.21,403.8 1028.76,403.34" fill="#c8c8c8" stroke="#222" stroke-width="0.9" stroke-linejoin="round"/>
<polygon points="983.38,381.55 979.76,384.01 979.76,407.01 983.38,404.55" fill="#909090" stroke="#222" stroke-width="0.9" stroke-linejoin="round"/>
<polygon points="1024.01,381.65 1024.76,384.81 1024.76,407.81 1024.01,404.65" fill="#909090" stroke="#222" stroke-width="0.9" stroke-linejoin="round"/>
<polygon points="988.33,382.6 986.65,382.28 985,381.93 983.38,381.55 983.38,404.55 985,404.93 986.65,405.28 988.33,405.6" fill="#c8c8c8" stroke="#222" stroke-width="0.9" stroke-linejoin="round"/>
<polygon points="1024.76,384.81 1022.73,385.23 1020.68,385.61 1018.61,385.95 1018.61,408.95 1020.68,408.61 1022.73,408.23 1024.76,407.81" fill="#fff" stroke="#222" stroke-width="0.9" stroke-linejoin="round"/>
<polygon points="988.12,385.78 988.33,382.6 988.33,405.6 988.12,408.78" fill="#6e6e6e" stroke="#222" stroke-width="0.9" stroke-linejoin="round"/>
<polygon points="1018.61,385.95 1015.83,383.17 1015.83,406.17 1018.61,408.95" fill="#6e6e6e" stroke="#222" stroke-width="0.9" stroke-linejoin="round"/>
<polygon points="994.44,386.59 992.31,386.37 990.21,386.1 988.12,385.78 988.12,408.78 990.21,409.1 992.31,409.37 994.44,409.59" fill="#fff" stroke="#222" stroke-width="0.9" stroke-linejoin="round"/>
<polygon points="1015.83,383.17 1014.1,383.38 1012.37,383.56 1010.62,383.71 1010.62,406.71 1012.37,406.56 1014.1,406.38 1015.83,406.17" fill="#c8c8c8" stroke="#222" stroke-width="0.9" stroke-linejoin="round"/>
<polygon points="996.73,383.68 994.44,386.59 994.44,409.59 996.73,406.68" fill="#909090" stroke="#222" stroke-width="0.9" stroke-linejoin="round"/>
<polygon points="1010.62,383.71 1009.82,386.87 1009.82,409.87 1010.62,406.71" fill="#909090" stroke="#222" stroke-width="0.9" stroke-linejoin="round"/>
<polygon points="1002,383.94 1000.24,383.89 998.49,383.8 996.73,383.68 996.73,406.68 998.49,406.8 1000.24,406.89 1002,406.94" fill="#c8c8c8" stroke="#222" stroke-width="0.9" stroke-linejoin="round"/>
<polygon points="1009.82,386.87 1007.66,386.97 1005.5,387.03 1003.34,387.04 1003.34,410.04 1005.5,410.03 1007.66,409.97 1009.82,409.87" fill="#fff" stroke="#222" stroke-width="0.9" stroke-linejoin="round"/>
<polygon points="1003.34,387.04 1002,383.94 1002,406.94 1003.34,410.04" fill="#6e6e6e" stroke="#222" stroke-width="0.9" stroke-linejoin="round"/>
<polygon points="1060.12,358.56 1059.86,359.76 1059.52,360.96 1059.1,362.14 1053.41,362.25 1052.96,363.2 1052.45,364.15 1051.88,365.08 1056.51,366.94 1055.69,368.05 1054.78,369.15 1053.81,370.23 1048.28,369.47 1047.38,370.32 1046.44,371.16 1045.44,371.97 1049,374.46 1047.67,375.41 1046.27,376.33 1044.81,377.22 1039.85,375.66 1038.58,376.34 1037.27,377 1035.91,377.63 1038.15,380.56 1036.41,381.28 1034.62,381.96 1032.78,382.59 1028.76,380.34 1027.21,380.8 1025.62,381.24 1024.01,381.65 1024.76,384.81 1022.73,385.23 1020.68,385.61 1018.61,385.95 1015.83,383.17 1014.1,383.38 1012.37,383.56 1010.62,383.71 1009.82,386.87 1007.66,386.97 1005.5,387.03 1003.34,387.04 1002,383.94 1000.24,383.89 998.49,383.8 996.73,383.68 994.44,386.59 992.31,386.37 990.21,386.1 988.12,385.78 988.33,382.6 986.65,382.28 985,381.93 983.38,381.55 979.76,384.01 977.82,383.47 975.93,382.89 974.07,382.27 975.8,379.23 974.34,378.68 972.92,378.09 971.54,377.48 966.87,379.3 965.27,378.49 963.72,377.64 962.23,376.77 965.36,374.1 964.23,373.35 963.14,372.57 962.11,371.77 956.73,372.82 955.58,371.79 954.49,370.75 953.48,369.68 957.78,367.59 957.05,366.69 956.38,365.77 955.77,364.85 950.09,365.05 949.47,363.89 948.93,362.71 948.47,361.53 953.62,360.17 953.35,359.19 953.15,358.21 953,357.22 947.44,356.56 947.4,355.35 947.44,354.14 947.57,352.93 953.18,352.39 953.4,351.41 953.68,350.44 954.01,349.47 948.97,347.98 949.52,346.81 950.15,345.66 950.85,344.51 956.51,344.84 957.19,343.93 957.93,343.03 958.72,342.15 954.58,339.96 955.67,338.92 956.83,337.9 958.06,336.9 963.36,338.07 964.45,337.3 965.59,336.55 966.78,335.81 963.85,333.08 965.4,332.24 967.01,331.43 968.68,330.66 973.21,332.59 974.63,332.01 976.1,331.46 977.59,330.93 976.09,327.86 977.99,327.28 979.93,326.75 981.9,326.26 985.33,328.8 986.99,328.46 988.66,328.14 990.36,327.87 990.39,324.68 992.5,324.41 994.62,324.19 996.76,324.01 998.84,326.98 1000.6,326.9 1002.36,326.85 1004.12,326.84 1005.69,323.78 1007.85,323.84 1010,323.95 1012.14,324.1 1012.72,327.27 1014.45,327.46 1016.17,327.68 1017.87,327.93 1020.86,325.22 1022.91,325.6 1024.93,326.03 1026.92,326.51 1025.94,329.65 1027.52,330.09 1029.07,330.56 1030.59,331.06 1034.77,328.9 1036.56,329.58 1038.3,330.3 1039.99,331.05 1037.53,333.93 1038.84,334.6 1040.1,335.28 1041.32,336 1046.39,334.55 1047.79,335.47 1049.12,336.43 1050.38,337.41 1046.63,339.81 1047.57,340.65 1048.45,341.5 1049.28,342.37 1054.86,341.74 1055.76,342.84 1056.58,343.96 1057.32,345.1 1052.56,346.84 1053.06,347.79 1053.5,348.75 1053.88,349.71 1059.55,349.95 1059.89,351.14 1060.14,352.35 1060.3,353.55 1054.88,354.51 1054.9,355.5 1054.86,356.49 1054.77,357.47" fill="#fff" stroke="#222" stroke-width="1.2" stroke-linejoin="round"/>
<ellipse cx="1003.9" cy="356.9" rx="19" ry="10.5" fill="#8c8c8c" stroke="#222" stroke-width="1.3"/>
<ellipse cx="1003.9" cy="354.1" rx="16.8" ry="9.6" fill="#e0e0e0" stroke="#222" stroke-width="0.6"/>
<ellipse cx="1003.9" cy="351.9" rx="15.5" ry="9.2" fill="#fff" stroke="#222" stroke-width="1.4"/>
<polygon points="1130.95,396.75 1131.29,397.94 1131.54,399.15 1131.7,400.35 1131.7,423.35 1131.54,422.15 1131.29,420.94 1130.95,419.75" fill="#fff" stroke="#222" stroke-width="0.9" stroke-linejoin="round"/>
<polygon points="1018.97,399.73 1024.58,399.19 1024.58,422.19 1018.97,422.73" fill="#6e6e6e" stroke="#222" stroke-width="0.9" stroke-linejoin="round"/>
<polygon points="1131.7,400.35 1126.28,401.31 1126.28,424.31 1131.7,423.35" fill="#6e6e6e" stroke="#222" stroke-width="0.9" stroke-linejoin="round"/>
<polygon points="1018.84,403.36 1018.8,402.15 1018.84,400.94 1018.97,399.73 1018.97,422.73 1018.84,423.94 1018.8,425.15 1018.84,426.36" fill="#fff" stroke="#222" stroke-width="0.9" stroke-linejoin="round"/>
<polygon points="1126.28,401.31 1126.3,402.3 1126.26,403.29 1126.17,404.27 1126.17,427.27 1126.26,426.29 1126.3,425.3 1126.28,424.31" fill="#c8c8c8" stroke="#222" stroke-width="0.9" stroke-linejoin="round"/>
<polygon points="1024.4,404.02 1018.84,403.36 1018.84,426.36 1024.4,427.02" fill="#909090" stroke="#222" stroke-width="0.9" stroke-linejoin="round"/>
<polygon points="1126.17,404.27 1131.52,405.36 1131.52,428.36 1126.17,427.27" fill="#909090" stroke="#222" stroke-width="0.9" stroke-linejoin="round"/>
<polygon points="1025.02,406.97 1024.75,405.99 1024.55,405.01 1024.4,404.02 1024.4,427.02 1024.55,428.01 1024.75,428.99 1025.02,429.97" fill="#c8c8c8" stroke="#222" stroke-width="0.9" stroke-linejoin="round"/>
<polygon points="1131.52,405.36 1131.26,406.56 1130.92,407.76 1130.5,408.94 1130.5,431.94 1130.92,430.76 1131.26,429.56 1131.52,428.36" fill="#fff" stroke="#222" stroke-width="0.9" stroke-linejoin="round"/>
<polygon points="1019.87,408.33 1025.02,406.97 1025.02,429.97 1019.87,431.33" fill="#6e6e6e" stroke="#222" stroke-width="0.9" stroke-linejoin="round"/>
<polygon points="1130.5,408.94 1124.81,409.05 1124.81,432.05 1130.5,431.94" fill="#6e6e6e" stroke="#222" stroke-width="0.9" stroke-linejoin="round"/>
<polygon points="1021.49,411.85 1020.87,410.69 1020.33,409.51 1019.87,408.33 1019.87,431.33 1020.33,432.51 1020.87,433.69 1021.49,434.85" fill="#fff" stroke="#222" stroke-width="0.9" stroke-linejoin="round"/>
<polygon points="1124.81,409.05 1124.36,410 1123.85,410.95 1123.28,411.88 1123.28,434.88 1123.85,433.95 1124.36,433 1124.81,432.05" fill="#c8c8c8" stroke="#222" stroke-width="0.9" stroke-linejoin="round"/>
<polygon points="1027.17,411.65 1021.49,411.85 1021.49,434.85 1027.17,434.65" fill="#909090" stroke="#222" stroke-width="0.9" stroke-linejoin="round"/>
<polygon points="1123.28,411.88 1127.91,413.74 1127.91,436.74 1123.28,434.88" fill="#909090" stroke="#222" stroke-width="0.9" stroke-linejoin="round"/>
<polygon points="1029.18,414.39 1028.45,413.49 1027.78,412.57 1027.17,411.65 1027.17,434.65 1027.78,435.57 1028.45,436.49 1029.18,437.39" fill="#c8c8c8" stroke="#222" stroke-width="0.9" stroke-linejoin="round"/>
<polygon points="1127.91,413.74 1127.09,414.85 1126.18,415.95 1125.21,417.03 1125.21,440.03 1126.18,438.95 1127.09,437.85 1127.91,436.74" fill="#fff" stroke="#222" stroke-width="0.9" stroke-linejoin="round"/>
<polygon points="1024.88,416.48 1029.18,414.39 1029.18,437.39 1024.88,439.48" fill="#6e6e6e" stroke="#222" stroke-width="0.9" stroke-linejoin="round"/>
<polygon points="1125.21,417.03 1119.68,416.27 1119.68,439.27 1125.21,440.03" fill="#6e6e6e" stroke="#222" stroke-width="0.9" stroke-linejoin="round"/>
<polygon points="1028.13,419.62 1026.98,418.59 1025.89,417.55 1024.88,416.48 1024.88,439.48 1025.89,440.55 1026.98,441.59 1028.13,442.62" fill="#fff" stroke="#222" stroke-width="0.9" stroke-linejoin="round"/>
<polygon points="1119.68,416.27 1118.78,417.12 1117.84,417.96 1116.84,418.77 1116.84,441.77 1117.84,440.96 1118.78,440.12 1119.68,439.27" fill="#c8c8c8" stroke="#222" stroke-width="0.9" stroke-linejoin="round"/>
<polygon points="1033.51,418.57 1028.13,419.62 1028.13,442.62 1033.51,441.57" fill="#909090" stroke="#222" stroke-width="0.9" stroke-linejoin="round"/>
<polygon points="1116.84,418.77 1120.4,421.26 1120.4,444.26 1116.84,441.77" fill="#909090" stroke="#222" stroke-width="0.9" stroke-linejoin="round"/>
<polygon points="1036.76,420.9 1035.63,420.15 1034.54,419.37 1033.51,418.57 1033.51,441.57 1034.54,442.37 1035.63,443.15 1036.76,443.9" fill="#c8c8c8" stroke="#222" stroke-width="0.9" stroke-linejoin="round"/>
<polygon points="1120.4,421.26 1119.07,422.21 1117.67,423.13 1116.21,424.02 1116.21,447.02 1117.67,446.13 1119.07,445.21 1120.4,444.26" fill="#fff" stroke="#222" stroke-width="0.9" stroke-linejoin="round"/>
<polygon points="1033.63,423.57 1036.76,420.9 1036.76,443.9 1033.63,446.57" fill="#6e6e6e" stroke="#222" stroke-width="0.9" stroke-linejoin="round"/>
<polygon points="1116.21,424.02 1111.25,422.46 1111.25,445.46 1116.21,447.02" fill="#6e6e6e" stroke="#222" stroke-width="0.9" stroke-linejoin="round"/>
<polygon points="1038.27,426.1 1036.67,425.29 1035.12,424.44 1033.63,423.57 1033.63,446.57 1035.12,447.44 1036.67,448.29 1038.27,449.1" fill="#fff" stroke="#222" stroke-width="0.9" stroke-linejoin="round"/>
<polygon points="1111.25,422.46 1109.98,423.14 1108.67,423.8 1107.31,424.43 1107.31,447.43 1108.67,446.8 1109.98,446.14 1111.25,445.46" fill="#c8c8c8" stroke="#222" stroke-width="0.9" stroke-linejoin="round"/>
<polygon points="1042.94,424.28 1038.27,426.1 1038.27,449.1 1042.94,447.28" fill="#909090" stroke="#222" stroke-width="0.9" stroke-linejoin="round"/>
<polygon points="1107.31,424.43 1109.55,427.36 1109.55,450.36 1107.31,447.43" fill="#909090" stroke="#222" stroke-width="0.9" stroke-linejoin="round"/>
<polygon points="1047.2,426.03 1045.74,425.48 1044.32,424.89 1042.94,424.28 1042.94,447.28 1044.32,447.89 1045.74,448.48 1047.2,449.03" fill="#c8c8c8" stroke="#222" stroke-width="0.9" stroke-linejoin="round"/>
<polygon points="1109.55,427.36 1107.81,428.08 1106.02,428.76 1104.18,429.39 1104.18,452.39 1106.02,451.76 1107.81,451.08 1109.55,450.36" fill="#fff" stroke="#222" stroke-width="0.9" stroke-linejoin="round"/>
<polygon points="1045.47,429.07 1047.2,426.03 1047.2,449.03 1045.47,452.07" fill="#6e6e6e" stroke="#222" stroke-width="0.9" stroke-linejoin="round"/>
<polygon points="1104.18,429.39 1100.16,427.14 1100.16,450.14 1104.18,452.39" fill="#6e6e6e" stroke="#222" stroke-width="0.9" stroke-linejoin="round"/>
<polygon points="1051.16,430.81 1049.22,430.27 1047.33,429.69 1045.47,429.07 1045.47,452.07 1047.33,452.69 1049.22,453.27 1051.16,453.81" fill="#fff" stroke="#222" stroke-width="0.9" stroke-linejoin="round"/>
<polygon points="1100.16,427.14 1098.61,427.6 1097.02,428.04 1095.41,428.45 1095.41,451.45 1097.02,451.04 1098.61,450.6 1100.16,450.14" fill="#c8c8c8" stroke="#222" stroke-width="0.9" stroke-linejoin="round"/>
<polygon points="1054.78,428.35 1051.16,430.81 1051.16,453.81 1054.78,451.35" fill="#909090" stroke="#222" stroke-width="0.9" stroke-linejoin="round"/>
<polygon points="1095.41,428.45 1096.16,431.61 1096.16,454.61 1095.41,451.45" fill="#909090" stroke="#222" stroke-width="0.9" stroke-linejoin="round"/>
<polygon points="1059.73,429.4 1058.05,429.08 1056.4,428.73 1054.78,428.35 1054.78,451.35 1056.4,451.73 1058.05,452.08 1059.73,452.4" fill="#c8c8c8" stroke="#222" stroke-width="0.9" stroke-linejoin="round"/>
<polygon points="1096.16,431.61 1094.13,432.03 1092.08,432.41 1090.01,432.75 1090.01,455.75 1092.08,455.41 1094.13,455.03 1096.16,454.61" fill="#fff" stroke="#222" stroke-width="0.9" stroke-linejoin="round"/>
<polygon points="1059.52,432.58 1059.73,429.4 1059.73,452.4 1059.52,455.58" fill="#6e6e6e" stroke="#222" stroke-width="0.9" stroke-linejoin="round"/>
<polygon points="1090.01,432.75 1087.23,429.97 1087.23,452.97 1090.01,455.75" fill="#6e6e6e" stroke="#222" stroke-width="0.9" stroke-linejoin="round"/>
<polygon points="1065.84,433.39 1063.71,433.17 1061.61,432.9 1059.52,432.58 1059.52,455.58 1061.61,455.9 1063.71,456.17 1065.84,456.39" fill="#fff" stroke="#222" stroke-width="0.9" stroke-linejoin="round"/>
<polygon points="1087.23,429.97 1085.5,430.18 1083.77,430.36 1082.02,430.51 1082.02,453.51 1083.77,453.36 1085.5,453.18 1087.23,452.97" fill="#c8c8c8" stroke="#222" stroke-width="0.9" stroke-linejoin="round"/>
<polygon points="1068.13,430.48 1065.84,433.39 1065.84,456.39 1068.13,453.48" fill="#909090" stroke="#222" stroke-width="0.9" stroke-linejoin="round"/>
<polygon points="1082.02,430.51 1081.22,433.67 1081.22,456.67 1082.02,453.51" fill="#909090" stroke="#222" stroke-width="0.9" stroke-linejoin="round"/>
<polygon points="1073.4,430.74 1071.64,430.69 1069.89,430.6 1068.13,430.48 1068.13,453.48 1069.89,453.6 1071.64,453.69 1073.4,453.74" fill="#c8c8c8" stroke="#222" stroke-width="0.9" stroke-linejoin="round"/>
<polygon points="1081.22,433.67 1079.06,433.77 1076.9,433.83 1074.74,433.84 1074.74,456.84 1076.9,456.83 1079.06,456.77 1081.22,456.67" fill="#fff" stroke="#222" stroke-width="0.9" stroke-linejoin="round"/>
<polygon points="1074.74,433.84 1073.4,430.74 1073.4,453.74 1074.74,456.84" fill="#6e6e6e" stroke="#222" stroke-width="0.9" stroke-linejoin="round"/>
<polygon points="1131.52,405.36 1131.26,406.56 1130.92,407.76 1130.5,408.94 1124.81,409.05 1124.36,410 1123.85,410.95 1123.28,411.88 1127.91,413.74 1127.09,414.85 1126.18,415.95 1125.21,417.03 1119.68,416.27 1118.78,417.12 1117.84,417.96 1116.84,418.77 1120.4,421.26 1119.07,422.21 1117.67,423.13 1116.21,424.02 1111.25,422.46 1109.98,423.14 1108.67,423.8 1107.31,424.43 1109.55,427.36 1107.81,428.08 1106.02,428.76 1104.18,429.39 1100.16,427.14 1098.61,427.6 1097.02,428.04 1095.41,428.45 1096.16,431.61 1094.13,432.03 1092.08,432.41 1090.01,432.75 1087.23,429.97 1085.5,430.18 1083.77,430.36 1082.02,430.51 1081.22,433.67 1079.06,433.77 1076.9,433.83 1074.74,433.84 1073.4,430.74 1071.64,430.69 1069.89,430.6 1068.13,430.48 1065.84,433.39 1063.71,433.17 1061.61,432.9 1059.52,432.58 1059.73,429.4 1058.05,429.08 1056.4,428.73 1054.78,428.35 1051.16,430.81 1049.22,430.27 1047.33,429.69 1045.47,429.07 1047.2,426.03 1045.74,425.48 1044.32,424.89 1042.94,424.28 1038.27,426.1 1036.67,425.29 1035.12,424.44 1033.63,423.57 1036.76,420.9 1035.63,420.15 1034.54,419.37 1033.51,418.57 1028.13,419.62 1026.98,418.59 1025.89,417.55 1024.88,416.48 1029.18,414.39 1028.45,413.49 1027.78,412.57 1027.17,411.65 1021.49,411.85 1020.87,410.69 1020.33,409.51 1019.87,408.33 1025.02,406.97 1024.75,405.99 1024.55,405.01 1024.4,404.02 1018.84,403.36 1018.8,402.15 1018.84,400.94 1018.97,399.73 1024.58,399.19 1024.8,398.21 1025.08,397.24 1025.41,396.27 1020.37,394.78 1020.92,393.61 1021.55,392.46 1022.25,391.31 1027.91,391.64 1028.59,390.73 1029.33,389.83 1030.12,388.95 1025.98,386.76 1027.07,385.72 1028.23,384.7 1029.46,383.7 1034.76,384.87 1035.85,384.1 1036.99,383.35 1038.18,382.61 1035.25,379.88 1036.8,379.04 1038.41,378.23 1040.08,377.46 1044.61,379.39 1046.03,378.81 1047.5,378.26 1048.99,377.73 1047.49,374.66 1049.39,374.08 1051.33,373.55 1053.3,373.06 1056.73,375.6 1058.39,375.26 1060.06,374.94 1061.76,374.67 1061.79,371.48 1063.9,371.21 1066.02,370.99 1068.16,370.81 1070.24,373.78 1072,373.7 1073.76,373.65 1075.52,373.64 1077.09,370.58 1079.25,370.64 1081.4,370.75 1083.54,370.9 1084.12,374.07 1085.85,374.26 1087.57,374.48 1089.27,374.73 1092.26,372.02 1094.31,372.4 1096.33,372.83 1098.32,373.31 1097.34,376.45 1098.92,376.89 1100.47,377.36 1101.99,377.86 1106.17,375.7 1107.96,376.38 1109.7,377.1 1111.39,377.85 1108.93,380.73 1110.24,381.4 1111.5,382.08 1112.72,382.8 1117.79,381.35 1119.19,382.27 1120.52,383.23 1121.78,384.21 1118.03,386.61 1118.97,387.45 1119.85,388.3 1120.68,389.17 1126.26,388.54 1127.16,389.64 1127.98,390.76 1128.72,391.9 1123.96,393.64 1124.46,394.59 1124.9,395.55 1125.28,396.51 1130.95,396.75 1131.29,397.94 1131.54,399.15 1131.7,400.35 1126.28,401.31 1126.3,402.3 1126.26,403.29 1126.17,404.27" fill="#fff" stroke="#222" stroke-width="1.2" stroke-linejoin="round"/>
<ellipse cx="1075.3" cy="403.7" rx="19" ry="10.5" fill="#8c8c8c" stroke="#222" stroke-width="1.3"/>
<ellipse cx="1075.3" cy="400.9" rx="16.8" ry="9.6" fill="#e0e0e0" stroke="#222" stroke-width="0.6"/>
<ellipse cx="1075.3" cy="398.7" rx="15.5" ry="9.2" fill="#fff" stroke="#222" stroke-width="1.4"/>
<polygon points="1211.55,437.35 1211.89,438.54 1212.14,439.75 1212.3,440.95 1212.3,463.95 1212.14,462.75 1211.89,461.54 1211.55,460.35" fill="#fff" stroke="#222" stroke-width="0.9" stroke-linejoin="round"/>
<polygon points="1099.57,440.33 1105.18,439.79 1105.18,462.79 1099.57,463.33" fill="#6e6e6e" stroke="#222" stroke-width="0.9" stroke-linejoin="round"/>
<polygon points="1212.3,440.95 1206.88,441.91 1206.88,464.91 1212.3,463.95" fill="#6e6e6e" stroke="#222" stroke-width="0.9" stroke-linejoin="round"/>
<polygon points="1099.44,443.96 1099.4,442.75 1099.44,441.54 1099.57,440.33 1099.57,463.33 1099.44,464.54 1099.4,465.75 1099.44,466.96" fill="#fff" stroke="#222" stroke-width="0.9" stroke-linejoin="round"/>
<polygon points="1206.88,441.91 1206.9,442.9 1206.86,443.89 1206.77,444.87 1206.77,467.87 1206.86,466.89 1206.9,465.9 1206.88,464.91" fill="#c8c8c8" stroke="#222" stroke-width="0.9" stroke-linejoin="round"/>
<polygon points="1105,444.62 1099.44,443.96 1099.44,466.96 1105,467.62" fill="#909090" stroke="#222" stroke-width="0.9" stroke-linejoin="round"/>
<polygon points="1206.77,444.87 1212.12,445.96 1212.12,468.96 1206.77,467.87" fill="#909090" stroke="#222" stroke-width="0.9" stroke-linejoin="round"/>
<polygon points="1105.62,447.57 1105.35,446.59 1105.15,445.61 1105,444.62 1105,467.62 1105.15,468.61 1105.35,469.59 1105.62,470.57" fill="#c8c8c8" stroke="#222" stroke-width="0.9" stroke-linejoin="round"/>
<polygon points="1212.12,445.96 1211.86,447.16 1211.52,448.36 1211.1,449.54 1211.1,472.54 1211.52,471.36 1211.86,470.16 1212.12,468.96" fill="#fff" stroke="#222" stroke-width="0.9" stroke-linejoin="round"/>
<polygon points="1100.47,448.93 1105.62,447.57 1105.62,470.57 1100.47,471.93" fill="#6e6e6e" stroke="#222" stroke-width="0.9" stroke-linejoin="round"/>
<polygon points="1211.1,449.54 1205.41,449.65 1205.41,472.65 1211.1,472.54" fill="#6e6e6e" stroke="#222" stroke-width="0.9" stroke-linejoin="round"/>
<polygon points="1102.09,452.45 1101.47,451.29 1100.93,450.11 1100.47,448.93 1100.47,471.93 1100.93,473.11 1101.47,474.29 1102.09,475.45" fill="#fff" stroke="#222" stroke-width="0.9" stroke-linejoin="round"/>
<polygon points="1205.41,449.65 1204.96,450.6 1204.45,451.55 1203.88,452.48 1203.88,475.48 1204.45,474.55 1204.96,473.6 1205.41,472.65" fill="#c8c8c8" stroke="#222" stroke-width="0.9" stroke-linejoin="round"/>
<polygon points="1107.77,452.25 1102.09,452.45 1102.09,475.45 1107.77,475.25" fill="#909090" stroke="#222" stroke-width="0.9" stroke-linejoin="round"/>
<polygon points="1203.88,452.48 1208.51,454.34 1208.51,477.34 1203.88,475.48" fill="#909090" stroke="#222" stroke-width="0.9" stroke-linejoin="round"/>
<polygon points="1109.78,454.99 1109.05,454.09 1108.38,453.17 1107.77,452.25 1107.77,475.25 1108.38,476.17 1109.05,477.09 1109.78,477.99" fill="#c8c8c8" stroke="#222" stroke-width="0.9" stroke-linejoin="round"/>
<polygon points="1208.51,454.34 1207.69,455.45 1206.78,456.55 1205.81,457.63 1205.81,480.63 1206.78,479.55 1207.69,478.45 1208.51,477.34" fill="#fff" stroke="#222" stroke-width="0.9" stroke-linejoin="round"/>
<polygon points="1105.48,457.08 1109.78,454.99 1109.78,477.99 1105.48,480.08" fill="#6e6e6e" stroke="#222" stroke-width="0.9" stroke-linejoin="round"/>
<polygon points="1205.81,457.63 1200.28,456.87 1200.28,479.87 1205.81,480.63" fill="#6e6e6e" stroke="#222" stroke-width="0.9" stroke-linejoin="round"/>
<polygon points="1108.73,460.22 1107.58,459.19 1106.49,458.15 1105.48,457.08 1105.48,480.08 1106.49,481.15 1107.58,482.19 1108.73,483.22" fill="#fff" stroke="#222" stroke-width="0.9" stroke-linejoin="round"/>
<polygon points="1200.28,456.87 1199.38,457.72 1198.44,458.56 1197.44,459.37 1197.44,482.37 1198.44,481.56 1199.38,480.72 1200.28,479.87" fill="#c8c8c8" stroke="#222" stroke-width="0.9" stroke-linejoin="round"/>
<polygon points="1114.11,459.17 1108.73,460.22 1108.73,483.22 1114.11,482.17" fill="#909090" stroke="#222" stroke-width="0.9" stroke-linejoin="round"/>
<polygon points="1197.44,459.37 1201,461.86 1201,484.86 1197.44,482.37" fill="#909090" stroke="#222" stroke-width="0.9" stroke-linejoin="round"/>
<polygon points="1117.36,461.5 1116.23,460.75 1115.14,459.97 1114.11,459.17 1114.11,482.17 1115.14,482.97 1116.23,483.75 1117.36,484.5" fill="#c8c8c8" stroke="#222" stroke-width="0.9" stroke-linejoin="round"/>
<polygon points="1201,461.86 1199.67,462.81 1198.27,463.73 1196.81,464.62 1196.81,487.62 1198.27,486.73 1199.67,485.81 1201,484.86" fill="#fff" stroke="#222" stroke-width="0.9" stroke-linejoin="round"/>
<polygon points="1114.23,464.17 1117.36,461.5 1117.36,484.5 1114.23,487.17" fill="#6e6e6e" stroke="#222" stroke-width="0.9" stroke-linejoin="round"/>
<polygon points="1196.81,464.62 1191.85,463.06 1191.85,486.06 1196.81,487.62" fill="#6e6e6e" stroke="#222" stroke-width="0.9" stroke-linejoin="round"/>
<polygon points="1118.87,466.7 1117.27,465.89 1115.72,465.04 1114.23,464.17 1114.23,487.17 1115.72,488.04 1117.27,488.89 1118.87,489.7" fill="#fff" stroke="#222" stroke-width="0.9" stroke-linejoin="round"/>
<polygon points="1191.85,463.06 1190.58,463.74 1189.27,464.4 1187.91,465.03 1187.91,488.03 1189.27,487.4 1190.58,486.74 1191.85,486.06" fill="#c8c8c8" stroke="#222" stroke-width="0.9" stroke-linejoin="round"/>
<polygon points="1123.54,464.88 1118.87,466.7 1118.87,489.7 1123.54,487.88" fill="#909090" stroke="#222" stroke-width="0.9" stroke-linejoin="round"/>
<polygon points="1187.91,465.03 1190.15,467.96 1190.15,490.96 1187.91,488.03" fill="#909090" stroke="#222" stroke-width="0.9" stroke-linejoin="round"/>
<polygon points="1127.8,466.63 1126.34,466.08 1124.92,465.49 1123.54,464.88 1123.54,487.88 1124.92,488.49 1126.34,489.08 1127.8,489.63" fill="#c8c8c8" stroke="#222" stroke-width="0.9" stroke-linejoin="round"/>
<polygon points="1190.15,467.96 1188.41,468.68 1186.62,469.36 1184.78,469.99 1184.78,492.99 1186.62,492.36 1188.41,491.68 1190.15,490.96" fill="#fff" stroke="#222" stroke-width="0.9" stroke-linejoin="round"/>
<polygon points="1126.07,469.67 1127.8,466.63 1127.8,489.63 1126.07,492.67" fill="#6e6e6e" stroke="#222" stroke-width="0.9" stroke-linejoin="round"/>
<polygon points="1184.78,469.99 1180.76,467.74 1180.76,490.74 1184.78,492.99" fill="#6e6e6e" stroke="#222" stroke-width="0.9" stroke-linejoin="round"/>
<polygon points="1131.76,471.41 1129.82,470.87 1127.93,470.29 1126.07,469.67 1126.07,492.67 1127.93,493.29 1129.82,493.87 1131.76,494.41" fill="#fff" stroke="#222" stroke-width="0.9" stroke-linejoin="round"/>
<polygon points="1180.76,467.74 1179.21,468.2 1177.62,468.64 1176.01,469.05 1176.01,492.05 1177.62,491.64 1179.21,491.2 1180.76,490.74" fill="#c8c8c8" stroke="#222" stroke-width="0.9" stroke-linejoin="round"/>
<polygon points="1135.38,468.95 1131.76,471.41 1131.76,494.41 1135.38,491.95" fill="#909090" stroke="#222" stroke-width="0.9" stroke-linejoin="round"/>
<polygon points="1176.01,469.05 1176.76,472.21 1176.76,495.21 1176.01,492.05" fill="#909090" stroke="#222" stroke-width="0.9" stroke-linejoin="round"/>
<polygon points="1140.33,470 1138.65,469.68 1137,469.33 1135.38,468.95 1135.38,491.95 1137,492.33 1138.65,492.68 1140.33,493" fill="#c8c8c8" stroke="#222" stroke-width="0.9" stroke-linejoin="round"/>
<polygon points="1176.76,472.21 1174.73,472.63 1172.68,473.01 1170.61,473.35 1170.61,496.35 1172.68,496.01 1174.73,495.63 1176.76,495.21" fill="#fff" stroke="#222" stroke-width="0.9" stroke-linejoin="round"/>
<polygon points="1140.12,473.18 1140.33,470 1140.33,493 1140.12,496.18" fill="#6e6e6e" stroke="#222" stroke-width="0.9" stroke-linejoin="round"/>
<polygon points="1170.61,473.35 1167.83,470.57 1167.83,493.57 1170.61,496.35" fill="#6e6e6e" stroke="#222" stroke-width="0.9" stroke-linejoin="round"/>
<polygon points="1146.44,473.99 1144.31,473.77 1142.21,473.5 1140.12,473.18 1140.12,496.18 1142.21,496.5 1144.31,496.77 1146.44,496.99" fill="#fff" stroke="#222" stroke-width="0.9" stroke-linejoin="round"/>
<polygon points="1167.83,470.57 1166.1,470.78 1164.37,470.96 1162.62,471.11 1162.62,494.11 1164.37,493.96 1166.1,493.78 1167.83,493.57" fill="#c8c8c8" stroke="#222" stroke-width="0.9" stroke-linejoin="round"/>
<polygon points="1148.73,471.08 1146.44,473.99 1146.44,496.99 1148.73,494.08" fill="#909090" stroke="#222" stroke-width="0.9" stroke-linejoin="round"/>
<polygon points="1162.62,471.11 1161.82,474.27 1161.82,497.27 1162.62,494.11" fill="#909090" stroke="#222" stroke-width="0.9" stroke-linejoin="round"/>
<polygon points="1154,471.34 1152.24,471.29 1150.49,471.2 1148.73,471.08 1148.73,494.08 1150.49,494.2 1152.24,494.29 1154,494.34" fill="#c8c8c8" stroke="#222" stroke-width="0.9" stroke-linejoin="round"/>
<polygon points="1161.82,474.27 1159.66,474.37 1157.5,474.43 1155.34,474.44 1155.34,497.44 1157.5,497.43 1159.66,497.37 1161.82,497.27" fill="#fff" stroke="#222" stroke-width="0.9" stroke-linejoin="round"/>
<polygon points="1155.34,474.44 1154,471.34 1154,494.34 1155.34,497.44" fill="#6e6e6e" stroke="#222" stroke-width="0.9" stroke-linejoin="round"/>
<polygon points="1212.12,445.96 1211.86,447.16 1211.52,448.36 1211.1,449.54 1205.41,449.65 1204.96,450.6 1204.45,451.55 1203.88,452.48 1208.51,454.34 1207.69,455.45 1206.78,456.55 1205.81,457.63 1200.28,456.87 1199.38,457.72 1198.44,458.56 1197.44,459.37 1201,461.86 1199.67,462.81 1198.27,463.73 1196.81,464.62 1191.85,463.06 1190.58,463.74 1189.27,464.4 1187.91,465.03 1190.15,467.96 1188.41,468.68 1186.62,469.36 1184.78,469.99 1180.76,467.74 1179.21,468.2 1177.62,468.64 1176.01,469.05 1176.76,472.21 1174.73,472.63 1172.68,473.01 1170.61,473.35 1167.83,470.57 1166.1,470.78 1164.37,470.96 1162.62,471.11 1161.82,474.27 1159.66,474.37 1157.5,474.43 1155.34,474.44 1154,471.34 1152.24,471.29 1150.49,471.2 1148.73,471.08 1146.44,473.99 1144.31,473.77 1142.21,473.5 1140.12,473.18 1140.33,470 1138.65,469.68 1137,469.33 1135.38,468.95 1131.76,471.41 1129.82,470.87 1127.93,470.29 1126.07,469.67 1127.8,466.63 1126.34,466.08 1124.92,465.49 1123.54,464.88 1118.87,466.7 1117.27,465.89 1115.72,465.04 1114.23,464.17 1117.36,461.5 1116.23,460.75 1115.14,459.97 1114.11,459.17 1108.73,460.22 1107.58,459.19 1106.49,458.15 1105.48,457.08 1109.78,454.99 1109.05,454.09 1108.38,453.17 1107.77,452.25 1102.09,452.45 1101.47,451.29 1100.93,450.11 1100.47,448.93 1105.62,447.57 1105.35,446.59 1105.15,445.61 1105,444.62 1099.44,443.96 1099.4,442.75 1099.44,441.54 1099.57,440.33 1105.18,439.79 1105.4,438.81 1105.68,437.84 1106.01,436.87 1100.97,435.38 1101.52,434.21 1102.15,433.06 1102.85,431.91 1108.51,432.24 1109.19,431.33 1109.93,430.43 1110.72,429.55 1106.58,427.36 1107.67,426.32 1108.83,425.3 1110.06,424.3 1115.36,425.47 1116.45,424.7 1117.59,423.95 1118.78,423.21 1115.85,420.48 1117.4,419.64 1119.01,418.83 1120.68,418.06 1125.21,419.99 1126.63,419.41 1128.1,418.86 1129.59,418.33 1128.09,415.26 1129.99,414.68 1131.93,414.15 1133.9,413.66 1137.33,416.2 1138.99,415.86 1140.66,415.54 1142.36,415.27 1142.39,412.08 1144.5,411.81 1146.62,411.59 1148.76,411.41 1150.84,414.38 1152.6,414.3 1154.36,414.25 1156.12,414.24 1157.69,411.18 1159.85,411.24 1162,411.35 1164.14,411.5 1164.72,414.67 1166.45,414.86 1168.17,415.08 1169.87,415.33 1172.86,412.62 1174.91,413 1176.93,413.43 1178.92,413.91 1177.94,417.05 1179.52,417.49 1181.07,417.96 1182.59,418.46 1186.77,416.3 1188.56,416.98 1190.3,417.7 1191.99,418.45 1189.53,421.33 1190.84,422 1192.1,422.68 1193.32,423.4 1198.39,421.95 1199.79,422.87 1201.12,423.83 1202.38,424.81 1198.63,427.21 1199.57,428.05 1200.45,428.9 1201.28,429.77 1206.86,429.14 1207.76,430.24 1208.58,431.36 1209.32,432.5 1204.56,434.24 1205.06,435.19 1205.5,436.15 1205.88,437.11 1211.55,437.35 1211.89,438.54 1212.14,439.75 1212.3,440.95 1206.88,441.91 1206.9,442.9 1206.86,443.89 1206.77,444.87" fill="#fff" stroke="#222" stroke-width="1.2" stroke-linejoin="round"/>
<ellipse cx="1155.9" cy="444.3" rx="19" ry="10.5" fill="#8c8c8c" stroke="#222" stroke-width="1.3"/>
<ellipse cx="1155.9" cy="441.5" rx="16.8" ry="9.6" fill="#e0e0e0" stroke="#222" stroke-width="0.6"/>
<ellipse cx="1155.9" cy="439.3" rx="15.5" ry="9.2" fill="#fff" stroke="#222" stroke-width="1.4"/>
<line x1="193.5" y1="126.5" x2="375.6" y2="230.9" stroke="#222" stroke-width="1.3"/>
<line x1="169.4" y1="450.2" x2="337.9" y2="503.3" stroke="#222" stroke-width="1.3"/>
<line x1="98" y1="804.3" x2="210" y2="776.4" stroke="#222" stroke-width="1.3"/>
<line x1="1408" y1="393.8" x2="1170" y2="588.8" stroke="#222" stroke-width="1.3"/>
<line x1="1455.2" y1="635.3" x2="1119.3" y2="635.3" stroke="#222" stroke-width="1.3"/>
<text x="138.9" y="131.9" font-family="Liberation Sans" font-size="72.5" fill="#000">2</text>
<polygon points="134.4,424 134.4,473.9 127.6,473.9 127.6,435.2 114.8,442.6 114.8,436.6 121.5,432.8 126.5,428.5 129.4,424" fill="#000"/>
<polygon points="30,788.4 30,838.3 23.2,838.3 23.2,799.6 10.4,807 10.4,801 17.1,797.2 22.1,792.9 25,788.4" fill="#000"/>
<text x="41.1" y="838.1" font-family="Liberation Sans" font-size="72.5" fill="#000">3</text>
<text x="1409.6" y="377.1" font-family="Liberation Sans" font-size="72.5" fill="#000">5</text>
<text x="1475" y="655.7" font-family="Liberation Sans" font-size="72.5" fill="#000">6</text>
</svg></body></html>
